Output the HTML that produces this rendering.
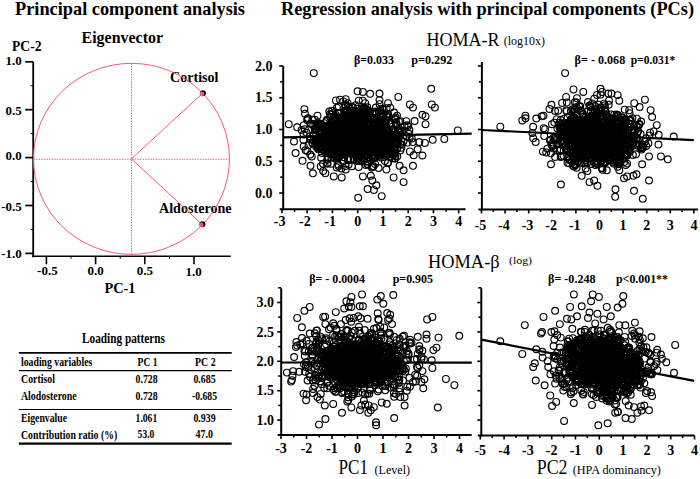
<!DOCTYPE html>
<html><head><meta charset="utf-8"><style>
html,body{margin:0;padding:0;background:#fff;width:700px;height:479px;overflow:hidden}
svg{display:block}
text{font-family:"Liberation Serif",serif;fill:#000}
</style></head><body>
<svg width="700" height="479" viewBox="0 0 700 479">
<text x="15" y="15" font-size="19" font-weight="bold" textLength="230" lengthAdjust="spacingAndGlyphs">Principal component analysis</text>
<text x="281" y="14.5" font-size="19" font-weight="bold" textLength="413" lengthAdjust="spacingAndGlyphs">Regression analysis with principal components (PCs)</text>
<text x="81.5" y="43.2" font-size="16" font-weight="bold" textLength="81.5" lengthAdjust="spacingAndGlyphs">Eigenvector</text>
<text x="12" y="50.8" font-size="15" font-weight="bold" textLength="29.5" lengthAdjust="spacingAndGlyphs">PC-2</text>
<text x="21.8" y="65" font-size="13" font-weight="bold" text-anchor="end">1.0</text>
<text x="21.8" y="115" font-size="13" font-weight="bold" text-anchor="end">0.5</text>
<text x="21.8" y="160.3" font-size="13" font-weight="bold" text-anchor="end">0.0</text>
<text x="21.8" y="210.9" font-size="13" font-weight="bold" text-anchor="end">-0.5</text>
<text x="21.8" y="258" font-size="13" font-weight="bold" text-anchor="end">-1.0</text>
<text x="47.4" y="275" font-size="13" font-weight="bold" text-anchor="middle">-0.5</text>
<text x="95.5" y="275" font-size="13" font-weight="bold" text-anchor="middle">0.0</text>
<text x="144.8" y="275" font-size="13" font-weight="bold" text-anchor="middle">0.5</text>
<text x="193.6" y="276" font-size="13" font-weight="bold" text-anchor="middle">1.0</text>
<text x="104.5" y="293" font-size="14" font-weight="bold" textLength="31" lengthAdjust="spacingAndGlyphs">PC-1</text>
<text x="170" y="81.5" font-size="14" font-weight="bold" textLength="48.5" lengthAdjust="spacingAndGlyphs">Cortisol</text>
<text x="159" y="213" font-size="14" font-weight="bold" textLength="72.6" lengthAdjust="spacingAndGlyphs">Aldosterone</text>
<text x="82" y="342.9" font-size="15.5" font-weight="bold" textLength="83" lengthAdjust="spacingAndGlyphs">Loading patterns</text>
<text x="21" y="365.5" font-size="13.5" font-weight="bold" textLength="71.3" lengthAdjust="spacingAndGlyphs">loading variables</text>
<text x="137.6" y="365.7" font-size="13.5" font-weight="bold" textLength="20" lengthAdjust="spacingAndGlyphs">PC 1</text>
<text x="195.1" y="365.7" font-size="13.5" font-weight="bold" textLength="20.5" lengthAdjust="spacingAndGlyphs">PC 2</text>
<text x="21" y="382.6" font-size="13.5" font-weight="bold" textLength="34" lengthAdjust="spacingAndGlyphs">Cortisol</text>
<text x="135.6" y="383" font-size="13.5" font-weight="bold" textLength="22" lengthAdjust="spacingAndGlyphs">0.728</text>
<text x="193.4" y="383" font-size="13.5" font-weight="bold" textLength="22.2" lengthAdjust="spacingAndGlyphs">0.685</text>
<text x="21" y="399.7" font-size="13.5" font-weight="bold" textLength="55.6" lengthAdjust="spacingAndGlyphs">Alodosterone</text>
<text x="135.6" y="399.5" font-size="13.5" font-weight="bold" textLength="22" lengthAdjust="spacingAndGlyphs">0.728</text>
<text x="192" y="399.5" font-size="13.5" font-weight="bold" textLength="25" lengthAdjust="spacingAndGlyphs">-0.685</text>
<text x="21" y="422" font-size="13.5" font-weight="bold" textLength="46" lengthAdjust="spacingAndGlyphs">Eigenvalue</text>
<text x="135.6" y="421.6" font-size="13.5" font-weight="bold" textLength="21.6" lengthAdjust="spacingAndGlyphs">1.061</text>
<text x="193.4" y="421.6" font-size="13.5" font-weight="bold" textLength="22.2" lengthAdjust="spacingAndGlyphs">0.939</text>
<text x="21" y="438.5" font-size="13.5" font-weight="bold" textLength="96.2" lengthAdjust="spacingAndGlyphs">Contribution ratio (%)</text>
<text x="137.6" y="437.8" font-size="13.5" font-weight="bold" textLength="16.8" lengthAdjust="spacingAndGlyphs">53.0</text>
<text x="195.5" y="437.8" font-size="13.5" font-weight="bold" textLength="17.4" lengthAdjust="spacingAndGlyphs">47.0</text>
<text x="426.5" y="45.8" font-size="18" textLength="73" lengthAdjust="spacingAndGlyphs">HOMA-R</text>
<text x="503.8" y="44.5" font-size="12" textLength="41.2" lengthAdjust="spacingAndGlyphs">(log10x)</text>
<text x="353.9" y="63.9" font-size="11.5" font-weight="bold" textLength="40" lengthAdjust="spacingAndGlyphs">β=0.033</text>
<text x="411.3" y="63.9" font-size="11.5" font-weight="bold" textLength="41" lengthAdjust="spacingAndGlyphs">p=0.292</text>
<text x="574.6" y="63.9" font-size="11.5" font-weight="bold" textLength="50.6" lengthAdjust="spacingAndGlyphs">β= - 0.068</text>
<text x="630.7" y="63.9" font-size="11.5" font-weight="bold" textLength="44.6" lengthAdjust="spacingAndGlyphs">p=0.031*</text>
<text x="428" y="267.5" font-size="18" textLength="71.6" lengthAdjust="spacingAndGlyphs">HOMA-β</text>
<text x="509" y="264" font-size="11" textLength="23" lengthAdjust="spacingAndGlyphs">(log)</text>
<text x="309.2" y="282.9" font-size="11.5" font-weight="bold" textLength="55.8" lengthAdjust="spacingAndGlyphs">β= - 0.0004</text>
<text x="392.7" y="282.9" font-size="11.5" font-weight="bold" textLength="40.3" lengthAdjust="spacingAndGlyphs">p=0.905</text>
<text x="548" y="282.6" font-size="11.5" font-weight="bold" textLength="47.6" lengthAdjust="spacingAndGlyphs">β= -0.248</text>
<text x="616" y="282.6" font-size="11.5" font-weight="bold" textLength="52" lengthAdjust="spacingAndGlyphs">p&lt;0.001**</text>
<text x="338.6" y="474" font-size="20" textLength="29.4" lengthAdjust="spacingAndGlyphs">PC1</text>
<text x="374.5" y="474" font-size="12" textLength="35.5" lengthAdjust="spacingAndGlyphs">(Level)</text>
<text x="536.7" y="474" font-size="20" textLength="30.9" lengthAdjust="spacingAndGlyphs">PC2</text>
<text x="572.7" y="474" font-size="12" textLength="88.2" lengthAdjust="spacingAndGlyphs">(HPA dominancy)</text>
<line x1="33.2" y1="61.9" x2="33.2" y2="257.3" stroke="#000" stroke-width="1.8"/>
<line x1="32.2" y1="256.3" x2="230.8" y2="256.3" stroke="#000" stroke-width="1.6"/>
<line x1="25.200000000000003" y1="61.8" x2="33.2" y2="61.8" stroke="#000" stroke-width="1.7"/>
<line x1="30.700000000000003" y1="85.75" x2="33.2" y2="85.75" stroke="#000" stroke-width="1"/>
<line x1="25.200000000000003" y1="109.69999999999999" x2="33.2" y2="109.69999999999999" stroke="#000" stroke-width="1.7"/>
<line x1="30.700000000000003" y1="133.65" x2="33.2" y2="133.65" stroke="#000" stroke-width="1"/>
<line x1="25.200000000000003" y1="157.6" x2="33.2" y2="157.6" stroke="#000" stroke-width="1.7"/>
<line x1="30.700000000000003" y1="181.54999999999998" x2="33.2" y2="181.54999999999998" stroke="#000" stroke-width="1"/>
<line x1="25.200000000000003" y1="205.5" x2="33.2" y2="205.5" stroke="#000" stroke-width="1.7"/>
<line x1="30.700000000000003" y1="229.45" x2="33.2" y2="229.45" stroke="#000" stroke-width="1"/>
<line x1="25.200000000000003" y1="253.39999999999998" x2="33.2" y2="253.39999999999998" stroke="#000" stroke-width="1.7"/>
<line x1="46.39999999999999" y1="256.3" x2="46.39999999999999" y2="264.3" stroke="#000" stroke-width="1.6"/>
<line x1="71.0" y1="256.3" x2="71.0" y2="258.8" stroke="#000" stroke-width="1"/>
<line x1="95.6" y1="256.3" x2="95.6" y2="264.3" stroke="#000" stroke-width="1.6"/>
<line x1="120.19999999999999" y1="256.3" x2="120.19999999999999" y2="258.8" stroke="#000" stroke-width="1"/>
<line x1="144.8" y1="256.3" x2="144.8" y2="264.3" stroke="#000" stroke-width="1.6"/>
<line x1="169.4" y1="256.3" x2="169.4" y2="258.8" stroke="#000" stroke-width="1"/>
<line x1="194.0" y1="256.3" x2="194.0" y2="264.3" stroke="#000" stroke-width="1.6"/>
<line x1="131.45" y1="63.349999999999994" x2="131.45" y2="254.35" stroke="#f25a74" stroke-width="1" stroke-dasharray="1.4 1.2"/>
<line x1="33.44999999999999" y1="159.25" x2="229.45" y2="159.25" stroke="#f25a74" stroke-width="1" stroke-dasharray="1.4 1.2"/>
<line x1="131.45" y1="158.85" x2="202.5" y2="93.3" stroke="#f25a74" stroke-width="1"/>
<line x1="131.45" y1="158.85" x2="202" y2="224.3" stroke="#f25a74" stroke-width="1"/>
<ellipse cx="131.45" cy="158.85" rx="98" ry="95.5" fill="none" stroke="#f25a74" stroke-width="1"/>
<circle cx="202.9" cy="93.2" r="3.0" fill="#000"/>
<circle cx="201.9" cy="93.89999999999999" r="2.3" fill="#f25a74"/>
<circle cx="202.4" cy="224.20000000000002" r="3.0" fill="#000"/>
<circle cx="201.4" cy="224.9" r="2.3" fill="#f25a74"/>
<line x1="18.9" y1="352.9" x2="231.7" y2="352.9" stroke="#000" stroke-width="1.8"/>
<line x1="18.9" y1="370.6" x2="231.7" y2="370.6" stroke="#000" stroke-width="1.1"/>
<line x1="18.9" y1="409.5" x2="231.7" y2="409.5" stroke="#000" stroke-width="1.1"/>
<line x1="18.9" y1="443.6" x2="231.7" y2="443.6" stroke="#000" stroke-width="2.2"/>
<line x1="283.2" y1="66" x2="283.2" y2="210.3" stroke="#000" stroke-width="2"/>
<line x1="279.7" y1="209.3" x2="465.6" y2="209.3" stroke="#000" stroke-width="2"/>
<line x1="279.2" y1="66.0" x2="283.2" y2="66.0" stroke="#000" stroke-width="1.6"/>
<text x="272.5" y="70.7" font-size="14" font-weight="bold" text-anchor="end">2.0</text>
<line x1="280.2" y1="81.875" x2="283.2" y2="81.875" stroke="#000" stroke-width="1.6"/>
<line x1="279.2" y1="97.75" x2="283.2" y2="97.75" stroke="#000" stroke-width="1.6"/>
<text x="272.5" y="102.45" font-size="14" font-weight="bold" text-anchor="end">1.5</text>
<line x1="280.2" y1="113.625" x2="283.2" y2="113.625" stroke="#000" stroke-width="1.6"/>
<line x1="279.2" y1="129.5" x2="283.2" y2="129.5" stroke="#000" stroke-width="1.6"/>
<text x="272.5" y="134.2" font-size="14" font-weight="bold" text-anchor="end">1.0</text>
<line x1="280.2" y1="145.375" x2="283.2" y2="145.375" stroke="#000" stroke-width="1.6"/>
<line x1="279.2" y1="161.25" x2="283.2" y2="161.25" stroke="#000" stroke-width="1.6"/>
<text x="272.5" y="165.95" font-size="14" font-weight="bold" text-anchor="end">0.5</text>
<line x1="280.2" y1="177.125" x2="283.2" y2="177.125" stroke="#000" stroke-width="1.6"/>
<line x1="279.2" y1="193.0" x2="283.2" y2="193.0" stroke="#000" stroke-width="1.6"/>
<text x="272.5" y="197.7" font-size="14" font-weight="bold" text-anchor="end">0.0</text>
<line x1="281.95" y1="209.3" x2="281.95" y2="213.3" stroke="#000" stroke-width="1.6"/>
<text x="279.61899999999997" y="226.4" font-size="14" font-weight="bold" text-anchor="middle">-3</text>
<line x1="294.575" y1="209.3" x2="294.575" y2="211.8" stroke="#000" stroke-width="1.6"/>
<line x1="307.2" y1="209.3" x2="307.2" y2="213.3" stroke="#000" stroke-width="1.6"/>
<text x="304.86899999999997" y="226.4" font-size="14" font-weight="bold" text-anchor="middle">-2</text>
<line x1="319.825" y1="209.3" x2="319.825" y2="211.8" stroke="#000" stroke-width="1.6"/>
<line x1="332.45" y1="209.3" x2="332.45" y2="213.3" stroke="#000" stroke-width="1.6"/>
<text x="330.11899999999997" y="226.4" font-size="14" font-weight="bold" text-anchor="middle">-1</text>
<line x1="345.075" y1="209.3" x2="345.075" y2="211.8" stroke="#000" stroke-width="1.6"/>
<line x1="357.7" y1="209.3" x2="357.7" y2="213.3" stroke="#000" stroke-width="1.6"/>
<text x="357.7" y="226.4" font-size="14" font-weight="bold" text-anchor="middle">0</text>
<line x1="370.325" y1="209.3" x2="370.325" y2="211.8" stroke="#000" stroke-width="1.6"/>
<line x1="382.95" y1="209.3" x2="382.95" y2="213.3" stroke="#000" stroke-width="1.6"/>
<text x="382.95" y="226.4" font-size="14" font-weight="bold" text-anchor="middle">1</text>
<line x1="395.575" y1="209.3" x2="395.575" y2="211.8" stroke="#000" stroke-width="1.6"/>
<line x1="408.2" y1="209.3" x2="408.2" y2="213.3" stroke="#000" stroke-width="1.6"/>
<text x="408.2" y="226.4" font-size="14" font-weight="bold" text-anchor="middle">2</text>
<line x1="420.825" y1="209.3" x2="420.825" y2="211.8" stroke="#000" stroke-width="1.6"/>
<line x1="433.45" y1="209.3" x2="433.45" y2="213.3" stroke="#000" stroke-width="1.6"/>
<text x="433.45" y="226.4" font-size="14" font-weight="bold" text-anchor="middle">3</text>
<line x1="446.075" y1="209.3" x2="446.075" y2="211.8" stroke="#000" stroke-width="1.6"/>
<line x1="458.7" y1="209.3" x2="458.7" y2="213.3" stroke="#000" stroke-width="1.6"/>
<text x="458.7" y="226.4" font-size="14" font-weight="bold" text-anchor="middle">4</text>
<g fill="none" stroke="#000" stroke-width="1.15"><circle cx="368.7" cy="152.6" r="3.4"/><circle cx="387.6" cy="144.8" r="3.4"/><circle cx="338.8" cy="147.6" r="3.4"/><circle cx="369.3" cy="141.6" r="3.4"/><circle cx="358.0" cy="146.9" r="3.4"/><circle cx="332.1" cy="132.1" r="3.4"/><circle cx="340.7" cy="147.9" r="3.4"/><circle cx="358.3" cy="129.4" r="3.4"/><circle cx="330.5" cy="130.2" r="3.4"/><circle cx="357.3" cy="129.8" r="3.4"/><circle cx="351.1" cy="126.7" r="3.4"/><circle cx="364.2" cy="140.0" r="3.4"/><circle cx="378.9" cy="149.3" r="3.4"/><circle cx="362.7" cy="137.8" r="3.4"/><circle cx="354.6" cy="115.9" r="3.4"/><circle cx="353.7" cy="137.5" r="3.4"/><circle cx="358.2" cy="125.0" r="3.4"/><circle cx="377.1" cy="154.0" r="3.4"/><circle cx="367.9" cy="118.5" r="3.4"/><circle cx="381.8" cy="125.1" r="3.4"/><circle cx="388.0" cy="135.1" r="3.4"/><circle cx="314.7" cy="129.0" r="3.4"/><circle cx="358.8" cy="141.2" r="3.4"/><circle cx="363.8" cy="125.8" r="3.4"/><circle cx="365.0" cy="151.3" r="3.4"/><circle cx="398.4" cy="129.3" r="3.4"/><circle cx="329.6" cy="151.1" r="3.4"/><circle cx="365.6" cy="154.1" r="3.4"/><circle cx="353.3" cy="126.2" r="3.4"/><circle cx="383.2" cy="139.5" r="3.4"/><circle cx="386.9" cy="149.6" r="3.4"/><circle cx="335.3" cy="135.5" r="3.4"/><circle cx="372.1" cy="145.2" r="3.4"/><circle cx="386.7" cy="140.8" r="3.4"/><circle cx="353.8" cy="130.1" r="3.4"/><circle cx="352.3" cy="136.2" r="3.4"/><circle cx="335.0" cy="153.4" r="3.4"/><circle cx="352.7" cy="149.4" r="3.4"/><circle cx="398.3" cy="143.5" r="3.4"/><circle cx="333.7" cy="138.5" r="3.4"/><circle cx="350.5" cy="153.2" r="3.4"/><circle cx="358.1" cy="135.8" r="3.4"/><circle cx="332.8" cy="145.3" r="3.4"/><circle cx="322.0" cy="149.3" r="3.4"/><circle cx="328.5" cy="125.0" r="3.4"/><circle cx="345.2" cy="146.5" r="3.4"/><circle cx="343.3" cy="141.3" r="3.4"/><circle cx="351.0" cy="118.0" r="3.4"/><circle cx="346.2" cy="115.8" r="3.4"/><circle cx="357.2" cy="112.2" r="3.4"/><circle cx="355.2" cy="134.4" r="3.4"/><circle cx="374.3" cy="126.8" r="3.4"/><circle cx="349.3" cy="144.3" r="3.4"/><circle cx="366.6" cy="111.4" r="3.4"/><circle cx="385.2" cy="123.2" r="3.4"/><circle cx="317.2" cy="138.8" r="3.4"/><circle cx="387.4" cy="130.6" r="3.4"/><circle cx="335.7" cy="140.3" r="3.4"/><circle cx="380.7" cy="149.3" r="3.4"/><circle cx="336.9" cy="132.9" r="3.4"/><circle cx="354.5" cy="137.8" r="3.4"/><circle cx="356.0" cy="139.1" r="3.4"/><circle cx="373.7" cy="138.8" r="3.4"/><circle cx="330.6" cy="137.3" r="3.4"/><circle cx="394.6" cy="139.0" r="3.4"/><circle cx="375.6" cy="113.4" r="3.4"/><circle cx="321.0" cy="143.2" r="3.4"/><circle cx="334.2" cy="135.0" r="3.4"/><circle cx="324.2" cy="129.4" r="3.4"/><circle cx="374.0" cy="122.1" r="3.4"/><circle cx="348.9" cy="123.8" r="3.4"/><circle cx="352.5" cy="111.2" r="3.4"/><circle cx="342.2" cy="131.2" r="3.4"/><circle cx="345.7" cy="136.7" r="3.4"/><circle cx="347.1" cy="151.1" r="3.4"/><circle cx="346.1" cy="132.7" r="3.4"/><circle cx="334.5" cy="124.6" r="3.4"/><circle cx="369.2" cy="143.9" r="3.4"/><circle cx="371.2" cy="140.9" r="3.4"/><circle cx="360.2" cy="131.8" r="3.4"/><circle cx="345.0" cy="142.2" r="3.4"/><circle cx="345.5" cy="134.3" r="3.4"/><circle cx="365.3" cy="120.0" r="3.4"/><circle cx="380.0" cy="125.7" r="3.4"/><circle cx="327.6" cy="137.1" r="3.4"/><circle cx="372.1" cy="130.7" r="3.4"/><circle cx="327.8" cy="148.4" r="3.4"/><circle cx="357.9" cy="134.4" r="3.4"/><circle cx="387.4" cy="116.5" r="3.4"/><circle cx="335.8" cy="142.4" r="3.4"/><circle cx="333.4" cy="120.3" r="3.4"/><circle cx="386.1" cy="134.7" r="3.4"/><circle cx="386.0" cy="126.2" r="3.4"/><circle cx="347.5" cy="145.6" r="3.4"/><circle cx="326.2" cy="144.6" r="3.4"/><circle cx="363.7" cy="121.5" r="3.4"/><circle cx="361.9" cy="151.7" r="3.4"/><circle cx="361.6" cy="141.0" r="3.4"/><circle cx="330.5" cy="149.4" r="3.4"/><circle cx="336.9" cy="132.2" r="3.4"/><circle cx="340.7" cy="120.9" r="3.4"/><circle cx="361.7" cy="129.5" r="3.4"/><circle cx="368.0" cy="155.3" r="3.4"/><circle cx="335.6" cy="118.7" r="3.4"/><circle cx="344.6" cy="133.1" r="3.4"/><circle cx="354.3" cy="122.2" r="3.4"/><circle cx="326.3" cy="127.5" r="3.4"/><circle cx="349.4" cy="113.8" r="3.4"/><circle cx="325.9" cy="131.6" r="3.4"/><circle cx="339.4" cy="155.0" r="3.4"/><circle cx="395.5" cy="135.8" r="3.4"/><circle cx="378.6" cy="134.9" r="3.4"/><circle cx="319.8" cy="147.8" r="3.4"/><circle cx="363.9" cy="148.2" r="3.4"/><circle cx="359.5" cy="119.0" r="3.4"/><circle cx="338.3" cy="153.9" r="3.4"/><circle cx="385.6" cy="144.1" r="3.4"/><circle cx="386.6" cy="128.5" r="3.4"/><circle cx="376.3" cy="125.3" r="3.4"/><circle cx="379.8" cy="156.4" r="3.4"/><circle cx="332.1" cy="134.4" r="3.4"/><circle cx="358.3" cy="160.2" r="3.4"/><circle cx="372.5" cy="151.0" r="3.4"/><circle cx="374.5" cy="156.7" r="3.4"/><circle cx="334.4" cy="146.7" r="3.4"/><circle cx="356.9" cy="156.1" r="3.4"/><circle cx="326.4" cy="131.7" r="3.4"/><circle cx="353.7" cy="159.2" r="3.4"/><circle cx="376.6" cy="119.9" r="3.4"/><circle cx="380.1" cy="151.5" r="3.4"/><circle cx="353.2" cy="130.1" r="3.4"/><circle cx="363.4" cy="140.4" r="3.4"/><circle cx="327.7" cy="150.9" r="3.4"/><circle cx="388.9" cy="143.3" r="3.4"/><circle cx="316.5" cy="128.7" r="3.4"/><circle cx="386.3" cy="120.5" r="3.4"/><circle cx="387.6" cy="138.0" r="3.4"/><circle cx="352.3" cy="136.7" r="3.4"/><circle cx="350.1" cy="148.3" r="3.4"/><circle cx="367.5" cy="128.2" r="3.4"/><circle cx="391.1" cy="122.8" r="3.4"/><circle cx="366.7" cy="144.3" r="3.4"/><circle cx="350.4" cy="121.5" r="3.4"/><circle cx="376.8" cy="136.5" r="3.4"/><circle cx="338.2" cy="121.5" r="3.4"/><circle cx="386.4" cy="142.9" r="3.4"/><circle cx="342.5" cy="136.6" r="3.4"/><circle cx="387.9" cy="129.7" r="3.4"/><circle cx="358.3" cy="125.5" r="3.4"/><circle cx="330.5" cy="131.7" r="3.4"/><circle cx="342.9" cy="141.0" r="3.4"/><circle cx="357.8" cy="130.7" r="3.4"/><circle cx="350.3" cy="138.5" r="3.4"/><circle cx="371.7" cy="117.1" r="3.4"/><circle cx="365.8" cy="148.5" r="3.4"/><circle cx="362.5" cy="141.4" r="3.4"/><circle cx="377.0" cy="121.7" r="3.4"/><circle cx="348.9" cy="146.1" r="3.4"/><circle cx="390.9" cy="143.7" r="3.4"/><circle cx="352.5" cy="118.5" r="3.4"/><circle cx="317.0" cy="138.9" r="3.4"/><circle cx="394.6" cy="141.1" r="3.4"/><circle cx="362.9" cy="127.6" r="3.4"/><circle cx="364.9" cy="136.1" r="3.4"/><circle cx="326.9" cy="149.4" r="3.4"/><circle cx="376.9" cy="140.9" r="3.4"/><circle cx="328.9" cy="132.1" r="3.4"/><circle cx="384.4" cy="140.7" r="3.4"/><circle cx="382.1" cy="113.3" r="3.4"/><circle cx="389.0" cy="147.3" r="3.4"/><circle cx="337.4" cy="148.1" r="3.4"/><circle cx="366.1" cy="109.6" r="3.4"/><circle cx="357.7" cy="155.9" r="3.4"/><circle cx="324.3" cy="151.1" r="3.4"/><circle cx="354.0" cy="159.0" r="3.4"/><circle cx="372.8" cy="112.9" r="3.4"/><circle cx="361.3" cy="160.8" r="3.4"/><circle cx="318.8" cy="123.9" r="3.4"/><circle cx="384.1" cy="140.5" r="3.4"/><circle cx="355.2" cy="140.5" r="3.4"/><circle cx="332.2" cy="154.1" r="3.4"/><circle cx="339.0" cy="137.1" r="3.4"/><circle cx="380.2" cy="153.8" r="3.4"/><circle cx="352.7" cy="141.9" r="3.4"/><circle cx="380.3" cy="128.4" r="3.4"/><circle cx="389.4" cy="129.7" r="3.4"/><circle cx="333.2" cy="153.2" r="3.4"/><circle cx="321.1" cy="137.5" r="3.4"/><circle cx="328.1" cy="150.1" r="3.4"/><circle cx="356.2" cy="129.1" r="3.4"/><circle cx="361.3" cy="153.9" r="3.4"/><circle cx="348.8" cy="150.7" r="3.4"/><circle cx="381.4" cy="144.8" r="3.4"/><circle cx="346.7" cy="121.4" r="3.4"/><circle cx="328.4" cy="145.4" r="3.4"/><circle cx="340.9" cy="128.2" r="3.4"/><circle cx="379.4" cy="138.4" r="3.4"/><circle cx="370.6" cy="147.9" r="3.4"/><circle cx="358.0" cy="158.6" r="3.4"/><circle cx="338.4" cy="156.9" r="3.4"/><circle cx="362.9" cy="123.1" r="3.4"/><circle cx="320.8" cy="124.5" r="3.4"/><circle cx="343.3" cy="123.8" r="3.4"/><circle cx="363.2" cy="120.0" r="3.4"/><circle cx="396.3" cy="134.0" r="3.4"/><circle cx="383.6" cy="141.5" r="3.4"/><circle cx="339.2" cy="153.5" r="3.4"/><circle cx="327.5" cy="148.9" r="3.4"/><circle cx="325.2" cy="146.6" r="3.4"/><circle cx="329.2" cy="125.6" r="3.4"/><circle cx="372.7" cy="155.8" r="3.4"/><circle cx="346.5" cy="147.2" r="3.4"/><circle cx="338.4" cy="122.4" r="3.4"/><circle cx="339.0" cy="141.5" r="3.4"/><circle cx="337.4" cy="117.3" r="3.4"/><circle cx="337.6" cy="138.2" r="3.4"/><circle cx="318.0" cy="140.9" r="3.4"/><circle cx="357.1" cy="146.5" r="3.4"/><circle cx="343.9" cy="157.2" r="3.4"/><circle cx="330.2" cy="116.9" r="3.4"/><circle cx="336.1" cy="115.1" r="3.4"/><circle cx="400.1" cy="135.0" r="3.4"/><circle cx="366.3" cy="123.5" r="3.4"/><circle cx="318.0" cy="144.8" r="3.4"/><circle cx="366.1" cy="112.5" r="3.4"/><circle cx="350.9" cy="122.4" r="3.4"/><circle cx="339.1" cy="113.0" r="3.4"/><circle cx="389.2" cy="147.3" r="3.4"/><circle cx="397.1" cy="138.2" r="3.4"/><circle cx="316.7" cy="144.8" r="3.4"/><circle cx="397.6" cy="142.1" r="3.4"/><circle cx="336.3" cy="127.5" r="3.4"/><circle cx="361.6" cy="139.3" r="3.4"/><circle cx="338.0" cy="126.5" r="3.4"/><circle cx="362.2" cy="118.1" r="3.4"/><circle cx="328.6" cy="151.3" r="3.4"/><circle cx="346.8" cy="150.8" r="3.4"/><circle cx="334.1" cy="116.2" r="3.4"/><circle cx="315.7" cy="130.0" r="3.4"/><circle cx="400.6" cy="132.7" r="3.4"/><circle cx="333.4" cy="133.4" r="3.4"/><circle cx="386.9" cy="142.6" r="3.4"/><circle cx="360.3" cy="113.6" r="3.4"/><circle cx="313.8" cy="134.7" r="3.4"/><circle cx="340.5" cy="141.9" r="3.4"/><circle cx="355.7" cy="131.3" r="3.4"/><circle cx="325.3" cy="134.1" r="3.4"/><circle cx="334.4" cy="131.3" r="3.4"/><circle cx="353.0" cy="148.0" r="3.4"/><circle cx="335.5" cy="127.7" r="3.4"/><circle cx="391.5" cy="129.8" r="3.4"/><circle cx="346.3" cy="152.3" r="3.4"/><circle cx="364.4" cy="136.3" r="3.4"/><circle cx="365.0" cy="115.7" r="3.4"/><circle cx="347.7" cy="137.2" r="3.4"/><circle cx="353.2" cy="151.1" r="3.4"/><circle cx="340.6" cy="149.6" r="3.4"/><circle cx="343.1" cy="141.4" r="3.4"/><circle cx="359.2" cy="161.1" r="3.4"/><circle cx="343.5" cy="147.3" r="3.4"/><circle cx="381.6" cy="146.2" r="3.4"/><circle cx="364.7" cy="136.2" r="3.4"/><circle cx="365.4" cy="118.2" r="3.4"/><circle cx="364.8" cy="132.4" r="3.4"/><circle cx="368.7" cy="123.2" r="3.4"/><circle cx="345.1" cy="125.0" r="3.4"/><circle cx="381.5" cy="113.2" r="3.4"/><circle cx="318.3" cy="148.0" r="3.4"/><circle cx="327.3" cy="152.6" r="3.4"/><circle cx="354.5" cy="154.2" r="3.4"/><circle cx="346.0" cy="110.6" r="3.4"/><circle cx="352.3" cy="151.6" r="3.4"/><circle cx="361.7" cy="126.3" r="3.4"/><circle cx="362.9" cy="120.6" r="3.4"/><circle cx="348.0" cy="136.7" r="3.4"/><circle cx="342.4" cy="118.0" r="3.4"/><circle cx="360.0" cy="143.2" r="3.4"/><circle cx="383.5" cy="134.7" r="3.4"/><circle cx="383.8" cy="145.9" r="3.4"/><circle cx="380.8" cy="154.7" r="3.4"/><circle cx="386.6" cy="134.3" r="3.4"/><circle cx="368.3" cy="125.3" r="3.4"/><circle cx="379.5" cy="151.6" r="3.4"/><circle cx="340.3" cy="118.9" r="3.4"/><circle cx="376.3" cy="122.3" r="3.4"/><circle cx="357.5" cy="117.6" r="3.4"/><circle cx="348.4" cy="127.4" r="3.4"/><circle cx="386.5" cy="155.3" r="3.4"/><circle cx="379.0" cy="142.2" r="3.4"/><circle cx="331.2" cy="114.5" r="3.4"/><circle cx="386.8" cy="141.1" r="3.4"/><circle cx="348.8" cy="118.1" r="3.4"/><circle cx="389.2" cy="147.5" r="3.4"/><circle cx="345.0" cy="131.1" r="3.4"/><circle cx="344.8" cy="128.5" r="3.4"/><circle cx="343.6" cy="141.2" r="3.4"/><circle cx="363.6" cy="152.9" r="3.4"/><circle cx="356.1" cy="151.8" r="3.4"/><circle cx="347.1" cy="149.9" r="3.4"/><circle cx="326.6" cy="150.2" r="3.4"/><circle cx="355.9" cy="128.6" r="3.4"/><circle cx="367.6" cy="113.7" r="3.4"/><circle cx="355.0" cy="144.7" r="3.4"/><circle cx="348.3" cy="122.1" r="3.4"/><circle cx="359.4" cy="154.3" r="3.4"/><circle cx="379.1" cy="154.8" r="3.4"/><circle cx="337.4" cy="119.1" r="3.4"/><circle cx="372.8" cy="150.6" r="3.4"/><circle cx="340.3" cy="126.3" r="3.4"/><circle cx="366.7" cy="146.4" r="3.4"/><circle cx="389.0" cy="117.3" r="3.4"/><circle cx="328.0" cy="138.9" r="3.4"/><circle cx="338.4" cy="154.1" r="3.4"/><circle cx="363.6" cy="145.9" r="3.4"/><circle cx="374.3" cy="153.8" r="3.4"/><circle cx="336.5" cy="125.5" r="3.4"/><circle cx="396.6" cy="135.5" r="3.4"/><circle cx="362.1" cy="148.9" r="3.4"/><circle cx="330.1" cy="125.0" r="3.4"/><circle cx="347.2" cy="111.9" r="3.4"/><circle cx="336.0" cy="130.3" r="3.4"/><circle cx="344.9" cy="153.0" r="3.4"/><circle cx="348.9" cy="118.3" r="3.4"/><circle cx="352.5" cy="144.8" r="3.4"/><circle cx="353.3" cy="127.1" r="3.4"/><circle cx="381.9" cy="123.7" r="3.4"/><circle cx="344.7" cy="136.3" r="3.4"/><circle cx="381.7" cy="130.9" r="3.4"/><circle cx="351.5" cy="143.1" r="3.4"/><circle cx="349.8" cy="119.1" r="3.4"/><circle cx="372.2" cy="137.5" r="3.4"/><circle cx="389.3" cy="124.1" r="3.4"/><circle cx="369.9" cy="148.7" r="3.4"/><circle cx="366.4" cy="134.9" r="3.4"/><circle cx="333.4" cy="154.3" r="3.4"/><circle cx="361.6" cy="145.8" r="3.4"/><circle cx="345.1" cy="135.8" r="3.4"/><circle cx="321.9" cy="137.3" r="3.4"/><circle cx="382.9" cy="137.4" r="3.4"/><circle cx="386.1" cy="142.0" r="3.4"/><circle cx="351.4" cy="115.3" r="3.4"/><circle cx="379.0" cy="141.0" r="3.4"/><circle cx="372.1" cy="128.6" r="3.4"/><circle cx="363.7" cy="140.8" r="3.4"/><circle cx="356.6" cy="143.1" r="3.4"/><circle cx="376.5" cy="117.9" r="3.4"/><circle cx="326.5" cy="151.8" r="3.4"/><circle cx="387.1" cy="129.5" r="3.4"/><circle cx="328.4" cy="134.8" r="3.4"/><circle cx="348.2" cy="160.0" r="3.4"/><circle cx="357.5" cy="112.5" r="3.4"/><circle cx="332.1" cy="125.1" r="3.4"/><circle cx="337.5" cy="139.4" r="3.4"/><circle cx="351.6" cy="149.1" r="3.4"/><circle cx="331.4" cy="157.4" r="3.4"/><circle cx="345.7" cy="121.6" r="3.4"/><circle cx="318.4" cy="146.1" r="3.4"/><circle cx="346.7" cy="126.1" r="3.4"/><circle cx="367.8" cy="123.4" r="3.4"/><circle cx="333.8" cy="126.0" r="3.4"/><circle cx="377.4" cy="136.7" r="3.4"/><circle cx="316.6" cy="129.2" r="3.4"/><circle cx="318.3" cy="142.5" r="3.4"/><circle cx="348.2" cy="152.6" r="3.4"/><circle cx="374.6" cy="124.2" r="3.4"/><circle cx="338.8" cy="143.9" r="3.4"/><circle cx="375.7" cy="113.9" r="3.4"/><circle cx="364.5" cy="132.2" r="3.4"/><circle cx="354.7" cy="140.1" r="3.4"/><circle cx="352.3" cy="131.9" r="3.4"/><circle cx="377.7" cy="120.9" r="3.4"/><circle cx="345.0" cy="141.4" r="3.4"/><circle cx="382.5" cy="133.2" r="3.4"/><circle cx="373.5" cy="145.2" r="3.4"/><circle cx="351.1" cy="153.1" r="3.4"/><circle cx="336.5" cy="158.6" r="3.4"/><circle cx="358.4" cy="134.7" r="3.4"/><circle cx="357.0" cy="133.5" r="3.4"/><circle cx="363.0" cy="161.3" r="3.4"/><circle cx="381.3" cy="129.2" r="3.4"/><circle cx="386.9" cy="151.3" r="3.4"/><circle cx="381.8" cy="125.4" r="3.4"/><circle cx="363.2" cy="115.5" r="3.4"/><circle cx="357.0" cy="128.4" r="3.4"/><circle cx="377.4" cy="143.4" r="3.4"/><circle cx="365.0" cy="129.1" r="3.4"/><circle cx="356.2" cy="123.5" r="3.4"/><circle cx="374.5" cy="133.2" r="3.4"/><circle cx="357.7" cy="128.4" r="3.4"/><circle cx="371.3" cy="141.9" r="3.4"/><circle cx="355.8" cy="145.4" r="3.4"/><circle cx="374.8" cy="132.3" r="3.4"/><circle cx="372.3" cy="156.9" r="3.4"/><circle cx="399.0" cy="137.5" r="3.4"/><circle cx="340.2" cy="140.5" r="3.4"/><circle cx="352.4" cy="150.8" r="3.4"/><circle cx="341.4" cy="153.3" r="3.4"/><circle cx="359.6" cy="154.2" r="3.4"/><circle cx="373.3" cy="124.6" r="3.4"/><circle cx="398.2" cy="137.6" r="3.4"/><circle cx="383.0" cy="124.6" r="3.4"/><circle cx="342.6" cy="147.6" r="3.4"/><circle cx="366.7" cy="118.2" r="3.4"/><circle cx="334.4" cy="149.3" r="3.4"/><circle cx="381.5" cy="131.1" r="3.4"/><circle cx="383.4" cy="153.5" r="3.4"/><circle cx="358.8" cy="114.4" r="3.4"/><circle cx="398.4" cy="131.1" r="3.4"/><circle cx="338.7" cy="129.7" r="3.4"/><circle cx="356.8" cy="114.1" r="3.4"/><circle cx="372.7" cy="137.2" r="3.4"/><circle cx="336.9" cy="133.5" r="3.4"/><circle cx="328.6" cy="130.5" r="3.4"/><circle cx="356.2" cy="137.5" r="3.4"/><circle cx="351.2" cy="141.1" r="3.4"/><circle cx="370.1" cy="153.2" r="3.4"/><circle cx="342.5" cy="119.9" r="3.4"/><circle cx="321.0" cy="147.8" r="3.4"/><circle cx="355.4" cy="147.0" r="3.4"/><circle cx="364.0" cy="151.1" r="3.4"/><circle cx="346.4" cy="110.2" r="3.4"/><circle cx="319.6" cy="128.5" r="3.4"/><circle cx="360.7" cy="155.7" r="3.4"/><circle cx="378.9" cy="121.8" r="3.4"/><circle cx="363.8" cy="150.2" r="3.4"/><circle cx="375.6" cy="143.9" r="3.4"/><circle cx="328.4" cy="144.0" r="3.4"/><circle cx="333.8" cy="140.9" r="3.4"/><circle cx="385.7" cy="136.4" r="3.4"/><circle cx="320.0" cy="126.7" r="3.4"/><circle cx="322.8" cy="136.3" r="3.4"/><circle cx="354.7" cy="130.8" r="3.4"/><circle cx="357.9" cy="133.8" r="3.4"/><circle cx="382.6" cy="147.2" r="3.4"/><circle cx="337.0" cy="118.4" r="3.4"/><circle cx="330.3" cy="142.4" r="3.4"/><circle cx="327.0" cy="146.6" r="3.4"/><circle cx="343.3" cy="140.6" r="3.4"/><circle cx="397.7" cy="131.9" r="3.4"/><circle cx="377.0" cy="150.4" r="3.4"/><circle cx="341.6" cy="151.6" r="3.4"/><circle cx="393.2" cy="132.2" r="3.4"/><circle cx="359.2" cy="135.5" r="3.4"/><circle cx="346.5" cy="122.6" r="3.4"/><circle cx="362.3" cy="126.9" r="3.4"/><circle cx="346.4" cy="119.4" r="3.4"/><circle cx="368.1" cy="110.9" r="3.4"/><circle cx="377.4" cy="122.0" r="3.4"/><circle cx="329.3" cy="140.4" r="3.4"/><circle cx="347.0" cy="133.7" r="3.4"/><circle cx="362.4" cy="134.0" r="3.4"/><circle cx="339.0" cy="157.0" r="3.4"/><circle cx="315.9" cy="130.2" r="3.4"/><circle cx="323.4" cy="127.2" r="3.4"/><circle cx="350.3" cy="127.6" r="3.4"/><circle cx="351.7" cy="143.7" r="3.4"/><circle cx="353.9" cy="146.9" r="3.4"/><circle cx="385.1" cy="145.8" r="3.4"/><circle cx="329.6" cy="129.9" r="3.4"/><circle cx="348.4" cy="126.8" r="3.4"/><circle cx="350.9" cy="113.2" r="3.4"/><circle cx="389.0" cy="120.7" r="3.4"/><circle cx="355.0" cy="149.6" r="3.4"/><circle cx="345.4" cy="148.3" r="3.4"/><circle cx="336.2" cy="128.1" r="3.4"/><circle cx="354.1" cy="126.0" r="3.4"/><circle cx="365.9" cy="145.4" r="3.4"/><circle cx="323.4" cy="142.6" r="3.4"/><circle cx="333.7" cy="135.3" r="3.4"/><circle cx="379.4" cy="124.3" r="3.4"/><circle cx="388.0" cy="153.3" r="3.4"/><circle cx="346.8" cy="143.2" r="3.4"/><circle cx="339.3" cy="143.5" r="3.4"/><circle cx="352.7" cy="134.2" r="3.4"/><circle cx="368.9" cy="125.0" r="3.4"/><circle cx="324.7" cy="130.5" r="3.4"/><circle cx="372.7" cy="126.7" r="3.4"/><circle cx="332.6" cy="136.2" r="3.4"/><circle cx="361.7" cy="140.8" r="3.4"/><circle cx="369.6" cy="133.1" r="3.4"/><circle cx="342.5" cy="149.5" r="3.4"/><circle cx="343.7" cy="129.4" r="3.4"/><circle cx="322.4" cy="141.9" r="3.4"/><circle cx="395.2" cy="147.3" r="3.4"/><circle cx="383.1" cy="150.4" r="3.4"/><circle cx="362.3" cy="150.2" r="3.4"/><circle cx="339.3" cy="131.2" r="3.4"/><circle cx="364.4" cy="127.3" r="3.4"/><circle cx="323.7" cy="144.9" r="3.4"/><circle cx="340.7" cy="155.1" r="3.4"/><circle cx="365.1" cy="151.6" r="3.4"/><circle cx="366.9" cy="161.4" r="3.4"/><circle cx="333.8" cy="127.8" r="3.4"/><circle cx="347.0" cy="148.8" r="3.4"/><circle cx="350.6" cy="159.6" r="3.4"/><circle cx="340.0" cy="133.3" r="3.4"/><circle cx="316.3" cy="143.3" r="3.4"/><circle cx="350.9" cy="151.8" r="3.4"/><circle cx="336.7" cy="117.2" r="3.4"/><circle cx="337.2" cy="120.3" r="3.4"/><circle cx="346.7" cy="116.5" r="3.4"/><circle cx="355.5" cy="120.9" r="3.4"/><circle cx="342.9" cy="143.0" r="3.4"/><circle cx="380.7" cy="145.2" r="3.4"/><circle cx="332.1" cy="143.7" r="3.4"/><circle cx="352.9" cy="133.3" r="3.4"/><circle cx="378.7" cy="112.3" r="3.4"/><circle cx="327.4" cy="149.7" r="3.4"/><circle cx="357.2" cy="117.6" r="3.4"/><circle cx="376.6" cy="132.4" r="3.4"/><circle cx="366.3" cy="125.1" r="3.4"/><circle cx="356.7" cy="114.6" r="3.4"/><circle cx="373.7" cy="147.7" r="3.4"/><circle cx="374.9" cy="126.4" r="3.4"/><circle cx="361.0" cy="136.3" r="3.4"/><circle cx="346.2" cy="132.0" r="3.4"/><circle cx="354.4" cy="121.3" r="3.4"/><circle cx="338.0" cy="158.0" r="3.4"/><circle cx="337.7" cy="156.0" r="3.4"/><circle cx="375.6" cy="148.3" r="3.4"/><circle cx="347.2" cy="127.5" r="3.4"/><circle cx="355.4" cy="140.8" r="3.4"/><circle cx="335.5" cy="132.7" r="3.4"/><circle cx="379.0" cy="135.2" r="3.4"/><circle cx="349.9" cy="130.4" r="3.4"/><circle cx="364.5" cy="115.4" r="3.4"/><circle cx="390.3" cy="141.7" r="3.4"/><circle cx="375.7" cy="120.2" r="3.4"/><circle cx="366.7" cy="136.1" r="3.4"/><circle cx="376.5" cy="113.6" r="3.4"/><circle cx="380.8" cy="136.1" r="3.4"/><circle cx="364.8" cy="117.1" r="3.4"/><circle cx="365.6" cy="114.1" r="3.4"/><circle cx="360.8" cy="128.8" r="3.4"/><circle cx="331.2" cy="149.0" r="3.4"/><circle cx="377.7" cy="128.1" r="3.4"/><circle cx="329.0" cy="139.6" r="3.4"/><circle cx="341.2" cy="127.8" r="3.4"/><circle cx="384.0" cy="134.3" r="3.4"/><circle cx="333.4" cy="130.7" r="3.4"/><circle cx="381.1" cy="149.3" r="3.4"/><circle cx="322.8" cy="138.9" r="3.4"/><circle cx="333.8" cy="142.8" r="3.4"/><circle cx="371.0" cy="137.2" r="3.4"/><circle cx="345.9" cy="128.2" r="3.4"/><circle cx="338.3" cy="146.0" r="3.4"/><circle cx="371.7" cy="128.2" r="3.4"/><circle cx="378.6" cy="152.9" r="3.4"/><circle cx="348.6" cy="136.1" r="3.4"/><circle cx="354.3" cy="125.9" r="3.4"/><circle cx="357.9" cy="134.1" r="3.4"/><circle cx="376.0" cy="124.5" r="3.4"/><circle cx="353.6" cy="151.4" r="3.4"/><circle cx="367.7" cy="140.6" r="3.4"/><circle cx="327.1" cy="147.0" r="3.4"/><circle cx="356.2" cy="153.0" r="3.4"/><circle cx="383.6" cy="114.8" r="3.4"/><circle cx="355.8" cy="122.8" r="3.4"/><circle cx="364.8" cy="132.1" r="3.4"/><circle cx="349.6" cy="128.2" r="3.4"/><circle cx="343.8" cy="124.1" r="3.4"/><circle cx="399.7" cy="130.2" r="3.4"/><circle cx="371.4" cy="133.5" r="3.4"/><circle cx="389.7" cy="141.5" r="3.4"/><circle cx="345.6" cy="122.8" r="3.4"/><circle cx="361.6" cy="134.1" r="3.4"/><circle cx="337.5" cy="113.0" r="3.4"/><circle cx="349.7" cy="117.0" r="3.4"/><circle cx="360.3" cy="144.3" r="3.4"/><circle cx="379.3" cy="144.6" r="3.4"/><circle cx="351.4" cy="148.5" r="3.4"/><circle cx="327.7" cy="134.4" r="3.4"/><circle cx="385.4" cy="142.0" r="3.4"/><circle cx="356.9" cy="144.8" r="3.4"/><circle cx="347.5" cy="135.9" r="3.4"/><circle cx="359.1" cy="140.5" r="3.4"/><circle cx="337.1" cy="148.0" r="3.4"/><circle cx="396.0" cy="142.2" r="3.4"/><circle cx="346.7" cy="150.3" r="3.4"/><circle cx="346.8" cy="129.6" r="3.4"/><circle cx="346.8" cy="130.3" r="3.4"/><circle cx="359.0" cy="136.9" r="3.4"/><circle cx="365.1" cy="136.3" r="3.4"/><circle cx="360.3" cy="123.6" r="3.4"/><circle cx="327.9" cy="152.6" r="3.4"/><circle cx="376.2" cy="132.6" r="3.4"/><circle cx="344.8" cy="150.3" r="3.4"/><circle cx="356.2" cy="124.6" r="3.4"/><circle cx="337.8" cy="126.9" r="3.4"/><circle cx="366.8" cy="123.4" r="3.4"/><circle cx="351.9" cy="149.8" r="3.4"/><circle cx="369.0" cy="157.3" r="3.4"/><circle cx="356.4" cy="119.7" r="3.4"/><circle cx="331.4" cy="129.0" r="3.4"/><circle cx="337.9" cy="143.5" r="3.4"/><circle cx="363.4" cy="148.8" r="3.4"/><circle cx="361.0" cy="139.7" r="3.4"/><circle cx="362.2" cy="140.8" r="3.4"/><circle cx="349.0" cy="113.2" r="3.4"/><circle cx="396.7" cy="124.1" r="3.4"/><circle cx="324.6" cy="138.3" r="3.4"/><circle cx="371.2" cy="132.5" r="3.4"/><circle cx="327.6" cy="127.6" r="3.4"/><circle cx="321.6" cy="142.5" r="3.4"/><circle cx="343.1" cy="119.9" r="3.4"/><circle cx="332.4" cy="122.8" r="3.4"/><circle cx="335.5" cy="139.4" r="3.4"/><circle cx="351.6" cy="143.8" r="3.4"/><circle cx="364.1" cy="111.8" r="3.4"/><circle cx="330.9" cy="154.5" r="3.4"/><circle cx="333.2" cy="156.8" r="3.4"/><circle cx="371.9" cy="133.2" r="3.4"/><circle cx="339.7" cy="144.0" r="3.4"/><circle cx="325.9" cy="132.4" r="3.4"/><circle cx="363.9" cy="138.6" r="3.4"/><circle cx="367.4" cy="116.7" r="3.4"/><circle cx="326.8" cy="121.0" r="3.4"/><circle cx="393.2" cy="129.5" r="3.4"/><circle cx="361.6" cy="140.8" r="3.4"/><circle cx="362.3" cy="143.9" r="3.4"/><circle cx="389.2" cy="143.7" r="3.4"/><circle cx="319.7" cy="123.4" r="3.4"/><circle cx="363.5" cy="146.1" r="3.4"/><circle cx="352.2" cy="141.3" r="3.4"/><circle cx="336.4" cy="156.3" r="3.4"/><circle cx="376.6" cy="140.9" r="3.4"/><circle cx="369.0" cy="120.4" r="3.4"/><circle cx="368.2" cy="136.9" r="3.4"/><circle cx="344.7" cy="134.4" r="3.4"/><circle cx="352.7" cy="154.5" r="3.4"/><circle cx="334.4" cy="134.2" r="3.4"/><circle cx="342.4" cy="128.1" r="3.4"/><circle cx="385.7" cy="155.2" r="3.4"/><circle cx="354.1" cy="144.9" r="3.4"/><circle cx="338.5" cy="147.6" r="3.4"/><circle cx="351.8" cy="111.7" r="3.4"/><circle cx="360.0" cy="144.2" r="3.4"/><circle cx="362.4" cy="121.6" r="3.4"/><circle cx="359.1" cy="126.7" r="3.4"/><circle cx="345.9" cy="133.6" r="3.4"/><circle cx="343.4" cy="129.1" r="3.4"/><circle cx="348.0" cy="159.4" r="3.4"/><circle cx="378.7" cy="141.3" r="3.4"/><circle cx="382.2" cy="138.8" r="3.4"/><circle cx="382.2" cy="125.0" r="3.4"/><circle cx="354.2" cy="137.3" r="3.4"/><circle cx="377.0" cy="142.8" r="3.4"/><circle cx="327.0" cy="137.0" r="3.4"/><circle cx="354.7" cy="124.7" r="3.4"/><circle cx="352.8" cy="127.9" r="3.4"/><circle cx="341.4" cy="144.4" r="3.4"/><circle cx="349.0" cy="146.7" r="3.4"/><circle cx="362.6" cy="107.9" r="3.4"/><circle cx="406.5" cy="136.4" r="3.4"/><circle cx="337.4" cy="144.1" r="3.4"/><circle cx="369.5" cy="149.2" r="3.4"/><circle cx="321.9" cy="133.0" r="3.4"/><circle cx="395.2" cy="152.4" r="3.4"/><circle cx="349.0" cy="128.2" r="3.4"/><circle cx="360.3" cy="135.1" r="3.4"/><circle cx="387.7" cy="163.0" r="3.4"/><circle cx="380.7" cy="117.5" r="3.4"/><circle cx="321.2" cy="136.5" r="3.4"/><circle cx="370.3" cy="135.5" r="3.4"/><circle cx="351.5" cy="136.3" r="3.4"/><circle cx="371.9" cy="129.6" r="3.4"/><circle cx="360.7" cy="147.3" r="3.4"/><circle cx="374.7" cy="121.5" r="3.4"/><circle cx="364.0" cy="117.7" r="3.4"/><circle cx="353.6" cy="144.7" r="3.4"/><circle cx="385.2" cy="119.6" r="3.4"/><circle cx="319.9" cy="143.0" r="3.4"/><circle cx="346.6" cy="137.7" r="3.4"/><circle cx="334.1" cy="127.1" r="3.4"/><circle cx="353.5" cy="132.2" r="3.4"/><circle cx="346.7" cy="135.8" r="3.4"/><circle cx="353.4" cy="144.0" r="3.4"/><circle cx="345.2" cy="127.8" r="3.4"/><circle cx="345.7" cy="134.1" r="3.4"/><circle cx="317.5" cy="115.7" r="3.4"/><circle cx="356.1" cy="133.0" r="3.4"/><circle cx="364.4" cy="108.4" r="3.4"/><circle cx="342.7" cy="136.4" r="3.4"/><circle cx="341.2" cy="130.2" r="3.4"/><circle cx="341.5" cy="168.4" r="3.4"/><circle cx="397.3" cy="156.2" r="3.4"/><circle cx="361.5" cy="134.7" r="3.4"/><circle cx="366.3" cy="151.1" r="3.4"/><circle cx="349.8" cy="141.1" r="3.4"/><circle cx="345.0" cy="119.6" r="3.4"/><circle cx="335.9" cy="100.4" r="3.4"/><circle cx="394.0" cy="153.4" r="3.4"/><circle cx="316.2" cy="142.6" r="3.4"/><circle cx="364.2" cy="107.4" r="3.4"/><circle cx="356.4" cy="146.2" r="3.4"/><circle cx="350.9" cy="150.3" r="3.4"/><circle cx="319.4" cy="126.4" r="3.4"/><circle cx="327.4" cy="148.4" r="3.4"/><circle cx="380.6" cy="110.8" r="3.4"/><circle cx="340.4" cy="133.3" r="3.4"/><circle cx="378.1" cy="137.1" r="3.4"/><circle cx="373.1" cy="148.2" r="3.4"/><circle cx="370.9" cy="142.5" r="3.4"/><circle cx="375.3" cy="139.8" r="3.4"/><circle cx="328.0" cy="144.8" r="3.4"/><circle cx="345.6" cy="126.7" r="3.4"/><circle cx="373.3" cy="158.6" r="3.4"/><circle cx="326.7" cy="131.4" r="3.4"/><circle cx="397.0" cy="148.4" r="3.4"/><circle cx="343.6" cy="136.4" r="3.4"/><circle cx="355.5" cy="132.7" r="3.4"/><circle cx="332.4" cy="145.2" r="3.4"/><circle cx="365.8" cy="143.1" r="3.4"/><circle cx="339.4" cy="156.6" r="3.4"/><circle cx="351.2" cy="152.5" r="3.4"/><circle cx="329.7" cy="127.9" r="3.4"/><circle cx="385.6" cy="143.9" r="3.4"/><circle cx="317.8" cy="137.9" r="3.4"/><circle cx="367.8" cy="124.5" r="3.4"/><circle cx="362.7" cy="119.9" r="3.4"/><circle cx="367.5" cy="140.2" r="3.4"/><circle cx="332.5" cy="128.4" r="3.4"/><circle cx="381.8" cy="115.6" r="3.4"/><circle cx="380.1" cy="135.0" r="3.4"/><circle cx="360.8" cy="139.7" r="3.4"/><circle cx="364.5" cy="137.9" r="3.4"/><circle cx="353.2" cy="118.3" r="3.4"/><circle cx="372.4" cy="127.7" r="3.4"/><circle cx="337.3" cy="156.9" r="3.4"/><circle cx="370.3" cy="124.8" r="3.4"/><circle cx="366.8" cy="131.4" r="3.4"/><circle cx="323.2" cy="170.9" r="3.4"/><circle cx="294.0" cy="141.5" r="3.4"/><circle cx="354.2" cy="128.8" r="3.4"/><circle cx="353.1" cy="107.1" r="3.4"/><circle cx="386.2" cy="140.9" r="3.4"/><circle cx="358.4" cy="115.4" r="3.4"/><circle cx="345.1" cy="135.9" r="3.4"/><circle cx="324.4" cy="123.2" r="3.4"/><circle cx="354.9" cy="111.1" r="3.4"/><circle cx="343.0" cy="161.0" r="3.4"/><circle cx="330.5" cy="134.6" r="3.4"/><circle cx="354.1" cy="150.0" r="3.4"/><circle cx="382.4" cy="147.2" r="3.4"/><circle cx="359.2" cy="125.2" r="3.4"/><circle cx="331.8" cy="137.5" r="3.4"/><circle cx="364.9" cy="130.8" r="3.4"/><circle cx="330.6" cy="150.6" r="3.4"/><circle cx="319.1" cy="142.6" r="3.4"/><circle cx="368.9" cy="130.8" r="3.4"/><circle cx="343.8" cy="161.0" r="3.4"/><circle cx="383.7" cy="143.9" r="3.4"/><circle cx="364.5" cy="143.0" r="3.4"/><circle cx="337.6" cy="124.3" r="3.4"/><circle cx="362.3" cy="142.2" r="3.4"/><circle cx="388.1" cy="114.1" r="3.4"/><circle cx="352.5" cy="143.0" r="3.4"/><circle cx="331.5" cy="122.0" r="3.4"/><circle cx="341.1" cy="138.8" r="3.4"/><circle cx="337.5" cy="131.9" r="3.4"/><circle cx="328.7" cy="139.5" r="3.4"/><circle cx="326.0" cy="141.4" r="3.4"/><circle cx="367.1" cy="135.2" r="3.4"/><circle cx="383.6" cy="135.2" r="3.4"/><circle cx="348.3" cy="113.7" r="3.4"/><circle cx="375.9" cy="107.5" r="3.4"/><circle cx="378.8" cy="154.9" r="3.4"/><circle cx="397.4" cy="144.6" r="3.4"/><circle cx="352.5" cy="113.8" r="3.4"/><circle cx="348.6" cy="164.6" r="3.4"/><circle cx="367.1" cy="125.3" r="3.4"/><circle cx="359.3" cy="143.7" r="3.4"/><circle cx="364.2" cy="142.4" r="3.4"/><circle cx="388.1" cy="137.6" r="3.4"/><circle cx="346.7" cy="145.1" r="3.4"/><circle cx="362.2" cy="115.4" r="3.4"/><circle cx="333.5" cy="135.5" r="3.4"/><circle cx="353.2" cy="132.2" r="3.4"/><circle cx="340.8" cy="137.3" r="3.4"/><circle cx="338.8" cy="131.9" r="3.4"/><circle cx="351.7" cy="126.4" r="3.4"/><circle cx="346.3" cy="125.0" r="3.4"/><circle cx="365.9" cy="149.3" r="3.4"/><circle cx="376.3" cy="123.3" r="3.4"/><circle cx="321.2" cy="141.4" r="3.4"/><circle cx="381.1" cy="141.2" r="3.4"/><circle cx="303.6" cy="134.5" r="3.4"/><circle cx="362.9" cy="142.4" r="3.4"/><circle cx="374.0" cy="144.1" r="3.4"/><circle cx="341.4" cy="128.0" r="3.4"/><circle cx="351.5" cy="141.0" r="3.4"/><circle cx="338.2" cy="164.6" r="3.4"/><circle cx="378.5" cy="119.9" r="3.4"/><circle cx="333.7" cy="124.5" r="3.4"/><circle cx="310.5" cy="165.8" r="3.4"/><circle cx="361.5" cy="115.0" r="3.4"/><circle cx="388.2" cy="136.1" r="3.4"/><circle cx="385.6" cy="149.9" r="3.4"/><circle cx="373.0" cy="123.0" r="3.4"/><circle cx="363.0" cy="134.0" r="3.4"/><circle cx="338.6" cy="125.3" r="3.4"/><circle cx="386.2" cy="115.9" r="3.4"/><circle cx="372.0" cy="134.9" r="3.4"/><circle cx="336.7" cy="143.4" r="3.4"/><circle cx="326.3" cy="130.0" r="3.4"/><circle cx="341.9" cy="138.4" r="3.4"/><circle cx="383.0" cy="146.2" r="3.4"/><circle cx="387.0" cy="153.9" r="3.4"/><circle cx="395.8" cy="117.5" r="3.4"/><circle cx="338.4" cy="145.2" r="3.4"/><circle cx="348.4" cy="126.7" r="3.4"/><circle cx="390.2" cy="107.7" r="3.4"/><circle cx="362.3" cy="124.3" r="3.4"/><circle cx="375.3" cy="145.6" r="3.4"/><circle cx="325.3" cy="140.6" r="3.4"/><circle cx="348.1" cy="119.6" r="3.4"/><circle cx="356.6" cy="160.1" r="3.4"/><circle cx="348.5" cy="142.0" r="3.4"/><circle cx="347.1" cy="135.0" r="3.4"/><circle cx="317.8" cy="127.9" r="3.4"/><circle cx="396.1" cy="142.2" r="3.4"/><circle cx="360.6" cy="130.2" r="3.4"/><circle cx="322.1" cy="153.0" r="3.4"/><circle cx="382.9" cy="140.7" r="3.4"/><circle cx="358.7" cy="145.2" r="3.4"/><circle cx="374.4" cy="131.4" r="3.4"/><circle cx="352.6" cy="113.9" r="3.4"/><circle cx="338.4" cy="143.9" r="3.4"/><circle cx="339.1" cy="120.9" r="3.4"/><circle cx="365.5" cy="134.4" r="3.4"/><circle cx="375.9" cy="135.8" r="3.4"/><circle cx="369.1" cy="124.3" r="3.4"/><circle cx="372.9" cy="149.3" r="3.4"/><circle cx="386.3" cy="114.6" r="3.4"/><circle cx="364.3" cy="158.3" r="3.4"/><circle cx="381.6" cy="127.2" r="3.4"/><circle cx="384.1" cy="150.4" r="3.4"/><circle cx="364.6" cy="155.3" r="3.4"/><circle cx="355.8" cy="123.1" r="3.4"/><circle cx="347.2" cy="125.0" r="3.4"/><circle cx="328.8" cy="150.0" r="3.4"/><circle cx="320.4" cy="138.8" r="3.4"/><circle cx="389.3" cy="137.2" r="3.4"/><circle cx="357.5" cy="108.7" r="3.4"/><circle cx="344.7" cy="111.5" r="3.4"/><circle cx="395.7" cy="144.0" r="3.4"/><circle cx="381.2" cy="157.4" r="3.4"/><circle cx="359.4" cy="125.4" r="3.4"/><circle cx="382.1" cy="123.1" r="3.4"/><circle cx="353.5" cy="139.1" r="3.4"/><circle cx="366.7" cy="142.9" r="3.4"/><circle cx="401.8" cy="144.4" r="3.4"/><circle cx="383.6" cy="129.4" r="3.4"/><circle cx="351.6" cy="107.0" r="3.4"/><circle cx="374.9" cy="157.8" r="3.4"/><circle cx="386.6" cy="128.6" r="3.4"/><circle cx="355.5" cy="154.7" r="3.4"/><circle cx="348.3" cy="106.3" r="3.4"/><circle cx="403.4" cy="141.5" r="3.4"/><circle cx="351.4" cy="128.5" r="3.4"/><circle cx="326.9" cy="119.8" r="3.4"/><circle cx="362.1" cy="150.5" r="3.4"/><circle cx="413.7" cy="155.2" r="3.4"/><circle cx="374.0" cy="127.3" r="3.4"/><circle cx="382.1" cy="145.6" r="3.4"/><circle cx="307.2" cy="120.0" r="3.4"/><circle cx="346.1" cy="126.8" r="3.4"/><circle cx="388.5" cy="132.3" r="3.4"/><circle cx="350.0" cy="130.8" r="3.4"/><circle cx="391.4" cy="145.5" r="3.4"/><circle cx="371.3" cy="118.0" r="3.4"/><circle cx="369.5" cy="150.4" r="3.4"/><circle cx="400.3" cy="150.4" r="3.4"/><circle cx="348.0" cy="132.8" r="3.4"/><circle cx="348.9" cy="118.4" r="3.4"/><circle cx="362.7" cy="100.6" r="3.4"/><circle cx="365.4" cy="135.1" r="3.4"/><circle cx="319.5" cy="125.3" r="3.4"/><circle cx="389.7" cy="137.5" r="3.4"/><circle cx="365.7" cy="120.3" r="3.4"/><circle cx="356.2" cy="136.0" r="3.4"/><circle cx="375.2" cy="135.1" r="3.4"/><circle cx="350.7" cy="136.2" r="3.4"/><circle cx="389.2" cy="140.2" r="3.4"/><circle cx="361.8" cy="140.3" r="3.4"/><circle cx="377.6" cy="150.4" r="3.4"/><circle cx="339.0" cy="124.4" r="3.4"/><circle cx="353.6" cy="146.7" r="3.4"/><circle cx="369.2" cy="138.4" r="3.4"/><circle cx="337.5" cy="129.8" r="3.4"/><circle cx="344.4" cy="121.2" r="3.4"/><circle cx="358.9" cy="157.7" r="3.4"/><circle cx="386.9" cy="139.6" r="3.4"/><circle cx="378.4" cy="128.4" r="3.4"/><circle cx="381.8" cy="137.1" r="3.4"/><circle cx="367.4" cy="136.1" r="3.4"/><circle cx="381.7" cy="128.3" r="3.4"/><circle cx="397.0" cy="115.6" r="3.4"/><circle cx="364.1" cy="138.3" r="3.4"/><circle cx="331.1" cy="163.8" r="3.4"/><circle cx="395.4" cy="156.0" r="3.4"/><circle cx="310.9" cy="139.3" r="3.4"/><circle cx="392.3" cy="158.4" r="3.4"/><circle cx="310.7" cy="138.7" r="3.4"/><circle cx="368.2" cy="110.3" r="3.4"/><circle cx="401.4" cy="147.8" r="3.4"/><circle cx="367.3" cy="107.2" r="3.4"/><circle cx="312.3" cy="142.5" r="3.4"/><circle cx="391.9" cy="150.8" r="3.4"/><circle cx="303.4" cy="139.7" r="3.4"/><circle cx="347.3" cy="109.7" r="3.4"/><circle cx="365.4" cy="108.5" r="3.4"/><circle cx="305.6" cy="150.3" r="3.4"/><circle cx="401.8" cy="131.3" r="3.4"/><circle cx="394.2" cy="118.7" r="3.4"/><circle cx="310.7" cy="123.5" r="3.4"/><circle cx="388.0" cy="162.4" r="3.4"/><circle cx="315.4" cy="124.5" r="3.4"/><circle cx="301.6" cy="129.9" r="3.4"/><circle cx="313.5" cy="140.3" r="3.4"/><circle cx="311.7" cy="156.5" r="3.4"/><circle cx="395.7" cy="119.4" r="3.4"/><circle cx="329.3" cy="111.5" r="3.4"/><circle cx="321.1" cy="157.7" r="3.4"/><circle cx="393.6" cy="149.0" r="3.4"/><circle cx="365.2" cy="103.2" r="3.4"/><circle cx="411.8" cy="138.5" r="3.4"/><circle cx="407.0" cy="125.3" r="3.4"/><circle cx="409.4" cy="130.0" r="3.4"/><circle cx="393.5" cy="154.8" r="3.4"/><circle cx="393.5" cy="152.6" r="3.4"/><circle cx="328.6" cy="158.0" r="3.4"/><circle cx="345.5" cy="166.1" r="3.4"/><circle cx="317.3" cy="123.0" r="3.4"/><circle cx="332.2" cy="110.8" r="3.4"/><circle cx="404.6" cy="126.3" r="3.4"/><circle cx="358.7" cy="167.1" r="3.4"/><circle cx="316.2" cy="146.7" r="3.4"/><circle cx="327.3" cy="159.6" r="3.4"/><circle cx="390.3" cy="156.9" r="3.4"/><circle cx="327.6" cy="163.5" r="3.4"/><circle cx="313.2" cy="125.3" r="3.4"/><circle cx="303.7" cy="146.4" r="3.4"/><circle cx="409.6" cy="138.0" r="3.4"/><circle cx="303.8" cy="125.2" r="3.4"/><circle cx="375.5" cy="111.7" r="3.4"/><circle cx="333.0" cy="113.1" r="3.4"/><circle cx="336.9" cy="107.6" r="3.4"/><circle cx="412.8" cy="142.1" r="3.4"/><circle cx="398.9" cy="121.6" r="3.4"/><circle cx="406.3" cy="121.1" r="3.4"/><circle cx="372.6" cy="166.6" r="3.4"/><circle cx="379.6" cy="104.2" r="3.4"/><circle cx="370.9" cy="160.5" r="3.4"/><circle cx="312.6" cy="143.8" r="3.4"/><circle cx="311.1" cy="123.8" r="3.4"/><circle cx="347.6" cy="103.2" r="3.4"/><circle cx="349.3" cy="107.6" r="3.4"/><circle cx="358.7" cy="100.6" r="3.4"/><circle cx="345.2" cy="104.6" r="3.4"/><circle cx="317.4" cy="125.9" r="3.4"/><circle cx="382.6" cy="109.4" r="3.4"/><circle cx="407.5" cy="142.6" r="3.4"/><circle cx="304.9" cy="129.1" r="3.4"/><circle cx="378.7" cy="111.3" r="3.4"/><circle cx="365.9" cy="165.1" r="3.4"/><circle cx="367.7" cy="161.4" r="3.4"/><circle cx="310.0" cy="136.2" r="3.4"/><circle cx="374.7" cy="111.8" r="3.4"/><circle cx="310.2" cy="154.5" r="3.4"/><circle cx="384.9" cy="160.9" r="3.4"/><circle cx="391.4" cy="154.0" r="3.4"/><circle cx="318.0" cy="148.9" r="3.4"/><circle cx="386.6" cy="108.2" r="3.4"/><circle cx="338.7" cy="106.5" r="3.4"/><circle cx="382.1" cy="108.5" r="3.4"/><circle cx="395.2" cy="158.4" r="3.4"/><circle cx="314.7" cy="119.7" r="3.4"/><circle cx="351.9" cy="166.2" r="3.4"/><circle cx="307.3" cy="151.1" r="3.4"/><circle cx="323.0" cy="163.7" r="3.4"/><circle cx="400.2" cy="144.3" r="3.4"/><circle cx="307.5" cy="118.7" r="3.4"/><circle cx="397.4" cy="148.2" r="3.4"/><circle cx="330.0" cy="113.9" r="3.4"/><circle cx="312.4" cy="119.7" r="3.4"/><circle cx="367.5" cy="164.3" r="3.4"/><circle cx="408.4" cy="126.1" r="3.4"/><circle cx="308.5" cy="145.2" r="3.4"/><circle cx="367.8" cy="164.0" r="3.4"/><circle cx="375.1" cy="164.1" r="3.4"/><circle cx="306.7" cy="132.8" r="3.4"/><circle cx="400.6" cy="130.2" r="3.4"/><circle cx="371.8" cy="167.5" r="3.4"/><circle cx="378.6" cy="168.0" r="3.4"/><circle cx="338.5" cy="166.1" r="3.4"/><circle cx="343.3" cy="101.4" r="3.4"/><circle cx="373.5" cy="166.3" r="3.4"/><circle cx="327.1" cy="163.5" r="3.4"/><circle cx="396.0" cy="122.8" r="3.4"/><circle cx="345.7" cy="106.0" r="3.4"/><circle cx="400.4" cy="121.2" r="3.4"/><circle cx="336.7" cy="167.4" r="3.4"/><circle cx="396.1" cy="124.7" r="3.4"/><circle cx="408.8" cy="133.8" r="3.4"/><circle cx="355.6" cy="105.1" r="3.4"/><circle cx="308.1" cy="118.1" r="3.4"/><circle cx="394.7" cy="158.2" r="3.4"/><circle cx="394.1" cy="112.5" r="3.4"/><circle cx="313.8" cy="73.1" r="3.4"/><circle cx="431.2" cy="88.8" r="3.4"/><circle cx="431.8" cy="104.4" r="3.4"/><circle cx="434.9" cy="107.6" r="3.4"/><circle cx="457.8" cy="130.4" r="3.4"/><circle cx="444.3" cy="138.9" r="3.4"/><circle cx="358.2" cy="197.7" r="3.4"/><circle cx="381.7" cy="196.1" r="3.4"/><circle cx="367.6" cy="189.0" r="3.4"/><circle cx="373.9" cy="189.9" r="3.4"/><circle cx="376.4" cy="185.2" r="3.4"/><circle cx="403.6" cy="182.1" r="3.4"/><circle cx="393.6" cy="177.4" r="3.4"/><circle cx="312.9" cy="173.3" r="3.4"/><circle cx="325.4" cy="173.3" r="3.4"/><circle cx="333.8" cy="176.4" r="3.4"/><circle cx="341.7" cy="177.4" r="3.4"/><circle cx="362.9" cy="176.4" r="3.4"/><circle cx="370.8" cy="175.8" r="3.4"/><circle cx="372.3" cy="180.5" r="3.4"/><circle cx="295.6" cy="153.0" r="3.4"/><circle cx="302.5" cy="160.8" r="3.4"/><circle cx="288.8" cy="124.2" r="3.4"/><circle cx="304.4" cy="109.1" r="3.4"/><circle cx="305.0" cy="113.8" r="3.4"/><circle cx="357.6" cy="91.3" r="3.4"/><circle cx="362.9" cy="91.9" r="3.4"/><circle cx="370.1" cy="93.8" r="3.4"/><circle cx="379.5" cy="93.5" r="3.4"/><circle cx="398.3" cy="96.9" r="3.4"/><circle cx="379.5" cy="100.1" r="3.4"/><circle cx="388.0" cy="103.2" r="3.4"/><circle cx="340.1" cy="99.7" r="3.4"/><circle cx="345.7" cy="99.1" r="3.4"/><circle cx="409.9" cy="104.4" r="3.4"/><circle cx="413.0" cy="107.6" r="3.4"/><circle cx="422.4" cy="114.8" r="3.4"/><circle cx="425.5" cy="116.3" r="3.4"/><circle cx="425.5" cy="124.2" r="3.4"/><circle cx="414.6" cy="121.0" r="3.4"/><circle cx="419.3" cy="142.0" r="3.4"/><circle cx="424.9" cy="142.9" r="3.4"/><circle cx="417.7" cy="149.2" r="3.4"/><circle cx="422.4" cy="155.5" r="3.4"/><circle cx="413.0" cy="165.8" r="3.4"/><circle cx="403.6" cy="170.2" r="3.4"/><circle cx="399.6" cy="165.8" r="3.4"/><circle cx="386.4" cy="169.5" r="3.4"/><circle cx="345.7" cy="169.5" r="3.4"/><circle cx="320.7" cy="166.4" r="3.4"/><circle cx="432.7" cy="139.8" r="3.4"/><circle cx="409.9" cy="151.4" r="3.4"/><circle cx="297.2" cy="127.3" r="3.4"/></g>
<line x1="283" y1="137.3" x2="471.7" y2="133.6" stroke="#000" stroke-width="2.2"/>
<line x1="481.9" y1="62" x2="481.9" y2="210.4" stroke="#000" stroke-width="2"/>
<line x1="478.4" y1="209.4" x2="697.9" y2="209.4" stroke="#000" stroke-width="2"/>
<line x1="477.9" y1="66.0" x2="481.9" y2="66.0" stroke="#000" stroke-width="1.6"/>
<line x1="478.9" y1="81.875" x2="481.9" y2="81.875" stroke="#000" stroke-width="1.6"/>
<line x1="477.9" y1="97.75" x2="481.9" y2="97.75" stroke="#000" stroke-width="1.6"/>
<line x1="478.9" y1="113.625" x2="481.9" y2="113.625" stroke="#000" stroke-width="1.6"/>
<line x1="477.9" y1="129.5" x2="481.9" y2="129.5" stroke="#000" stroke-width="1.6"/>
<line x1="478.9" y1="145.375" x2="481.9" y2="145.375" stroke="#000" stroke-width="1.6"/>
<line x1="477.9" y1="161.25" x2="481.9" y2="161.25" stroke="#000" stroke-width="1.6"/>
<line x1="478.9" y1="177.125" x2="481.9" y2="177.125" stroke="#000" stroke-width="1.6"/>
<line x1="477.9" y1="193.0" x2="481.9" y2="193.0" stroke="#000" stroke-width="1.6"/>
<line x1="481.5" y1="209.4" x2="481.5" y2="213.4" stroke="#000" stroke-width="1.6"/>
<text x="480.3345" y="229.5" font-size="14" font-weight="bold" text-anchor="middle">-5</text>
<line x1="493.3" y1="209.4" x2="493.3" y2="211.9" stroke="#000" stroke-width="1.6"/>
<line x1="505.1" y1="209.4" x2="505.1" y2="213.4" stroke="#000" stroke-width="1.6"/>
<text x="503.9345" y="229.5" font-size="14" font-weight="bold" text-anchor="middle">-4</text>
<line x1="516.9" y1="209.4" x2="516.9" y2="211.9" stroke="#000" stroke-width="1.6"/>
<line x1="528.7" y1="209.4" x2="528.7" y2="213.4" stroke="#000" stroke-width="1.6"/>
<text x="527.5345000000001" y="229.5" font-size="14" font-weight="bold" text-anchor="middle">-3</text>
<line x1="540.5" y1="209.4" x2="540.5" y2="211.9" stroke="#000" stroke-width="1.6"/>
<line x1="552.3" y1="209.4" x2="552.3" y2="213.4" stroke="#000" stroke-width="1.6"/>
<text x="551.1345" y="229.5" font-size="14" font-weight="bold" text-anchor="middle">-2</text>
<line x1="564.1" y1="209.4" x2="564.1" y2="211.9" stroke="#000" stroke-width="1.6"/>
<line x1="575.9" y1="209.4" x2="575.9" y2="213.4" stroke="#000" stroke-width="1.6"/>
<text x="574.7345" y="229.5" font-size="14" font-weight="bold" text-anchor="middle">-1</text>
<line x1="587.7" y1="209.4" x2="587.7" y2="211.9" stroke="#000" stroke-width="1.6"/>
<line x1="599.5" y1="209.4" x2="599.5" y2="213.4" stroke="#000" stroke-width="1.6"/>
<text x="599.5" y="229.5" font-size="14" font-weight="bold" text-anchor="middle">0</text>
<line x1="611.3" y1="209.4" x2="611.3" y2="211.9" stroke="#000" stroke-width="1.6"/>
<line x1="623.1" y1="209.4" x2="623.1" y2="213.4" stroke="#000" stroke-width="1.6"/>
<text x="623.1" y="229.5" font-size="14" font-weight="bold" text-anchor="middle">1</text>
<line x1="634.9" y1="209.4" x2="634.9" y2="211.9" stroke="#000" stroke-width="1.6"/>
<line x1="646.7" y1="209.4" x2="646.7" y2="213.4" stroke="#000" stroke-width="1.6"/>
<text x="646.7" y="229.5" font-size="14" font-weight="bold" text-anchor="middle">2</text>
<line x1="658.5" y1="209.4" x2="658.5" y2="211.9" stroke="#000" stroke-width="1.6"/>
<line x1="670.3" y1="209.4" x2="670.3" y2="213.4" stroke="#000" stroke-width="1.6"/>
<text x="670.3" y="229.5" font-size="14" font-weight="bold" text-anchor="middle">3</text>
<line x1="682.1" y1="209.4" x2="682.1" y2="211.9" stroke="#000" stroke-width="1.6"/>
<line x1="693.9" y1="209.4" x2="693.9" y2="213.4" stroke="#000" stroke-width="1.6"/>
<text x="693.9" y="229.5" font-size="14" font-weight="bold" text-anchor="middle">4</text>
<g fill="none" stroke="#000" stroke-width="1.15"><circle cx="593.1" cy="154.7" r="3.4"/><circle cx="578.2" cy="145.7" r="3.4"/><circle cx="582.0" cy="128.6" r="3.4"/><circle cx="634.2" cy="131.8" r="3.4"/><circle cx="611.2" cy="114.4" r="3.4"/><circle cx="581.0" cy="129.8" r="3.4"/><circle cx="619.8" cy="140.0" r="3.4"/><circle cx="613.4" cy="118.4" r="3.4"/><circle cx="622.6" cy="119.5" r="3.4"/><circle cx="580.8" cy="159.8" r="3.4"/><circle cx="616.0" cy="117.4" r="3.4"/><circle cx="614.6" cy="136.5" r="3.4"/><circle cx="597.5" cy="148.9" r="3.4"/><circle cx="615.1" cy="156.9" r="3.4"/><circle cx="611.2" cy="143.1" r="3.4"/><circle cx="609.9" cy="150.8" r="3.4"/><circle cx="608.3" cy="159.2" r="3.4"/><circle cx="571.2" cy="122.8" r="3.4"/><circle cx="589.0" cy="126.4" r="3.4"/><circle cx="616.9" cy="121.6" r="3.4"/><circle cx="591.7" cy="119.7" r="3.4"/><circle cx="568.5" cy="143.9" r="3.4"/><circle cx="600.5" cy="135.4" r="3.4"/><circle cx="612.1" cy="119.9" r="3.4"/><circle cx="597.5" cy="140.5" r="3.4"/><circle cx="586.6" cy="145.4" r="3.4"/><circle cx="579.9" cy="138.2" r="3.4"/><circle cx="616.9" cy="146.0" r="3.4"/><circle cx="598.3" cy="113.5" r="3.4"/><circle cx="596.7" cy="132.2" r="3.4"/><circle cx="619.6" cy="154.6" r="3.4"/><circle cx="584.4" cy="121.7" r="3.4"/><circle cx="595.4" cy="124.8" r="3.4"/><circle cx="624.7" cy="144.0" r="3.4"/><circle cx="571.4" cy="124.3" r="3.4"/><circle cx="610.9" cy="144.5" r="3.4"/><circle cx="597.0" cy="115.5" r="3.4"/><circle cx="593.8" cy="128.6" r="3.4"/><circle cx="609.7" cy="129.5" r="3.4"/><circle cx="568.4" cy="124.2" r="3.4"/><circle cx="611.4" cy="147.0" r="3.4"/><circle cx="592.9" cy="132.9" r="3.4"/><circle cx="603.1" cy="132.1" r="3.4"/><circle cx="592.7" cy="129.9" r="3.4"/><circle cx="618.3" cy="139.6" r="3.4"/><circle cx="587.9" cy="130.3" r="3.4"/><circle cx="609.4" cy="155.2" r="3.4"/><circle cx="573.5" cy="153.1" r="3.4"/><circle cx="598.6" cy="139.4" r="3.4"/><circle cx="579.2" cy="125.7" r="3.4"/><circle cx="605.2" cy="154.7" r="3.4"/><circle cx="611.3" cy="136.3" r="3.4"/><circle cx="579.2" cy="139.1" r="3.4"/><circle cx="623.1" cy="139.1" r="3.4"/><circle cx="577.9" cy="145.5" r="3.4"/><circle cx="612.7" cy="119.0" r="3.4"/><circle cx="588.6" cy="120.8" r="3.4"/><circle cx="611.7" cy="136.8" r="3.4"/><circle cx="579.6" cy="130.8" r="3.4"/><circle cx="602.8" cy="117.8" r="3.4"/><circle cx="573.6" cy="135.3" r="3.4"/><circle cx="570.5" cy="138.1" r="3.4"/><circle cx="608.2" cy="149.6" r="3.4"/><circle cx="622.3" cy="150.4" r="3.4"/><circle cx="613.0" cy="156.4" r="3.4"/><circle cx="612.2" cy="151.0" r="3.4"/><circle cx="569.2" cy="132.5" r="3.4"/><circle cx="584.3" cy="133.8" r="3.4"/><circle cx="584.4" cy="128.8" r="3.4"/><circle cx="577.2" cy="152.0" r="3.4"/><circle cx="587.8" cy="129.4" r="3.4"/><circle cx="595.8" cy="148.2" r="3.4"/><circle cx="597.3" cy="129.2" r="3.4"/><circle cx="580.0" cy="121.6" r="3.4"/><circle cx="601.6" cy="139.5" r="3.4"/><circle cx="608.1" cy="130.9" r="3.4"/><circle cx="572.0" cy="132.1" r="3.4"/><circle cx="577.5" cy="150.0" r="3.4"/><circle cx="587.2" cy="146.6" r="3.4"/><circle cx="607.4" cy="122.2" r="3.4"/><circle cx="620.3" cy="137.2" r="3.4"/><circle cx="598.2" cy="113.4" r="3.4"/><circle cx="568.9" cy="122.5" r="3.4"/><circle cx="599.3" cy="157.8" r="3.4"/><circle cx="590.4" cy="125.2" r="3.4"/><circle cx="591.7" cy="137.6" r="3.4"/><circle cx="586.5" cy="137.8" r="3.4"/><circle cx="585.0" cy="137.4" r="3.4"/><circle cx="604.8" cy="148.3" r="3.4"/><circle cx="592.7" cy="121.6" r="3.4"/><circle cx="573.9" cy="139.8" r="3.4"/><circle cx="608.0" cy="130.2" r="3.4"/><circle cx="621.7" cy="128.2" r="3.4"/><circle cx="610.0" cy="129.5" r="3.4"/><circle cx="575.0" cy="146.9" r="3.4"/><circle cx="610.9" cy="125.7" r="3.4"/><circle cx="624.3" cy="137.6" r="3.4"/><circle cx="600.6" cy="155.9" r="3.4"/><circle cx="584.4" cy="143.0" r="3.4"/><circle cx="574.5" cy="117.8" r="3.4"/><circle cx="603.8" cy="124.9" r="3.4"/><circle cx="599.1" cy="126.5" r="3.4"/><circle cx="616.6" cy="114.5" r="3.4"/><circle cx="625.6" cy="148.6" r="3.4"/><circle cx="595.9" cy="137.2" r="3.4"/><circle cx="597.8" cy="129.1" r="3.4"/><circle cx="601.6" cy="143.8" r="3.4"/><circle cx="595.0" cy="124.6" r="3.4"/><circle cx="585.1" cy="127.3" r="3.4"/><circle cx="610.3" cy="139.6" r="3.4"/><circle cx="599.2" cy="123.9" r="3.4"/><circle cx="600.0" cy="127.6" r="3.4"/><circle cx="571.9" cy="139.7" r="3.4"/><circle cx="578.0" cy="135.7" r="3.4"/><circle cx="578.0" cy="133.7" r="3.4"/><circle cx="573.7" cy="118.9" r="3.4"/><circle cx="583.0" cy="114.0" r="3.4"/><circle cx="609.8" cy="157.3" r="3.4"/><circle cx="581.5" cy="122.1" r="3.4"/><circle cx="591.5" cy="115.7" r="3.4"/><circle cx="580.7" cy="152.1" r="3.4"/><circle cx="627.9" cy="132.5" r="3.4"/><circle cx="604.2" cy="132.9" r="3.4"/><circle cx="576.6" cy="144.6" r="3.4"/><circle cx="573.9" cy="139.5" r="3.4"/><circle cx="614.2" cy="135.9" r="3.4"/><circle cx="582.3" cy="148.1" r="3.4"/><circle cx="602.5" cy="127.6" r="3.4"/><circle cx="597.6" cy="134.4" r="3.4"/><circle cx="586.4" cy="154.1" r="3.4"/><circle cx="593.0" cy="117.4" r="3.4"/><circle cx="576.9" cy="143.0" r="3.4"/><circle cx="610.4" cy="145.7" r="3.4"/><circle cx="603.4" cy="144.3" r="3.4"/><circle cx="602.9" cy="156.2" r="3.4"/><circle cx="593.3" cy="115.6" r="3.4"/><circle cx="582.3" cy="129.7" r="3.4"/><circle cx="621.8" cy="122.2" r="3.4"/><circle cx="563.0" cy="129.1" r="3.4"/><circle cx="594.8" cy="141.2" r="3.4"/><circle cx="592.4" cy="130.3" r="3.4"/><circle cx="582.2" cy="156.1" r="3.4"/><circle cx="583.9" cy="149.3" r="3.4"/><circle cx="592.7" cy="142.7" r="3.4"/><circle cx="592.5" cy="137.6" r="3.4"/><circle cx="615.3" cy="151.1" r="3.4"/><circle cx="580.4" cy="124.2" r="3.4"/><circle cx="629.6" cy="148.8" r="3.4"/><circle cx="589.4" cy="134.5" r="3.4"/><circle cx="623.9" cy="126.5" r="3.4"/><circle cx="619.7" cy="121.6" r="3.4"/><circle cx="599.2" cy="158.2" r="3.4"/><circle cx="587.1" cy="138.9" r="3.4"/><circle cx="597.2" cy="139.6" r="3.4"/><circle cx="571.8" cy="120.4" r="3.4"/><circle cx="615.5" cy="123.9" r="3.4"/><circle cx="597.3" cy="113.8" r="3.4"/><circle cx="600.5" cy="144.7" r="3.4"/><circle cx="585.7" cy="157.9" r="3.4"/><circle cx="578.7" cy="155.2" r="3.4"/><circle cx="592.7" cy="152.9" r="3.4"/><circle cx="573.7" cy="128.8" r="3.4"/><circle cx="582.4" cy="139.7" r="3.4"/><circle cx="622.7" cy="131.4" r="3.4"/><circle cx="588.5" cy="158.7" r="3.4"/><circle cx="586.1" cy="148.2" r="3.4"/><circle cx="592.3" cy="129.5" r="3.4"/><circle cx="592.5" cy="150.1" r="3.4"/><circle cx="625.6" cy="121.7" r="3.4"/><circle cx="590.5" cy="158.3" r="3.4"/><circle cx="599.2" cy="140.5" r="3.4"/><circle cx="585.2" cy="138.2" r="3.4"/><circle cx="622.0" cy="117.1" r="3.4"/><circle cx="590.9" cy="119.1" r="3.4"/><circle cx="587.0" cy="125.7" r="3.4"/><circle cx="577.7" cy="126.4" r="3.4"/><circle cx="579.1" cy="132.6" r="3.4"/><circle cx="583.6" cy="158.3" r="3.4"/><circle cx="623.0" cy="120.8" r="3.4"/><circle cx="596.5" cy="119.2" r="3.4"/><circle cx="609.2" cy="134.6" r="3.4"/><circle cx="606.4" cy="115.0" r="3.4"/><circle cx="612.2" cy="124.4" r="3.4"/><circle cx="582.7" cy="133.2" r="3.4"/><circle cx="628.6" cy="146.5" r="3.4"/><circle cx="606.4" cy="149.8" r="3.4"/><circle cx="610.8" cy="124.1" r="3.4"/><circle cx="586.7" cy="139.7" r="3.4"/><circle cx="570.5" cy="152.9" r="3.4"/><circle cx="634.4" cy="139.2" r="3.4"/><circle cx="589.2" cy="140.7" r="3.4"/><circle cx="608.8" cy="152.8" r="3.4"/><circle cx="598.6" cy="133.4" r="3.4"/><circle cx="617.7" cy="122.8" r="3.4"/><circle cx="610.2" cy="140.9" r="3.4"/><circle cx="625.8" cy="123.3" r="3.4"/><circle cx="562.7" cy="135.1" r="3.4"/><circle cx="569.2" cy="133.6" r="3.4"/><circle cx="614.2" cy="114.6" r="3.4"/><circle cx="591.0" cy="115.9" r="3.4"/><circle cx="569.5" cy="139.1" r="3.4"/><circle cx="609.0" cy="125.4" r="3.4"/><circle cx="585.3" cy="149.1" r="3.4"/><circle cx="588.8" cy="130.3" r="3.4"/><circle cx="595.8" cy="161.0" r="3.4"/><circle cx="589.1" cy="144.0" r="3.4"/><circle cx="603.7" cy="150.6" r="3.4"/><circle cx="591.0" cy="126.4" r="3.4"/><circle cx="576.6" cy="141.1" r="3.4"/><circle cx="600.8" cy="131.2" r="3.4"/><circle cx="594.4" cy="156.7" r="3.4"/><circle cx="578.8" cy="157.5" r="3.4"/><circle cx="588.5" cy="155.5" r="3.4"/><circle cx="607.5" cy="145.7" r="3.4"/><circle cx="605.0" cy="129.9" r="3.4"/><circle cx="625.5" cy="139.1" r="3.4"/><circle cx="624.7" cy="125.6" r="3.4"/><circle cx="614.4" cy="157.3" r="3.4"/><circle cx="614.0" cy="119.4" r="3.4"/><circle cx="593.1" cy="137.1" r="3.4"/><circle cx="597.7" cy="130.6" r="3.4"/><circle cx="595.9" cy="131.8" r="3.4"/><circle cx="609.5" cy="129.8" r="3.4"/><circle cx="581.8" cy="130.5" r="3.4"/><circle cx="579.1" cy="134.9" r="3.4"/><circle cx="595.0" cy="137.1" r="3.4"/><circle cx="576.5" cy="121.7" r="3.4"/><circle cx="603.2" cy="153.3" r="3.4"/><circle cx="589.6" cy="151.9" r="3.4"/><circle cx="576.7" cy="144.8" r="3.4"/><circle cx="588.7" cy="130.5" r="3.4"/><circle cx="608.8" cy="125.9" r="3.4"/><circle cx="591.3" cy="143.3" r="3.4"/><circle cx="622.6" cy="124.6" r="3.4"/><circle cx="598.8" cy="133.1" r="3.4"/><circle cx="617.4" cy="152.9" r="3.4"/><circle cx="608.8" cy="141.8" r="3.4"/><circle cx="575.9" cy="137.6" r="3.4"/><circle cx="598.3" cy="146.7" r="3.4"/><circle cx="620.0" cy="130.1" r="3.4"/><circle cx="588.9" cy="130.5" r="3.4"/><circle cx="572.4" cy="150.2" r="3.4"/><circle cx="595.8" cy="147.4" r="3.4"/><circle cx="590.3" cy="144.4" r="3.4"/><circle cx="624.9" cy="120.2" r="3.4"/><circle cx="593.7" cy="129.7" r="3.4"/><circle cx="612.8" cy="143.3" r="3.4"/><circle cx="578.7" cy="144.5" r="3.4"/><circle cx="597.9" cy="161.5" r="3.4"/><circle cx="619.6" cy="141.5" r="3.4"/><circle cx="612.4" cy="122.1" r="3.4"/><circle cx="566.8" cy="149.1" r="3.4"/><circle cx="609.6" cy="156.6" r="3.4"/><circle cx="628.2" cy="130.6" r="3.4"/><circle cx="600.7" cy="148.1" r="3.4"/><circle cx="630.4" cy="143.1" r="3.4"/><circle cx="623.0" cy="142.0" r="3.4"/><circle cx="592.4" cy="119.9" r="3.4"/><circle cx="579.2" cy="139.6" r="3.4"/><circle cx="587.8" cy="150.0" r="3.4"/><circle cx="595.0" cy="116.2" r="3.4"/><circle cx="562.4" cy="136.5" r="3.4"/><circle cx="609.7" cy="126.4" r="3.4"/><circle cx="614.9" cy="123.6" r="3.4"/><circle cx="582.4" cy="121.5" r="3.4"/><circle cx="597.4" cy="147.3" r="3.4"/><circle cx="627.3" cy="135.6" r="3.4"/><circle cx="567.5" cy="128.1" r="3.4"/><circle cx="583.7" cy="129.9" r="3.4"/><circle cx="615.8" cy="134.9" r="3.4"/><circle cx="601.4" cy="138.7" r="3.4"/><circle cx="596.0" cy="128.1" r="3.4"/><circle cx="619.9" cy="135.7" r="3.4"/><circle cx="595.2" cy="115.0" r="3.4"/><circle cx="577.8" cy="125.4" r="3.4"/><circle cx="619.4" cy="139.7" r="3.4"/><circle cx="577.2" cy="120.1" r="3.4"/><circle cx="612.7" cy="141.4" r="3.4"/><circle cx="571.0" cy="135.6" r="3.4"/><circle cx="579.2" cy="146.2" r="3.4"/><circle cx="582.5" cy="131.5" r="3.4"/><circle cx="634.0" cy="132.2" r="3.4"/><circle cx="583.2" cy="137.7" r="3.4"/><circle cx="596.7" cy="125.1" r="3.4"/><circle cx="617.4" cy="141.2" r="3.4"/><circle cx="581.7" cy="132.7" r="3.4"/><circle cx="580.4" cy="153.8" r="3.4"/><circle cx="597.6" cy="113.9" r="3.4"/><circle cx="615.1" cy="129.7" r="3.4"/><circle cx="595.4" cy="129.0" r="3.4"/><circle cx="577.1" cy="122.1" r="3.4"/><circle cx="625.4" cy="150.5" r="3.4"/><circle cx="593.1" cy="151.5" r="3.4"/><circle cx="579.3" cy="156.5" r="3.4"/><circle cx="597.0" cy="126.9" r="3.4"/><circle cx="599.5" cy="138.7" r="3.4"/><circle cx="602.9" cy="132.1" r="3.4"/><circle cx="569.4" cy="140.5" r="3.4"/><circle cx="613.5" cy="118.7" r="3.4"/><circle cx="575.1" cy="139.7" r="3.4"/><circle cx="594.5" cy="142.3" r="3.4"/><circle cx="575.6" cy="147.7" r="3.4"/><circle cx="580.8" cy="132.4" r="3.4"/><circle cx="562.2" cy="131.4" r="3.4"/><circle cx="578.2" cy="150.7" r="3.4"/><circle cx="594.4" cy="128.7" r="3.4"/><circle cx="617.0" cy="141.4" r="3.4"/><circle cx="596.9" cy="149.5" r="3.4"/><circle cx="610.5" cy="122.5" r="3.4"/><circle cx="570.4" cy="151.3" r="3.4"/><circle cx="583.5" cy="142.4" r="3.4"/><circle cx="595.2" cy="121.0" r="3.4"/><circle cx="604.7" cy="127.1" r="3.4"/><circle cx="587.0" cy="155.6" r="3.4"/><circle cx="590.1" cy="142.9" r="3.4"/><circle cx="591.4" cy="142.8" r="3.4"/><circle cx="579.0" cy="138.2" r="3.4"/><circle cx="587.1" cy="139.0" r="3.4"/><circle cx="574.1" cy="135.8" r="3.4"/><circle cx="595.6" cy="156.6" r="3.4"/><circle cx="618.1" cy="144.0" r="3.4"/><circle cx="611.1" cy="120.4" r="3.4"/><circle cx="612.4" cy="139.9" r="3.4"/><circle cx="605.4" cy="149.2" r="3.4"/><circle cx="563.7" cy="129.7" r="3.4"/><circle cx="612.6" cy="132.0" r="3.4"/><circle cx="609.0" cy="149.2" r="3.4"/><circle cx="605.9" cy="156.7" r="3.4"/><circle cx="579.0" cy="140.1" r="3.4"/><circle cx="584.0" cy="146.3" r="3.4"/><circle cx="620.6" cy="125.7" r="3.4"/><circle cx="605.1" cy="139.5" r="3.4"/><circle cx="590.4" cy="154.7" r="3.4"/><circle cx="617.3" cy="148.5" r="3.4"/><circle cx="587.0" cy="118.7" r="3.4"/><circle cx="594.5" cy="140.6" r="3.4"/><circle cx="611.0" cy="140.5" r="3.4"/><circle cx="588.8" cy="137.5" r="3.4"/><circle cx="583.5" cy="116.7" r="3.4"/><circle cx="571.6" cy="146.4" r="3.4"/><circle cx="618.2" cy="132.2" r="3.4"/><circle cx="593.0" cy="147.4" r="3.4"/><circle cx="600.8" cy="126.1" r="3.4"/><circle cx="627.0" cy="135.4" r="3.4"/><circle cx="594.0" cy="132.8" r="3.4"/><circle cx="619.2" cy="133.1" r="3.4"/><circle cx="594.0" cy="125.0" r="3.4"/><circle cx="624.8" cy="119.6" r="3.4"/><circle cx="576.6" cy="132.5" r="3.4"/><circle cx="573.8" cy="126.5" r="3.4"/><circle cx="610.0" cy="127.4" r="3.4"/><circle cx="596.5" cy="111.5" r="3.4"/><circle cx="581.0" cy="119.9" r="3.4"/><circle cx="600.8" cy="111.3" r="3.4"/><circle cx="609.1" cy="128.4" r="3.4"/><circle cx="606.6" cy="150.7" r="3.4"/><circle cx="577.8" cy="132.4" r="3.4"/><circle cx="633.2" cy="137.5" r="3.4"/><circle cx="618.9" cy="145.1" r="3.4"/><circle cx="625.2" cy="119.8" r="3.4"/><circle cx="612.6" cy="150.1" r="3.4"/><circle cx="618.1" cy="121.2" r="3.4"/><circle cx="624.4" cy="154.1" r="3.4"/><circle cx="586.6" cy="131.1" r="3.4"/><circle cx="595.3" cy="124.6" r="3.4"/><circle cx="573.5" cy="139.6" r="3.4"/><circle cx="585.8" cy="123.2" r="3.4"/><circle cx="609.9" cy="128.0" r="3.4"/><circle cx="612.2" cy="141.2" r="3.4"/><circle cx="620.8" cy="125.5" r="3.4"/><circle cx="597.6" cy="156.0" r="3.4"/><circle cx="596.7" cy="137.9" r="3.4"/><circle cx="574.8" cy="132.9" r="3.4"/><circle cx="570.7" cy="134.4" r="3.4"/><circle cx="594.2" cy="135.8" r="3.4"/><circle cx="574.6" cy="154.6" r="3.4"/><circle cx="625.4" cy="134.8" r="3.4"/><circle cx="597.3" cy="147.7" r="3.4"/><circle cx="626.3" cy="139.6" r="3.4"/><circle cx="597.5" cy="113.3" r="3.4"/><circle cx="567.0" cy="149.2" r="3.4"/><circle cx="604.1" cy="118.3" r="3.4"/><circle cx="613.4" cy="139.2" r="3.4"/><circle cx="605.8" cy="111.9" r="3.4"/><circle cx="567.4" cy="131.0" r="3.4"/><circle cx="589.6" cy="133.2" r="3.4"/><circle cx="608.1" cy="127.8" r="3.4"/><circle cx="574.2" cy="127.2" r="3.4"/><circle cx="595.4" cy="161.1" r="3.4"/><circle cx="617.8" cy="115.0" r="3.4"/><circle cx="594.0" cy="130.5" r="3.4"/><circle cx="587.7" cy="128.1" r="3.4"/><circle cx="625.2" cy="128.1" r="3.4"/><circle cx="568.0" cy="136.4" r="3.4"/><circle cx="570.9" cy="137.3" r="3.4"/><circle cx="595.6" cy="140.3" r="3.4"/><circle cx="587.4" cy="149.3" r="3.4"/><circle cx="590.1" cy="138.4" r="3.4"/><circle cx="564.5" cy="146.6" r="3.4"/><circle cx="618.2" cy="153.7" r="3.4"/><circle cx="599.1" cy="131.6" r="3.4"/><circle cx="583.3" cy="145.9" r="3.4"/><circle cx="595.1" cy="135.6" r="3.4"/><circle cx="578.5" cy="154.6" r="3.4"/><circle cx="574.9" cy="122.7" r="3.4"/><circle cx="612.3" cy="131.1" r="3.4"/><circle cx="574.5" cy="141.8" r="3.4"/><circle cx="595.4" cy="123.6" r="3.4"/><circle cx="600.2" cy="141.6" r="3.4"/><circle cx="601.1" cy="162.1" r="3.4"/><circle cx="562.5" cy="144.4" r="3.4"/><circle cx="602.3" cy="149.4" r="3.4"/><circle cx="601.8" cy="140.7" r="3.4"/><circle cx="591.4" cy="130.7" r="3.4"/><circle cx="572.0" cy="133.8" r="3.4"/><circle cx="601.2" cy="134.2" r="3.4"/><circle cx="588.3" cy="120.8" r="3.4"/><circle cx="628.9" cy="135.4" r="3.4"/><circle cx="580.5" cy="154.2" r="3.4"/><circle cx="615.7" cy="156.8" r="3.4"/><circle cx="580.3" cy="142.5" r="3.4"/><circle cx="605.7" cy="143.7" r="3.4"/><circle cx="606.9" cy="138.4" r="3.4"/><circle cx="584.8" cy="135.1" r="3.4"/><circle cx="618.2" cy="130.1" r="3.4"/><circle cx="599.7" cy="125.7" r="3.4"/><circle cx="577.1" cy="150.4" r="3.4"/><circle cx="582.8" cy="124.2" r="3.4"/><circle cx="609.1" cy="139.2" r="3.4"/><circle cx="598.1" cy="150.3" r="3.4"/><circle cx="583.5" cy="136.9" r="3.4"/><circle cx="571.6" cy="119.2" r="3.4"/><circle cx="575.1" cy="155.8" r="3.4"/><circle cx="617.6" cy="116.3" r="3.4"/><circle cx="587.6" cy="138.9" r="3.4"/><circle cx="573.4" cy="150.0" r="3.4"/><circle cx="574.0" cy="129.7" r="3.4"/><circle cx="610.1" cy="123.9" r="3.4"/><circle cx="583.2" cy="137.3" r="3.4"/><circle cx="576.1" cy="121.0" r="3.4"/><circle cx="572.9" cy="152.7" r="3.4"/><circle cx="583.9" cy="155.0" r="3.4"/><circle cx="594.4" cy="139.1" r="3.4"/><circle cx="589.8" cy="135.4" r="3.4"/><circle cx="597.3" cy="129.7" r="3.4"/><circle cx="561.3" cy="128.8" r="3.4"/><circle cx="612.9" cy="136.3" r="3.4"/><circle cx="593.9" cy="119.3" r="3.4"/><circle cx="600.6" cy="138.8" r="3.4"/><circle cx="603.3" cy="128.2" r="3.4"/><circle cx="624.8" cy="120.7" r="3.4"/><circle cx="633.6" cy="142.2" r="3.4"/><circle cx="610.5" cy="137.0" r="3.4"/><circle cx="563.7" cy="140.2" r="3.4"/><circle cx="567.6" cy="148.4" r="3.4"/><circle cx="591.3" cy="137.2" r="3.4"/><circle cx="619.4" cy="131.1" r="3.4"/><circle cx="568.6" cy="137.4" r="3.4"/><circle cx="592.8" cy="152.0" r="3.4"/><circle cx="612.9" cy="124.2" r="3.4"/><circle cx="570.1" cy="134.4" r="3.4"/><circle cx="588.1" cy="138.8" r="3.4"/><circle cx="562.5" cy="136.0" r="3.4"/><circle cx="568.6" cy="144.8" r="3.4"/><circle cx="600.4" cy="128.5" r="3.4"/><circle cx="567.7" cy="123.9" r="3.4"/><circle cx="590.1" cy="141.7" r="3.4"/><circle cx="576.7" cy="123.1" r="3.4"/><circle cx="578.3" cy="124.2" r="3.4"/><circle cx="618.6" cy="154.8" r="3.4"/><circle cx="562.5" cy="134.9" r="3.4"/><circle cx="581.9" cy="148.0" r="3.4"/><circle cx="581.3" cy="141.0" r="3.4"/><circle cx="565.5" cy="122.9" r="3.4"/><circle cx="565.0" cy="132.2" r="3.4"/><circle cx="570.9" cy="139.5" r="3.4"/><circle cx="615.2" cy="148.5" r="3.4"/><circle cx="616.5" cy="129.6" r="3.4"/><circle cx="611.7" cy="127.2" r="3.4"/><circle cx="589.9" cy="138.0" r="3.4"/><circle cx="582.4" cy="115.2" r="3.4"/><circle cx="577.7" cy="139.5" r="3.4"/><circle cx="614.8" cy="128.2" r="3.4"/><circle cx="588.8" cy="122.9" r="3.4"/><circle cx="597.7" cy="135.3" r="3.4"/><circle cx="578.8" cy="133.8" r="3.4"/><circle cx="602.6" cy="134.9" r="3.4"/><circle cx="571.0" cy="142.6" r="3.4"/><circle cx="585.9" cy="137.8" r="3.4"/><circle cx="593.3" cy="112.4" r="3.4"/><circle cx="610.5" cy="131.7" r="3.4"/><circle cx="570.1" cy="125.1" r="3.4"/><circle cx="606.0" cy="137.2" r="3.4"/><circle cx="598.5" cy="147.8" r="3.4"/><circle cx="625.2" cy="142.1" r="3.4"/><circle cx="588.6" cy="133.9" r="3.4"/><circle cx="614.9" cy="141.9" r="3.4"/><circle cx="578.2" cy="157.7" r="3.4"/><circle cx="621.1" cy="151.9" r="3.4"/><circle cx="600.0" cy="141.0" r="3.4"/><circle cx="614.6" cy="128.2" r="3.4"/><circle cx="585.5" cy="160.2" r="3.4"/><circle cx="610.6" cy="160.4" r="3.4"/><circle cx="608.3" cy="143.9" r="3.4"/><circle cx="620.8" cy="150.5" r="3.4"/><circle cx="582.8" cy="128.4" r="3.4"/><circle cx="568.9" cy="140.8" r="3.4"/><circle cx="602.8" cy="115.7" r="3.4"/><circle cx="576.4" cy="132.4" r="3.4"/><circle cx="576.9" cy="124.7" r="3.4"/><circle cx="596.7" cy="144.8" r="3.4"/><circle cx="616.8" cy="144.2" r="3.4"/><circle cx="591.2" cy="125.5" r="3.4"/><circle cx="571.8" cy="124.1" r="3.4"/><circle cx="584.2" cy="125.9" r="3.4"/><circle cx="601.8" cy="122.7" r="3.4"/><circle cx="569.6" cy="129.3" r="3.4"/><circle cx="590.0" cy="140.3" r="3.4"/><circle cx="588.0" cy="149.2" r="3.4"/><circle cx="582.1" cy="152.1" r="3.4"/><circle cx="560.5" cy="131.5" r="3.4"/><circle cx="628.3" cy="130.2" r="3.4"/><circle cx="568.6" cy="125.0" r="3.4"/><circle cx="563.0" cy="126.6" r="3.4"/><circle cx="597.0" cy="133.1" r="3.4"/><circle cx="582.1" cy="158.5" r="3.4"/><circle cx="606.3" cy="139.9" r="3.4"/><circle cx="567.7" cy="140.2" r="3.4"/><circle cx="587.5" cy="146.0" r="3.4"/><circle cx="584.7" cy="128.3" r="3.4"/><circle cx="627.7" cy="136.0" r="3.4"/><circle cx="624.1" cy="123.4" r="3.4"/><circle cx="628.5" cy="127.1" r="3.4"/><circle cx="585.5" cy="119.9" r="3.4"/><circle cx="581.0" cy="142.7" r="3.4"/><circle cx="623.2" cy="130.8" r="3.4"/><circle cx="605.8" cy="124.2" r="3.4"/><circle cx="632.3" cy="131.5" r="3.4"/><circle cx="622.7" cy="117.9" r="3.4"/><circle cx="560.0" cy="132.4" r="3.4"/><circle cx="566.9" cy="140.0" r="3.4"/><circle cx="566.3" cy="125.3" r="3.4"/><circle cx="584.8" cy="149.6" r="3.4"/><circle cx="572.5" cy="155.7" r="3.4"/><circle cx="598.4" cy="155.5" r="3.4"/><circle cx="580.4" cy="133.8" r="3.4"/><circle cx="582.7" cy="143.8" r="3.4"/><circle cx="615.6" cy="150.0" r="3.4"/><circle cx="562.5" cy="132.2" r="3.4"/><circle cx="592.0" cy="139.1" r="3.4"/><circle cx="624.9" cy="150.3" r="3.4"/><circle cx="636.9" cy="138.0" r="3.4"/><circle cx="566.8" cy="102.4" r="3.4"/><circle cx="585.3" cy="163.0" r="3.4"/><circle cx="598.2" cy="128.1" r="3.4"/><circle cx="620.0" cy="150.1" r="3.4"/><circle cx="568.3" cy="128.1" r="3.4"/><circle cx="621.0" cy="153.4" r="3.4"/><circle cx="581.7" cy="130.8" r="3.4"/><circle cx="616.5" cy="159.9" r="3.4"/><circle cx="604.5" cy="157.0" r="3.4"/><circle cx="634.2" cy="125.7" r="3.4"/><circle cx="573.5" cy="89.4" r="3.4"/><circle cx="612.2" cy="141.6" r="3.4"/><circle cx="591.4" cy="120.3" r="3.4"/><circle cx="581.4" cy="151.8" r="3.4"/><circle cx="621.2" cy="142.1" r="3.4"/><circle cx="574.9" cy="130.1" r="3.4"/><circle cx="616.1" cy="120.9" r="3.4"/><circle cx="573.2" cy="122.5" r="3.4"/><circle cx="569.6" cy="159.6" r="3.4"/><circle cx="614.8" cy="151.5" r="3.4"/><circle cx="650.1" cy="132.6" r="3.4"/><circle cx="609.3" cy="141.3" r="3.4"/><circle cx="575.1" cy="150.8" r="3.4"/><circle cx="606.0" cy="133.1" r="3.4"/><circle cx="590.5" cy="107.2" r="3.4"/><circle cx="581.6" cy="162.7" r="3.4"/><circle cx="602.8" cy="130.9" r="3.4"/><circle cx="610.6" cy="126.3" r="3.4"/><circle cx="617.2" cy="136.5" r="3.4"/><circle cx="572.8" cy="120.8" r="3.4"/><circle cx="636.9" cy="118.7" r="3.4"/><circle cx="590.3" cy="139.7" r="3.4"/><circle cx="558.7" cy="124.8" r="3.4"/><circle cx="576.9" cy="143.0" r="3.4"/><circle cx="600.2" cy="142.6" r="3.4"/><circle cx="576.6" cy="167.8" r="3.4"/><circle cx="602.0" cy="131.9" r="3.4"/><circle cx="575.3" cy="137.6" r="3.4"/><circle cx="621.8" cy="127.5" r="3.4"/><circle cx="601.2" cy="155.3" r="3.4"/><circle cx="590.6" cy="144.0" r="3.4"/><circle cx="620.5" cy="142.4" r="3.4"/><circle cx="574.1" cy="166.5" r="3.4"/><circle cx="592.9" cy="140.9" r="3.4"/><circle cx="610.8" cy="140.6" r="3.4"/><circle cx="605.7" cy="115.3" r="3.4"/><circle cx="598.0" cy="108.3" r="3.4"/><circle cx="617.7" cy="128.1" r="3.4"/><circle cx="584.0" cy="137.9" r="3.4"/><circle cx="596.1" cy="118.8" r="3.4"/><circle cx="575.4" cy="121.0" r="3.4"/><circle cx="594.9" cy="148.4" r="3.4"/><circle cx="568.4" cy="127.2" r="3.4"/><circle cx="568.2" cy="127.0" r="3.4"/><circle cx="596.0" cy="130.9" r="3.4"/><circle cx="571.7" cy="118.8" r="3.4"/><circle cx="614.7" cy="150.1" r="3.4"/><circle cx="619.7" cy="159.2" r="3.4"/><circle cx="610.3" cy="153.0" r="3.4"/><circle cx="614.5" cy="161.0" r="3.4"/><circle cx="608.7" cy="104.8" r="3.4"/><circle cx="559.9" cy="150.9" r="3.4"/><circle cx="569.7" cy="134.3" r="3.4"/><circle cx="604.2" cy="158.5" r="3.4"/><circle cx="570.2" cy="126.1" r="3.4"/><circle cx="579.9" cy="149.5" r="3.4"/><circle cx="595.4" cy="165.0" r="3.4"/><circle cx="603.8" cy="146.4" r="3.4"/><circle cx="558.3" cy="138.8" r="3.4"/><circle cx="596.9" cy="134.1" r="3.4"/><circle cx="616.9" cy="145.2" r="3.4"/><circle cx="605.4" cy="133.8" r="3.4"/><circle cx="632.4" cy="118.2" r="3.4"/><circle cx="585.1" cy="146.9" r="3.4"/><circle cx="627.1" cy="163.6" r="3.4"/><circle cx="648.4" cy="143.3" r="3.4"/><circle cx="613.6" cy="154.3" r="3.4"/><circle cx="620.4" cy="156.6" r="3.4"/><circle cx="620.8" cy="137.8" r="3.4"/><circle cx="544.2" cy="136.1" r="3.4"/><circle cx="579.6" cy="124.2" r="3.4"/><circle cx="622.6" cy="140.9" r="3.4"/><circle cx="565.8" cy="145.2" r="3.4"/><circle cx="603.6" cy="122.2" r="3.4"/><circle cx="609.6" cy="132.5" r="3.4"/><circle cx="626.9" cy="154.1" r="3.4"/><circle cx="593.3" cy="126.6" r="3.4"/><circle cx="617.4" cy="149.1" r="3.4"/><circle cx="596.0" cy="143.1" r="3.4"/><circle cx="634.5" cy="132.3" r="3.4"/><circle cx="581.1" cy="151.5" r="3.4"/><circle cx="583.6" cy="147.1" r="3.4"/><circle cx="606.0" cy="136.3" r="3.4"/><circle cx="636.6" cy="138.8" r="3.4"/><circle cx="602.5" cy="143.5" r="3.4"/><circle cx="595.6" cy="145.2" r="3.4"/><circle cx="581.4" cy="144.2" r="3.4"/><circle cx="621.5" cy="148.6" r="3.4"/><circle cx="579.7" cy="129.3" r="3.4"/><circle cx="590.4" cy="160.8" r="3.4"/><circle cx="589.5" cy="135.6" r="3.4"/><circle cx="623.1" cy="134.4" r="3.4"/><circle cx="575.8" cy="158.2" r="3.4"/><circle cx="576.1" cy="153.3" r="3.4"/><circle cx="601.1" cy="107.5" r="3.4"/><circle cx="597.2" cy="137.2" r="3.4"/><circle cx="560.7" cy="149.5" r="3.4"/><circle cx="575.0" cy="146.0" r="3.4"/><circle cx="580.8" cy="110.5" r="3.4"/><circle cx="597.2" cy="126.0" r="3.4"/><circle cx="576.0" cy="124.9" r="3.4"/><circle cx="643.6" cy="147.3" r="3.4"/><circle cx="602.7" cy="151.2" r="3.4"/><circle cx="625.3" cy="143.1" r="3.4"/><circle cx="604.2" cy="136.7" r="3.4"/><circle cx="602.1" cy="124.3" r="3.4"/><circle cx="613.9" cy="154.4" r="3.4"/><circle cx="588.0" cy="102.0" r="3.4"/><circle cx="552.7" cy="146.0" r="3.4"/><circle cx="606.8" cy="146.9" r="3.4"/><circle cx="578.3" cy="142.2" r="3.4"/><circle cx="627.8" cy="137.2" r="3.4"/><circle cx="574.6" cy="139.5" r="3.4"/><circle cx="600.0" cy="147.9" r="3.4"/><circle cx="597.0" cy="126.6" r="3.4"/><circle cx="582.7" cy="148.9" r="3.4"/><circle cx="587.1" cy="137.3" r="3.4"/><circle cx="592.1" cy="138.7" r="3.4"/><circle cx="600.6" cy="94.6" r="3.4"/><circle cx="602.5" cy="115.8" r="3.4"/><circle cx="597.5" cy="133.5" r="3.4"/><circle cx="596.1" cy="126.5" r="3.4"/><circle cx="542.9" cy="151.6" r="3.4"/><circle cx="629.6" cy="113.2" r="3.4"/><circle cx="612.8" cy="156.3" r="3.4"/><circle cx="566.1" cy="149.9" r="3.4"/><circle cx="576.3" cy="140.5" r="3.4"/><circle cx="545.1" cy="129.2" r="3.4"/><circle cx="525.5" cy="118.3" r="3.4"/><circle cx="585.2" cy="117.6" r="3.4"/><circle cx="636.5" cy="125.5" r="3.4"/><circle cx="600.1" cy="136.7" r="3.4"/><circle cx="601.8" cy="147.6" r="3.4"/><circle cx="598.4" cy="148.3" r="3.4"/><circle cx="610.7" cy="154.2" r="3.4"/><circle cx="595.6" cy="153.3" r="3.4"/><circle cx="576.8" cy="125.8" r="3.4"/><circle cx="582.5" cy="128.4" r="3.4"/><circle cx="613.2" cy="154.1" r="3.4"/><circle cx="587.2" cy="124.0" r="3.4"/><circle cx="550.9" cy="153.3" r="3.4"/><circle cx="610.0" cy="137.8" r="3.4"/><circle cx="602.3" cy="114.9" r="3.4"/><circle cx="629.0" cy="144.1" r="3.4"/><circle cx="599.4" cy="140.6" r="3.4"/><circle cx="597.2" cy="124.1" r="3.4"/><circle cx="594.3" cy="98.7" r="3.4"/><circle cx="577.8" cy="141.5" r="3.4"/><circle cx="603.5" cy="144.1" r="3.4"/><circle cx="584.5" cy="150.2" r="3.4"/><circle cx="572.1" cy="143.8" r="3.4"/><circle cx="594.4" cy="125.6" r="3.4"/><circle cx="599.1" cy="110.3" r="3.4"/><circle cx="605.6" cy="134.9" r="3.4"/><circle cx="613.0" cy="152.5" r="3.4"/><circle cx="649.5" cy="135.4" r="3.4"/><circle cx="590.4" cy="117.5" r="3.4"/><circle cx="629.2" cy="110.2" r="3.4"/><circle cx="597.0" cy="94.9" r="3.4"/><circle cx="599.9" cy="140.0" r="3.4"/><circle cx="616.4" cy="144.2" r="3.4"/><circle cx="576.4" cy="102.4" r="3.4"/><circle cx="595.0" cy="127.2" r="3.4"/><circle cx="613.4" cy="159.6" r="3.4"/><circle cx="562.1" cy="102.9" r="3.4"/><circle cx="574.3" cy="160.8" r="3.4"/><circle cx="586.0" cy="155.6" r="3.4"/><circle cx="596.1" cy="150.8" r="3.4"/><circle cx="615.3" cy="145.0" r="3.4"/><circle cx="566.0" cy="145.2" r="3.4"/><circle cx="630.2" cy="147.3" r="3.4"/><circle cx="613.7" cy="163.5" r="3.4"/><circle cx="611.3" cy="119.4" r="3.4"/><circle cx="549.5" cy="108.9" r="3.4"/><circle cx="604.6" cy="105.4" r="3.4"/><circle cx="578.0" cy="140.8" r="3.4"/><circle cx="614.4" cy="153.5" r="3.4"/><circle cx="594.5" cy="125.6" r="3.4"/><circle cx="586.4" cy="143.9" r="3.4"/><circle cx="574.6" cy="140.6" r="3.4"/><circle cx="591.1" cy="155.8" r="3.4"/><circle cx="612.8" cy="148.9" r="3.4"/><circle cx="557.4" cy="143.9" r="3.4"/><circle cx="578.6" cy="126.5" r="3.4"/><circle cx="590.6" cy="131.1" r="3.4"/><circle cx="591.9" cy="151.4" r="3.4"/><circle cx="585.4" cy="139.8" r="3.4"/><circle cx="601.3" cy="158.2" r="3.4"/><circle cx="598.5" cy="127.1" r="3.4"/><circle cx="546.2" cy="152.4" r="3.4"/><circle cx="621.1" cy="134.1" r="3.4"/><circle cx="562.5" cy="143.8" r="3.4"/><circle cx="624.7" cy="109.6" r="3.4"/><circle cx="615.2" cy="148.0" r="3.4"/><circle cx="554.4" cy="122.6" r="3.4"/><circle cx="599.2" cy="156.0" r="3.4"/><circle cx="629.4" cy="150.8" r="3.4"/><circle cx="630.0" cy="127.0" r="3.4"/><circle cx="601.1" cy="160.6" r="3.4"/><circle cx="578.2" cy="161.3" r="3.4"/><circle cx="625.8" cy="165.0" r="3.4"/><circle cx="560.7" cy="156.9" r="3.4"/><circle cx="560.9" cy="131.5" r="3.4"/><circle cx="615.4" cy="160.4" r="3.4"/><circle cx="567.6" cy="117.5" r="3.4"/><circle cx="610.0" cy="132.3" r="3.4"/><circle cx="571.1" cy="142.8" r="3.4"/><circle cx="581.6" cy="111.8" r="3.4"/><circle cx="624.7" cy="156.6" r="3.4"/><circle cx="595.0" cy="147.4" r="3.4"/><circle cx="612.2" cy="135.4" r="3.4"/><circle cx="592.3" cy="103.4" r="3.4"/><circle cx="585.9" cy="126.8" r="3.4"/><circle cx="580.2" cy="150.3" r="3.4"/><circle cx="574.7" cy="147.8" r="3.4"/><circle cx="606.4" cy="123.1" r="3.4"/><circle cx="607.7" cy="116.7" r="3.4"/><circle cx="636.9" cy="137.8" r="3.4"/><circle cx="603.8" cy="118.8" r="3.4"/><circle cx="590.7" cy="111.5" r="3.4"/><circle cx="608.9" cy="160.4" r="3.4"/><circle cx="631.6" cy="137.4" r="3.4"/><circle cx="562.4" cy="143.1" r="3.4"/><circle cx="637.0" cy="133.3" r="3.4"/><circle cx="577.4" cy="152.5" r="3.4"/><circle cx="577.6" cy="152.6" r="3.4"/><circle cx="658.7" cy="134.7" r="3.4"/><circle cx="623.2" cy="130.3" r="3.4"/><circle cx="583.9" cy="130.8" r="3.4"/><circle cx="617.6" cy="151.5" r="3.4"/><circle cx="629.6" cy="139.3" r="3.4"/><circle cx="613.5" cy="118.2" r="3.4"/><circle cx="623.4" cy="158.4" r="3.4"/><circle cx="605.7" cy="137.6" r="3.4"/><circle cx="609.5" cy="145.1" r="3.4"/><circle cx="569.6" cy="159.9" r="3.4"/><circle cx="572.3" cy="145.3" r="3.4"/><circle cx="601.6" cy="150.2" r="3.4"/><circle cx="564.7" cy="135.8" r="3.4"/><circle cx="613.1" cy="146.7" r="3.4"/><circle cx="595.0" cy="151.6" r="3.4"/><circle cx="625.4" cy="143.5" r="3.4"/><circle cx="618.5" cy="135.8" r="3.4"/><circle cx="587.2" cy="134.5" r="3.4"/><circle cx="532.4" cy="132.9" r="3.4"/><circle cx="562.3" cy="141.1" r="3.4"/><circle cx="597.0" cy="129.5" r="3.4"/><circle cx="646.2" cy="146.0" r="3.4"/><circle cx="597.4" cy="129.8" r="3.4"/><circle cx="611.0" cy="152.9" r="3.4"/><circle cx="596.5" cy="139.0" r="3.4"/><circle cx="533.1" cy="126.8" r="3.4"/><circle cx="611.5" cy="143.9" r="3.4"/><circle cx="591.0" cy="119.9" r="3.4"/><circle cx="560.9" cy="184.5" r="3.4"/><circle cx="613.7" cy="126.1" r="3.4"/><circle cx="595.8" cy="134.8" r="3.4"/><circle cx="667.8" cy="159.3" r="3.4"/><circle cx="543.7" cy="128.2" r="3.4"/><circle cx="577.7" cy="122.5" r="3.4"/><circle cx="598.2" cy="121.5" r="3.4"/><circle cx="587.8" cy="154.8" r="3.4"/><circle cx="612.6" cy="119.1" r="3.4"/><circle cx="618.4" cy="163.6" r="3.4"/><circle cx="608.5" cy="146.7" r="3.4"/><circle cx="598.6" cy="135.0" r="3.4"/><circle cx="580.4" cy="154.8" r="3.4"/><circle cx="601.4" cy="136.9" r="3.4"/><circle cx="617.7" cy="164.3" r="3.4"/><circle cx="595.8" cy="163.2" r="3.4"/><circle cx="603.9" cy="103.7" r="3.4"/><circle cx="589.7" cy="106.1" r="3.4"/><circle cx="634.3" cy="132.9" r="3.4"/><circle cx="626.4" cy="155.2" r="3.4"/><circle cx="620.0" cy="161.5" r="3.4"/><circle cx="559.4" cy="122.9" r="3.4"/><circle cx="636.0" cy="154.3" r="3.4"/><circle cx="567.8" cy="157.5" r="3.4"/><circle cx="603.7" cy="161.8" r="3.4"/><circle cx="552.0" cy="124.2" r="3.4"/><circle cx="553.5" cy="137.9" r="3.4"/><circle cx="555.1" cy="138.9" r="3.4"/><circle cx="605.2" cy="162.5" r="3.4"/><circle cx="637.9" cy="145.8" r="3.4"/><circle cx="572.2" cy="109.4" r="3.4"/><circle cx="620.1" cy="163.3" r="3.4"/><circle cx="642.1" cy="144.7" r="3.4"/><circle cx="588.1" cy="110.8" r="3.4"/><circle cx="555.0" cy="137.4" r="3.4"/><circle cx="601.8" cy="167.8" r="3.4"/><circle cx="640.7" cy="147.9" r="3.4"/><circle cx="645.0" cy="141.9" r="3.4"/><circle cx="639.4" cy="144.6" r="3.4"/><circle cx="585.7" cy="168.5" r="3.4"/><circle cx="640.6" cy="133.9" r="3.4"/><circle cx="629.5" cy="151.9" r="3.4"/><circle cx="639.4" cy="124.0" r="3.4"/><circle cx="634.1" cy="129.3" r="3.4"/><circle cx="598.7" cy="104.6" r="3.4"/><circle cx="551.8" cy="145.3" r="3.4"/><circle cx="624.2" cy="162.1" r="3.4"/><circle cx="559.9" cy="135.8" r="3.4"/><circle cx="574.3" cy="164.0" r="3.4"/><circle cx="645.9" cy="138.4" r="3.4"/><circle cx="574.5" cy="111.6" r="3.4"/><circle cx="625.3" cy="154.4" r="3.4"/><circle cx="632.9" cy="154.9" r="3.4"/><circle cx="560.7" cy="119.9" r="3.4"/><circle cx="602.5" cy="169.7" r="3.4"/><circle cx="597.1" cy="164.0" r="3.4"/><circle cx="627.2" cy="155.7" r="3.4"/><circle cx="641.6" cy="149.5" r="3.4"/><circle cx="623.5" cy="119.7" r="3.4"/><circle cx="619.5" cy="162.2" r="3.4"/><circle cx="570.9" cy="111.0" r="3.4"/><circle cx="560.6" cy="126.4" r="3.4"/><circle cx="549.8" cy="140.0" r="3.4"/><circle cx="567.5" cy="162.8" r="3.4"/><circle cx="564.1" cy="118.7" r="3.4"/><circle cx="595.2" cy="162.5" r="3.4"/><circle cx="555.7" cy="139.9" r="3.4"/><circle cx="637.8" cy="140.6" r="3.4"/><circle cx="561.1" cy="127.7" r="3.4"/><circle cx="576.0" cy="107.3" r="3.4"/><circle cx="574.9" cy="109.0" r="3.4"/><circle cx="587.2" cy="163.0" r="3.4"/><circle cx="566.3" cy="110.4" r="3.4"/><circle cx="573.0" cy="165.6" r="3.4"/><circle cx="556.7" cy="119.2" r="3.4"/><circle cx="584.0" cy="163.4" r="3.4"/><circle cx="613.4" cy="162.3" r="3.4"/><circle cx="577.2" cy="108.6" r="3.4"/><circle cx="629.4" cy="120.5" r="3.4"/><circle cx="641.1" cy="121.5" r="3.4"/><circle cx="605.0" cy="107.4" r="3.4"/><circle cx="562.4" cy="123.1" r="3.4"/><circle cx="574.2" cy="109.6" r="3.4"/><circle cx="571.9" cy="160.4" r="3.4"/><circle cx="557.4" cy="128.6" r="3.4"/><circle cx="617.7" cy="166.7" r="3.4"/><circle cx="557.2" cy="150.1" r="3.4"/><circle cx="630.6" cy="120.0" r="3.4"/><circle cx="553.4" cy="148.4" r="3.4"/><circle cx="559.6" cy="127.6" r="3.4"/><circle cx="600.1" cy="107.8" r="3.4"/><circle cx="629.6" cy="123.5" r="3.4"/><circle cx="605.3" cy="111.3" r="3.4"/><circle cx="591.3" cy="164.0" r="3.4"/><circle cx="566.9" cy="111.2" r="3.4"/><circle cx="642.6" cy="145.4" r="3.4"/><circle cx="632.7" cy="145.8" r="3.4"/><circle cx="603.9" cy="163.6" r="3.4"/><circle cx="638.2" cy="131.2" r="3.4"/><circle cx="603.8" cy="163.1" r="3.4"/><circle cx="572.9" cy="116.8" r="3.4"/><circle cx="579.0" cy="106.0" r="3.4"/><circle cx="619.1" cy="156.7" r="3.4"/><circle cx="550.6" cy="140.3" r="3.4"/><circle cx="634.5" cy="130.5" r="3.4"/><circle cx="601.9" cy="168.2" r="3.4"/><circle cx="637.7" cy="126.8" r="3.4"/><circle cx="551.4" cy="144.0" r="3.4"/><circle cx="553.7" cy="144.7" r="3.4"/><circle cx="563.6" cy="155.7" r="3.4"/><circle cx="639.0" cy="124.7" r="3.4"/><circle cx="642.2" cy="147.6" r="3.4"/><circle cx="621.2" cy="155.6" r="3.4"/><circle cx="641.8" cy="147.7" r="3.4"/><circle cx="565.1" cy="73.1" r="3.4"/><circle cx="500.3" cy="126.7" r="3.4"/><circle cx="522.3" cy="120.4" r="3.4"/><circle cx="525.4" cy="115.7" r="3.4"/><circle cx="536.3" cy="118.5" r="3.4"/><circle cx="541.7" cy="116.3" r="3.4"/><circle cx="543.5" cy="115.7" r="3.4"/><circle cx="533.2" cy="138.2" r="3.4"/><circle cx="535.7" cy="142.0" r="3.4"/><circle cx="551.0" cy="164.2" r="3.4"/><circle cx="547.3" cy="148.6" r="3.4"/><circle cx="551.4" cy="104.8" r="3.4"/><circle cx="566.1" cy="96.9" r="3.4"/><circle cx="583.3" cy="91.9" r="3.4"/><circle cx="600.5" cy="88.8" r="3.4"/><circle cx="602.1" cy="91.9" r="3.4"/><circle cx="608.3" cy="93.5" r="3.4"/><circle cx="611.5" cy="93.5" r="3.4"/><circle cx="617.7" cy="95.1" r="3.4"/><circle cx="619.3" cy="100.7" r="3.4"/><circle cx="609.0" cy="100.7" r="3.4"/><circle cx="577.0" cy="98.2" r="3.4"/><circle cx="574.8" cy="102.3" r="3.4"/><circle cx="580.2" cy="106.3" r="3.4"/><circle cx="634.3" cy="103.2" r="3.4"/><circle cx="644.9" cy="99.7" r="3.4"/><circle cx="639.6" cy="107.0" r="3.4"/><circle cx="650.6" cy="110.1" r="3.4"/><circle cx="652.1" cy="117.0" r="3.4"/><circle cx="656.8" cy="125.1" r="3.4"/><circle cx="653.7" cy="131.4" r="3.4"/><circle cx="658.4" cy="144.5" r="3.4"/><circle cx="660.9" cy="156.4" r="3.4"/><circle cx="649.0" cy="156.4" r="3.4"/><circle cx="642.1" cy="164.2" r="3.4"/><circle cx="649.0" cy="180.5" r="3.4"/><circle cx="642.8" cy="198.7" r="3.4"/><circle cx="634.0" cy="190.8" r="3.4"/><circle cx="615.5" cy="189.3" r="3.4"/><circle cx="615.2" cy="196.8" r="3.4"/><circle cx="636.5" cy="174.2" r="3.4"/><circle cx="633.4" cy="175.8" r="3.4"/><circle cx="627.1" cy="176.4" r="3.4"/><circle cx="624.0" cy="178.3" r="3.4"/><circle cx="619.3" cy="170.2" r="3.4"/><circle cx="606.8" cy="170.2" r="3.4"/><circle cx="597.4" cy="185.8" r="3.4"/><circle cx="594.2" cy="180.5" r="3.4"/><circle cx="589.5" cy="182.1" r="3.4"/><circle cx="581.7" cy="175.8" r="3.4"/><circle cx="587.4" cy="171.1" r="3.4"/><circle cx="569.2" cy="163.3" r="3.4"/><circle cx="575.5" cy="164.9" r="3.4"/><circle cx="673.7" cy="136.5" r="3.4"/><circle cx="555.1" cy="157.0" r="3.4"/><circle cx="562.0" cy="156.4" r="3.4"/><circle cx="555.1" cy="111.0" r="3.4"/><circle cx="558.2" cy="110.7" r="3.4"/><circle cx="595.2" cy="106.3" r="3.4"/><circle cx="589.5" cy="105.4" r="3.4"/></g>
<line x1="481.5" y1="130" x2="693.8" y2="140.2" stroke="#000" stroke-width="2.2"/>
<line x1="281.2" y1="288.3" x2="281.2" y2="436" stroke="#000" stroke-width="2"/>
<line x1="277.7" y1="435" x2="471.6" y2="435" stroke="#000" stroke-width="2"/>
<line x1="278.2" y1="287.79999999999995" x2="281.2" y2="287.79999999999995" stroke="#000" stroke-width="1.6"/>
<line x1="277.2" y1="302.5" x2="281.2" y2="302.5" stroke="#000" stroke-width="1.6"/>
<text x="274" y="307.2" font-size="14" font-weight="bold" text-anchor="end">3.0</text>
<line x1="278.2" y1="317.2" x2="281.2" y2="317.2" stroke="#000" stroke-width="1.6"/>
<line x1="277.2" y1="331.9" x2="281.2" y2="331.9" stroke="#000" stroke-width="1.6"/>
<text x="274" y="336.59999999999997" font-size="14" font-weight="bold" text-anchor="end">2.5</text>
<line x1="278.2" y1="346.6" x2="281.2" y2="346.6" stroke="#000" stroke-width="1.6"/>
<line x1="277.2" y1="361.29999999999995" x2="281.2" y2="361.29999999999995" stroke="#000" stroke-width="1.6"/>
<text x="274" y="365.99999999999994" font-size="14" font-weight="bold" text-anchor="end">2.0</text>
<line x1="278.2" y1="376.0" x2="281.2" y2="376.0" stroke="#000" stroke-width="1.6"/>
<line x1="277.2" y1="390.7" x2="281.2" y2="390.7" stroke="#000" stroke-width="1.6"/>
<text x="274" y="395.4" font-size="14" font-weight="bold" text-anchor="end">1.5</text>
<line x1="278.2" y1="405.4" x2="281.2" y2="405.4" stroke="#000" stroke-width="1.6"/>
<line x1="277.2" y1="420.09999999999997" x2="281.2" y2="420.09999999999997" stroke="#000" stroke-width="1.6"/>
<text x="274" y="424.79999999999995" font-size="14" font-weight="bold" text-anchor="end">1.0</text>
<line x1="281.0" y1="435" x2="281.0" y2="439" stroke="#000" stroke-width="1.6"/>
<text x="281.0" y="453.4" font-size="14" font-weight="bold" text-anchor="middle">-3</text>
<line x1="293.75" y1="435" x2="293.75" y2="437.5" stroke="#000" stroke-width="1.6"/>
<line x1="306.5" y1="435" x2="306.5" y2="439" stroke="#000" stroke-width="1.6"/>
<text x="306.5" y="453.4" font-size="14" font-weight="bold" text-anchor="middle">-2</text>
<line x1="319.25" y1="435" x2="319.25" y2="437.5" stroke="#000" stroke-width="1.6"/>
<line x1="332.0" y1="435" x2="332.0" y2="439" stroke="#000" stroke-width="1.6"/>
<text x="332.0" y="453.4" font-size="14" font-weight="bold" text-anchor="middle">-1</text>
<line x1="344.75" y1="435" x2="344.75" y2="437.5" stroke="#000" stroke-width="1.6"/>
<line x1="357.5" y1="435" x2="357.5" y2="439" stroke="#000" stroke-width="1.6"/>
<text x="357.5" y="453.4" font-size="14" font-weight="bold" text-anchor="middle">0</text>
<line x1="370.25" y1="435" x2="370.25" y2="437.5" stroke="#000" stroke-width="1.6"/>
<line x1="383.0" y1="435" x2="383.0" y2="439" stroke="#000" stroke-width="1.6"/>
<text x="383.0" y="453.4" font-size="14" font-weight="bold" text-anchor="middle">1</text>
<line x1="395.75" y1="435" x2="395.75" y2="437.5" stroke="#000" stroke-width="1.6"/>
<line x1="408.5" y1="435" x2="408.5" y2="439" stroke="#000" stroke-width="1.6"/>
<text x="408.5" y="453.4" font-size="14" font-weight="bold" text-anchor="middle">2</text>
<line x1="421.25" y1="435" x2="421.25" y2="437.5" stroke="#000" stroke-width="1.6"/>
<line x1="434.0" y1="435" x2="434.0" y2="439" stroke="#000" stroke-width="1.6"/>
<text x="434.0" y="453.4" font-size="14" font-weight="bold" text-anchor="middle">3</text>
<line x1="446.75" y1="435" x2="446.75" y2="437.5" stroke="#000" stroke-width="1.6"/>
<line x1="459.5" y1="435" x2="459.5" y2="439" stroke="#000" stroke-width="1.6"/>
<text x="459.5" y="453.4" font-size="14" font-weight="bold" text-anchor="middle">4</text>
<g fill="none" stroke="#000" stroke-width="1.15"><circle cx="344.6" cy="366.2" r="3.4"/><circle cx="331.2" cy="358.5" r="3.4"/><circle cx="396.1" cy="360.4" r="3.4"/><circle cx="376.5" cy="365.6" r="3.4"/><circle cx="361.1" cy="359.2" r="3.4"/><circle cx="376.2" cy="382.4" r="3.4"/><circle cx="388.7" cy="368.2" r="3.4"/><circle cx="361.6" cy="366.0" r="3.4"/><circle cx="356.1" cy="344.5" r="3.4"/><circle cx="376.0" cy="373.0" r="3.4"/><circle cx="344.4" cy="363.1" r="3.4"/><circle cx="377.2" cy="365.8" r="3.4"/><circle cx="381.2" cy="364.2" r="3.4"/><circle cx="345.7" cy="341.7" r="3.4"/><circle cx="326.6" cy="351.0" r="3.4"/><circle cx="368.5" cy="353.8" r="3.4"/><circle cx="354.0" cy="352.7" r="3.4"/><circle cx="374.3" cy="369.1" r="3.4"/><circle cx="373.0" cy="344.1" r="3.4"/><circle cx="338.1" cy="365.1" r="3.4"/><circle cx="349.9" cy="355.6" r="3.4"/><circle cx="369.9" cy="372.4" r="3.4"/><circle cx="366.2" cy="343.9" r="3.4"/><circle cx="355.5" cy="366.1" r="3.4"/><circle cx="394.6" cy="367.2" r="3.4"/><circle cx="337.6" cy="356.1" r="3.4"/><circle cx="368.4" cy="358.6" r="3.4"/><circle cx="351.4" cy="358.5" r="3.4"/><circle cx="387.3" cy="374.2" r="3.4"/><circle cx="397.4" cy="370.0" r="3.4"/><circle cx="346.6" cy="372.7" r="3.4"/><circle cx="349.7" cy="366.6" r="3.4"/><circle cx="355.9" cy="378.8" r="3.4"/><circle cx="369.0" cy="374.2" r="3.4"/><circle cx="349.0" cy="343.7" r="3.4"/><circle cx="354.4" cy="367.0" r="3.4"/><circle cx="369.4" cy="375.8" r="3.4"/><circle cx="354.3" cy="376.9" r="3.4"/><circle cx="328.6" cy="370.7" r="3.4"/><circle cx="340.6" cy="351.3" r="3.4"/><circle cx="324.3" cy="361.6" r="3.4"/><circle cx="335.9" cy="372.4" r="3.4"/><circle cx="354.4" cy="361.2" r="3.4"/><circle cx="373.0" cy="358.2" r="3.4"/><circle cx="359.8" cy="371.5" r="3.4"/><circle cx="357.7" cy="357.8" r="3.4"/><circle cx="331.9" cy="369.7" r="3.4"/><circle cx="362.8" cy="359.8" r="3.4"/><circle cx="339.4" cy="353.7" r="3.4"/><circle cx="367.8" cy="359.0" r="3.4"/><circle cx="344.5" cy="351.6" r="3.4"/><circle cx="352.5" cy="379.1" r="3.4"/><circle cx="353.7" cy="368.4" r="3.4"/><circle cx="381.1" cy="376.3" r="3.4"/><circle cx="376.1" cy="382.3" r="3.4"/><circle cx="394.3" cy="365.6" r="3.4"/><circle cx="377.7" cy="354.4" r="3.4"/><circle cx="377.2" cy="353.7" r="3.4"/><circle cx="379.1" cy="345.8" r="3.4"/><circle cx="367.9" cy="363.0" r="3.4"/><circle cx="334.7" cy="359.7" r="3.4"/><circle cx="379.9" cy="367.9" r="3.4"/><circle cx="344.3" cy="379.8" r="3.4"/><circle cx="351.5" cy="383.9" r="3.4"/><circle cx="360.9" cy="355.6" r="3.4"/><circle cx="348.1" cy="361.2" r="3.4"/><circle cx="379.6" cy="380.2" r="3.4"/><circle cx="347.9" cy="367.6" r="3.4"/><circle cx="343.5" cy="351.0" r="3.4"/><circle cx="388.7" cy="351.9" r="3.4"/><circle cx="380.5" cy="378.8" r="3.4"/><circle cx="396.6" cy="363.9" r="3.4"/><circle cx="375.8" cy="349.3" r="3.4"/><circle cx="369.5" cy="383.9" r="3.4"/><circle cx="359.3" cy="377.3" r="3.4"/><circle cx="376.9" cy="348.6" r="3.4"/><circle cx="349.6" cy="360.7" r="3.4"/><circle cx="331.9" cy="352.5" r="3.4"/><circle cx="350.7" cy="379.9" r="3.4"/><circle cx="379.6" cy="369.2" r="3.4"/><circle cx="371.4" cy="370.0" r="3.4"/><circle cx="331.1" cy="357.3" r="3.4"/><circle cx="353.4" cy="376.4" r="3.4"/><circle cx="369.8" cy="372.8" r="3.4"/><circle cx="340.6" cy="345.7" r="3.4"/><circle cx="361.1" cy="367.7" r="3.4"/><circle cx="342.9" cy="354.5" r="3.4"/><circle cx="348.6" cy="355.8" r="3.4"/><circle cx="343.2" cy="369.3" r="3.4"/><circle cx="336.5" cy="366.4" r="3.4"/><circle cx="377.1" cy="365.0" r="3.4"/><circle cx="368.3" cy="375.6" r="3.4"/><circle cx="365.3" cy="364.2" r="3.4"/><circle cx="350.1" cy="383.5" r="3.4"/><circle cx="344.7" cy="370.1" r="3.4"/><circle cx="391.6" cy="349.2" r="3.4"/><circle cx="384.3" cy="365.5" r="3.4"/><circle cx="363.2" cy="370.2" r="3.4"/><circle cx="387.4" cy="369.2" r="3.4"/><circle cx="392.4" cy="370.3" r="3.4"/><circle cx="389.2" cy="374.0" r="3.4"/><circle cx="395.8" cy="360.8" r="3.4"/><circle cx="341.5" cy="376.1" r="3.4"/><circle cx="361.4" cy="341.5" r="3.4"/><circle cx="374.2" cy="356.6" r="3.4"/><circle cx="385.0" cy="373.1" r="3.4"/><circle cx="358.6" cy="372.9" r="3.4"/><circle cx="353.8" cy="356.5" r="3.4"/><circle cx="345.0" cy="360.4" r="3.4"/><circle cx="343.8" cy="365.2" r="3.4"/><circle cx="380.4" cy="350.7" r="3.4"/><circle cx="359.8" cy="373.0" r="3.4"/><circle cx="389.1" cy="352.9" r="3.4"/><circle cx="337.9" cy="365.6" r="3.4"/><circle cx="360.1" cy="377.5" r="3.4"/><circle cx="347.4" cy="352.5" r="3.4"/><circle cx="369.1" cy="351.0" r="3.4"/><circle cx="333.7" cy="369.2" r="3.4"/><circle cx="388.2" cy="359.9" r="3.4"/><circle cx="391.9" cy="363.8" r="3.4"/><circle cx="340.4" cy="367.5" r="3.4"/><circle cx="340.5" cy="357.3" r="3.4"/><circle cx="372.6" cy="346.6" r="3.4"/><circle cx="381.9" cy="360.3" r="3.4"/><circle cx="374.5" cy="368.2" r="3.4"/><circle cx="348.4" cy="346.3" r="3.4"/><circle cx="363.5" cy="362.6" r="3.4"/><circle cx="339.3" cy="355.9" r="3.4"/><circle cx="369.5" cy="369.6" r="3.4"/><circle cx="388.8" cy="352.7" r="3.4"/><circle cx="336.6" cy="359.6" r="3.4"/><circle cx="345.3" cy="354.9" r="3.4"/><circle cx="346.2" cy="376.6" r="3.4"/><circle cx="354.0" cy="360.6" r="3.4"/><circle cx="380.3" cy="359.3" r="3.4"/><circle cx="364.7" cy="365.0" r="3.4"/><circle cx="342.8" cy="354.6" r="3.4"/><circle cx="358.0" cy="352.0" r="3.4"/><circle cx="342.5" cy="347.4" r="3.4"/><circle cx="368.5" cy="366.6" r="3.4"/><circle cx="337.1" cy="351.2" r="3.4"/><circle cx="369.7" cy="343.8" r="3.4"/><circle cx="344.8" cy="368.1" r="3.4"/><circle cx="343.0" cy="380.3" r="3.4"/><circle cx="387.9" cy="350.0" r="3.4"/><circle cx="352.7" cy="382.2" r="3.4"/><circle cx="390.4" cy="352.8" r="3.4"/><circle cx="366.8" cy="353.4" r="3.4"/><circle cx="333.2" cy="351.9" r="3.4"/><circle cx="368.2" cy="349.6" r="3.4"/><circle cx="352.4" cy="384.9" r="3.4"/><circle cx="374.1" cy="357.0" r="3.4"/><circle cx="362.0" cy="379.9" r="3.4"/><circle cx="387.1" cy="373.0" r="3.4"/><circle cx="339.0" cy="359.6" r="3.4"/><circle cx="330.0" cy="376.7" r="3.4"/><circle cx="346.1" cy="342.8" r="3.4"/><circle cx="383.0" cy="371.3" r="3.4"/><circle cx="387.5" cy="370.5" r="3.4"/><circle cx="354.7" cy="380.8" r="3.4"/><circle cx="367.3" cy="353.5" r="3.4"/><circle cx="364.5" cy="351.2" r="3.4"/><circle cx="378.7" cy="349.5" r="3.4"/><circle cx="339.2" cy="367.1" r="3.4"/><circle cx="371.2" cy="370.0" r="3.4"/><circle cx="366.0" cy="350.3" r="3.4"/><circle cx="358.2" cy="359.7" r="3.4"/><circle cx="378.8" cy="354.6" r="3.4"/><circle cx="394.9" cy="364.0" r="3.4"/><circle cx="355.6" cy="363.3" r="3.4"/><circle cx="359.6" cy="373.0" r="3.4"/><circle cx="352.0" cy="368.2" r="3.4"/><circle cx="321.5" cy="357.7" r="3.4"/><circle cx="383.1" cy="354.3" r="3.4"/><circle cx="358.0" cy="366.6" r="3.4"/><circle cx="349.8" cy="365.7" r="3.4"/><circle cx="347.8" cy="355.5" r="3.4"/><circle cx="363.7" cy="371.2" r="3.4"/><circle cx="329.3" cy="359.4" r="3.4"/><circle cx="341.7" cy="369.8" r="3.4"/><circle cx="348.9" cy="383.3" r="3.4"/><circle cx="351.4" cy="372.1" r="3.4"/><circle cx="374.2" cy="354.6" r="3.4"/><circle cx="343.4" cy="356.3" r="3.4"/><circle cx="325.9" cy="363.4" r="3.4"/><circle cx="338.3" cy="362.6" r="3.4"/><circle cx="339.9" cy="356.1" r="3.4"/><circle cx="374.2" cy="368.7" r="3.4"/><circle cx="368.9" cy="376.9" r="3.4"/><circle cx="374.7" cy="382.8" r="3.4"/><circle cx="343.4" cy="380.3" r="3.4"/><circle cx="351.8" cy="354.1" r="3.4"/><circle cx="358.9" cy="361.0" r="3.4"/><circle cx="371.2" cy="344.9" r="3.4"/><circle cx="341.1" cy="369.3" r="3.4"/><circle cx="343.7" cy="355.3" r="3.4"/><circle cx="375.4" cy="366.2" r="3.4"/><circle cx="342.5" cy="349.0" r="3.4"/><circle cx="375.8" cy="376.0" r="3.4"/><circle cx="378.4" cy="371.8" r="3.4"/><circle cx="350.9" cy="348.4" r="3.4"/><circle cx="357.3" cy="359.9" r="3.4"/><circle cx="340.3" cy="366.9" r="3.4"/><circle cx="348.7" cy="375.0" r="3.4"/><circle cx="337.2" cy="355.2" r="3.4"/><circle cx="345.9" cy="361.4" r="3.4"/><circle cx="384.0" cy="371.7" r="3.4"/><circle cx="328.8" cy="368.0" r="3.4"/><circle cx="344.1" cy="381.1" r="3.4"/><circle cx="364.8" cy="375.8" r="3.4"/><circle cx="373.4" cy="367.8" r="3.4"/><circle cx="343.1" cy="351.0" r="3.4"/><circle cx="377.3" cy="360.5" r="3.4"/><circle cx="361.5" cy="367.3" r="3.4"/><circle cx="340.9" cy="372.6" r="3.4"/><circle cx="392.5" cy="350.2" r="3.4"/><circle cx="365.3" cy="374.5" r="3.4"/><circle cx="330.3" cy="363.5" r="3.4"/><circle cx="350.3" cy="362.9" r="3.4"/><circle cx="330.9" cy="363.7" r="3.4"/><circle cx="370.2" cy="357.6" r="3.4"/><circle cx="341.0" cy="359.0" r="3.4"/><circle cx="346.1" cy="348.2" r="3.4"/><circle cx="352.2" cy="360.3" r="3.4"/><circle cx="353.5" cy="363.8" r="3.4"/><circle cx="392.1" cy="373.7" r="3.4"/><circle cx="376.4" cy="345.3" r="3.4"/><circle cx="339.5" cy="370.1" r="3.4"/><circle cx="332.5" cy="359.5" r="3.4"/><circle cx="379.5" cy="349.9" r="3.4"/><circle cx="376.5" cy="369.3" r="3.4"/><circle cx="357.4" cy="376.7" r="3.4"/><circle cx="331.8" cy="364.6" r="3.4"/><circle cx="364.7" cy="378.7" r="3.4"/><circle cx="375.2" cy="355.4" r="3.4"/><circle cx="362.1" cy="377.0" r="3.4"/><circle cx="357.5" cy="353.2" r="3.4"/><circle cx="349.3" cy="380.2" r="3.4"/><circle cx="380.7" cy="346.7" r="3.4"/><circle cx="340.6" cy="355.1" r="3.4"/><circle cx="379.9" cy="358.9" r="3.4"/><circle cx="394.1" cy="368.2" r="3.4"/><circle cx="366.5" cy="345.7" r="3.4"/><circle cx="389.0" cy="361.0" r="3.4"/><circle cx="384.2" cy="375.8" r="3.4"/><circle cx="344.9" cy="351.6" r="3.4"/><circle cx="395.5" cy="371.0" r="3.4"/><circle cx="350.0" cy="342.5" r="3.4"/><circle cx="382.9" cy="368.3" r="3.4"/><circle cx="384.6" cy="371.0" r="3.4"/><circle cx="354.2" cy="351.5" r="3.4"/><circle cx="371.4" cy="372.3" r="3.4"/><circle cx="381.3" cy="379.6" r="3.4"/><circle cx="386.2" cy="367.3" r="3.4"/><circle cx="353.8" cy="370.6" r="3.4"/><circle cx="332.0" cy="365.2" r="3.4"/><circle cx="359.7" cy="348.1" r="3.4"/><circle cx="380.0" cy="368.8" r="3.4"/><circle cx="336.1" cy="344.8" r="3.4"/><circle cx="341.8" cy="367.6" r="3.4"/><circle cx="387.8" cy="358.1" r="3.4"/><circle cx="329.7" cy="358.3" r="3.4"/><circle cx="396.6" cy="370.9" r="3.4"/><circle cx="381.9" cy="375.6" r="3.4"/><circle cx="338.7" cy="366.1" r="3.4"/><circle cx="379.1" cy="364.8" r="3.4"/><circle cx="353.8" cy="347.4" r="3.4"/><circle cx="324.1" cy="370.7" r="3.4"/><circle cx="386.8" cy="362.3" r="3.4"/><circle cx="370.5" cy="364.9" r="3.4"/><circle cx="397.6" cy="360.6" r="3.4"/><circle cx="327.4" cy="371.0" r="3.4"/><circle cx="365.8" cy="354.4" r="3.4"/><circle cx="329.0" cy="364.7" r="3.4"/><circle cx="357.7" cy="372.4" r="3.4"/><circle cx="344.6" cy="383.5" r="3.4"/><circle cx="373.4" cy="357.5" r="3.4"/><circle cx="380.8" cy="357.9" r="3.4"/><circle cx="348.3" cy="358.0" r="3.4"/><circle cx="356.9" cy="361.5" r="3.4"/><circle cx="391.0" cy="353.0" r="3.4"/><circle cx="336.4" cy="361.9" r="3.4"/><circle cx="343.0" cy="352.1" r="3.4"/><circle cx="377.8" cy="372.1" r="3.4"/><circle cx="328.2" cy="356.4" r="3.4"/><circle cx="333.7" cy="350.6" r="3.4"/><circle cx="346.5" cy="346.2" r="3.4"/><circle cx="360.6" cy="378.0" r="3.4"/><circle cx="357.7" cy="351.6" r="3.4"/><circle cx="388.0" cy="358.5" r="3.4"/><circle cx="336.9" cy="364.8" r="3.4"/><circle cx="348.4" cy="362.6" r="3.4"/><circle cx="365.7" cy="350.1" r="3.4"/><circle cx="370.9" cy="378.9" r="3.4"/><circle cx="336.5" cy="378.9" r="3.4"/><circle cx="356.3" cy="383.6" r="3.4"/><circle cx="341.1" cy="371.6" r="3.4"/><circle cx="393.9" cy="364.6" r="3.4"/><circle cx="347.4" cy="350.0" r="3.4"/><circle cx="337.7" cy="377.0" r="3.4"/><circle cx="330.3" cy="375.5" r="3.4"/><circle cx="361.1" cy="358.9" r="3.4"/><circle cx="338.5" cy="354.7" r="3.4"/><circle cx="335.8" cy="348.4" r="3.4"/><circle cx="358.0" cy="355.8" r="3.4"/><circle cx="333.5" cy="351.6" r="3.4"/><circle cx="381.1" cy="375.9" r="3.4"/><circle cx="328.1" cy="376.5" r="3.4"/><circle cx="327.9" cy="350.6" r="3.4"/><circle cx="346.3" cy="347.0" r="3.4"/><circle cx="328.1" cy="369.7" r="3.4"/><circle cx="359.4" cy="371.5" r="3.4"/><circle cx="380.3" cy="372.6" r="3.4"/><circle cx="358.4" cy="375.6" r="3.4"/><circle cx="391.9" cy="364.6" r="3.4"/><circle cx="354.7" cy="358.7" r="3.4"/><circle cx="378.3" cy="372.9" r="3.4"/><circle cx="370.0" cy="370.7" r="3.4"/><circle cx="368.3" cy="367.8" r="3.4"/><circle cx="339.3" cy="348.3" r="3.4"/><circle cx="357.0" cy="346.4" r="3.4"/><circle cx="331.0" cy="367.9" r="3.4"/><circle cx="377.2" cy="343.5" r="3.4"/><circle cx="381.2" cy="357.4" r="3.4"/><circle cx="381.3" cy="374.0" r="3.4"/><circle cx="395.8" cy="356.8" r="3.4"/><circle cx="363.8" cy="378.3" r="3.4"/><circle cx="346.7" cy="345.7" r="3.4"/><circle cx="333.5" cy="372.4" r="3.4"/><circle cx="374.0" cy="367.0" r="3.4"/><circle cx="348.2" cy="348.2" r="3.4"/><circle cx="360.0" cy="373.3" r="3.4"/><circle cx="389.5" cy="368.3" r="3.4"/><circle cx="365.0" cy="346.3" r="3.4"/><circle cx="340.2" cy="371.4" r="3.4"/><circle cx="370.0" cy="383.7" r="3.4"/><circle cx="341.8" cy="371.8" r="3.4"/><circle cx="331.6" cy="359.8" r="3.4"/><circle cx="384.0" cy="346.7" r="3.4"/><circle cx="332.4" cy="365.4" r="3.4"/><circle cx="379.0" cy="354.7" r="3.4"/><circle cx="380.3" cy="357.0" r="3.4"/><circle cx="381.5" cy="375.5" r="3.4"/><circle cx="363.6" cy="382.4" r="3.4"/><circle cx="372.9" cy="341.3" r="3.4"/><circle cx="351.4" cy="364.3" r="3.4"/><circle cx="361.5" cy="371.1" r="3.4"/><circle cx="327.6" cy="371.4" r="3.4"/><circle cx="386.6" cy="365.0" r="3.4"/><circle cx="361.0" cy="346.5" r="3.4"/><circle cx="384.5" cy="357.6" r="3.4"/><circle cx="349.6" cy="381.9" r="3.4"/><circle cx="354.6" cy="379.6" r="3.4"/><circle cx="370.7" cy="366.7" r="3.4"/><circle cx="385.2" cy="363.1" r="3.4"/><circle cx="358.3" cy="369.3" r="3.4"/><circle cx="348.9" cy="342.7" r="3.4"/><circle cx="320.6" cy="360.3" r="3.4"/><circle cx="373.0" cy="355.3" r="3.4"/><circle cx="370.9" cy="349.0" r="3.4"/><circle cx="343.4" cy="365.6" r="3.4"/><circle cx="358.8" cy="370.7" r="3.4"/><circle cx="362.8" cy="379.8" r="3.4"/><circle cx="389.1" cy="369.3" r="3.4"/><circle cx="364.8" cy="350.5" r="3.4"/><circle cx="393.5" cy="372.4" r="3.4"/><circle cx="366.2" cy="377.7" r="3.4"/><circle cx="353.3" cy="382.3" r="3.4"/><circle cx="334.8" cy="369.6" r="3.4"/><circle cx="357.7" cy="345.2" r="3.4"/><circle cx="378.7" cy="366.0" r="3.4"/><circle cx="377.0" cy="350.8" r="3.4"/><circle cx="360.7" cy="383.6" r="3.4"/><circle cx="328.5" cy="366.5" r="3.4"/><circle cx="373.0" cy="368.3" r="3.4"/><circle cx="371.9" cy="348.1" r="3.4"/><circle cx="340.7" cy="360.9" r="3.4"/><circle cx="365.1" cy="360.4" r="3.4"/><circle cx="330.1" cy="356.6" r="3.4"/><circle cx="364.2" cy="342.1" r="3.4"/><circle cx="330.2" cy="371.2" r="3.4"/><circle cx="376.0" cy="344.3" r="3.4"/><circle cx="368.1" cy="369.8" r="3.4"/><circle cx="391.9" cy="355.7" r="3.4"/><circle cx="368.1" cy="340.9" r="3.4"/><circle cx="397.4" cy="366.5" r="3.4"/><circle cx="332.0" cy="370.3" r="3.4"/><circle cx="381.4" cy="379.5" r="3.4"/><circle cx="325.5" cy="361.0" r="3.4"/><circle cx="364.5" cy="340.3" r="3.4"/><circle cx="391.9" cy="370.5" r="3.4"/><circle cx="370.3" cy="359.8" r="3.4"/><circle cx="380.2" cy="369.7" r="3.4"/><circle cx="330.3" cy="352.2" r="3.4"/><circle cx="357.7" cy="380.2" r="3.4"/><circle cx="358.6" cy="378.2" r="3.4"/><circle cx="351.4" cy="377.2" r="3.4"/><circle cx="345.4" cy="362.1" r="3.4"/><circle cx="364.6" cy="369.8" r="3.4"/><circle cx="387.3" cy="356.0" r="3.4"/><circle cx="352.3" cy="351.6" r="3.4"/><circle cx="376.0" cy="373.5" r="3.4"/><circle cx="368.8" cy="369.6" r="3.4"/><circle cx="395.6" cy="365.1" r="3.4"/><circle cx="330.1" cy="365.0" r="3.4"/><circle cx="353.3" cy="379.2" r="3.4"/><circle cx="334.4" cy="371.5" r="3.4"/><circle cx="381.3" cy="381.9" r="3.4"/><circle cx="332.5" cy="374.5" r="3.4"/><circle cx="381.4" cy="381.2" r="3.4"/><circle cx="348.6" cy="380.0" r="3.4"/><circle cx="385.3" cy="352.0" r="3.4"/><circle cx="337.4" cy="357.2" r="3.4"/><circle cx="355.7" cy="376.1" r="3.4"/><circle cx="325.7" cy="369.6" r="3.4"/><circle cx="360.0" cy="380.9" r="3.4"/><circle cx="374.3" cy="357.2" r="3.4"/><circle cx="345.5" cy="373.8" r="3.4"/><circle cx="334.8" cy="356.1" r="3.4"/><circle cx="392.2" cy="353.3" r="3.4"/><circle cx="331.7" cy="361.1" r="3.4"/><circle cx="373.2" cy="358.2" r="3.4"/><circle cx="358.3" cy="345.8" r="3.4"/><circle cx="354.1" cy="374.8" r="3.4"/><circle cx="348.5" cy="353.7" r="3.4"/><circle cx="374.2" cy="375.5" r="3.4"/><circle cx="334.4" cy="372.4" r="3.4"/><circle cx="352.6" cy="367.5" r="3.4"/><circle cx="331.8" cy="360.7" r="3.4"/><circle cx="346.8" cy="345.0" r="3.4"/><circle cx="340.1" cy="371.1" r="3.4"/><circle cx="360.7" cy="360.2" r="3.4"/><circle cx="338.1" cy="361.6" r="3.4"/><circle cx="371.9" cy="350.1" r="3.4"/><circle cx="328.8" cy="369.5" r="3.4"/><circle cx="392.6" cy="350.2" r="3.4"/><circle cx="343.2" cy="355.0" r="3.4"/><circle cx="332.2" cy="370.2" r="3.4"/><circle cx="366.9" cy="381.9" r="3.4"/><circle cx="360.5" cy="375.4" r="3.4"/><circle cx="361.0" cy="384.3" r="3.4"/><circle cx="330.7" cy="356.1" r="3.4"/><circle cx="338.6" cy="361.7" r="3.4"/><circle cx="367.3" cy="371.6" r="3.4"/><circle cx="358.2" cy="344.1" r="3.4"/><circle cx="351.9" cy="357.3" r="3.4"/><circle cx="346.5" cy="373.9" r="3.4"/><circle cx="361.9" cy="351.1" r="3.4"/><circle cx="332.6" cy="369.3" r="3.4"/><circle cx="368.7" cy="352.2" r="3.4"/><circle cx="390.5" cy="356.1" r="3.4"/><circle cx="369.5" cy="373.8" r="3.4"/><circle cx="390.1" cy="357.4" r="3.4"/><circle cx="360.8" cy="364.9" r="3.4"/><circle cx="349.1" cy="360.7" r="3.4"/><circle cx="383.4" cy="357.0" r="3.4"/><circle cx="362.6" cy="376.4" r="3.4"/><circle cx="364.8" cy="348.2" r="3.4"/><circle cx="357.5" cy="353.0" r="3.4"/><circle cx="351.2" cy="353.5" r="3.4"/><circle cx="376.6" cy="380.4" r="3.4"/><circle cx="388.8" cy="347.6" r="3.4"/><circle cx="367.3" cy="377.3" r="3.4"/><circle cx="379.9" cy="370.3" r="3.4"/><circle cx="355.1" cy="345.6" r="3.4"/><circle cx="351.7" cy="360.8" r="3.4"/><circle cx="354.7" cy="373.0" r="3.4"/><circle cx="335.9" cy="362.3" r="3.4"/><circle cx="358.8" cy="340.5" r="3.4"/><circle cx="355.3" cy="367.0" r="3.4"/><circle cx="354.8" cy="368.4" r="3.4"/><circle cx="329.3" cy="373.6" r="3.4"/><circle cx="354.5" cy="358.7" r="3.4"/><circle cx="382.5" cy="368.6" r="3.4"/><circle cx="343.8" cy="364.2" r="3.4"/><circle cx="358.0" cy="375.0" r="3.4"/><circle cx="337.5" cy="380.8" r="3.4"/><circle cx="353.5" cy="370.4" r="3.4"/><circle cx="378.4" cy="371.9" r="3.4"/><circle cx="335.5" cy="352.9" r="3.4"/><circle cx="341.5" cy="367.1" r="3.4"/><circle cx="324.3" cy="370.7" r="3.4"/><circle cx="335.0" cy="369.6" r="3.4"/><circle cx="367.8" cy="344.0" r="3.4"/><circle cx="336.7" cy="371.4" r="3.4"/><circle cx="388.6" cy="348.2" r="3.4"/><circle cx="380.0" cy="348.4" r="3.4"/><circle cx="358.2" cy="376.2" r="3.4"/><circle cx="397.5" cy="355.3" r="3.4"/><circle cx="374.7" cy="356.8" r="3.4"/><circle cx="357.9" cy="378.5" r="3.4"/><circle cx="349.8" cy="370.9" r="3.4"/><circle cx="385.2" cy="368.4" r="3.4"/><circle cx="335.4" cy="375.3" r="3.4"/><circle cx="388.7" cy="355.5" r="3.4"/><circle cx="370.9" cy="364.1" r="3.4"/><circle cx="354.5" cy="346.2" r="3.4"/><circle cx="391.9" cy="360.4" r="3.4"/><circle cx="359.2" cy="351.0" r="3.4"/><circle cx="352.7" cy="362.8" r="3.4"/><circle cx="352.4" cy="370.1" r="3.4"/><circle cx="389.8" cy="355.0" r="3.4"/><circle cx="369.1" cy="353.1" r="3.4"/><circle cx="384.0" cy="358.7" r="3.4"/><circle cx="351.6" cy="368.1" r="3.4"/><circle cx="360.1" cy="352.2" r="3.4"/><circle cx="367.1" cy="375.1" r="3.4"/><circle cx="357.5" cy="352.7" r="3.4"/><circle cx="395.8" cy="364.1" r="3.4"/><circle cx="333.6" cy="346.6" r="3.4"/><circle cx="353.1" cy="382.9" r="3.4"/><circle cx="322.7" cy="356.2" r="3.4"/><circle cx="367.2" cy="377.2" r="3.4"/><circle cx="351.7" cy="369.4" r="3.4"/><circle cx="375.1" cy="349.0" r="3.4"/><circle cx="391.2" cy="356.7" r="3.4"/><circle cx="380.7" cy="346.0" r="3.4"/><circle cx="343.8" cy="375.6" r="3.4"/><circle cx="328.7" cy="369.5" r="3.4"/><circle cx="393.6" cy="368.5" r="3.4"/><circle cx="341.9" cy="380.8" r="3.4"/><circle cx="365.9" cy="362.5" r="3.4"/><circle cx="340.3" cy="375.0" r="3.4"/><circle cx="377.1" cy="370.2" r="3.4"/><circle cx="374.4" cy="337.4" r="3.4"/><circle cx="363.4" cy="339.9" r="3.4"/><circle cx="385.7" cy="381.9" r="3.4"/><circle cx="342.5" cy="370.4" r="3.4"/><circle cx="346.6" cy="377.8" r="3.4"/><circle cx="363.9" cy="400.5" r="3.4"/><circle cx="373.4" cy="375.7" r="3.4"/><circle cx="341.8" cy="392.3" r="3.4"/><circle cx="374.1" cy="360.3" r="3.4"/><circle cx="375.5" cy="351.6" r="3.4"/><circle cx="358.0" cy="366.7" r="3.4"/><circle cx="351.2" cy="365.4" r="3.4"/><circle cx="340.8" cy="368.9" r="3.4"/><circle cx="397.4" cy="377.6" r="3.4"/><circle cx="332.2" cy="378.6" r="3.4"/><circle cx="407.3" cy="386.5" r="3.4"/><circle cx="345.4" cy="356.1" r="3.4"/><circle cx="308.8" cy="351.5" r="3.4"/><circle cx="376.7" cy="371.6" r="3.4"/><circle cx="360.5" cy="378.1" r="3.4"/><circle cx="341.2" cy="369.0" r="3.4"/><circle cx="351.2" cy="368.4" r="3.4"/><circle cx="348.3" cy="397.3" r="3.4"/><circle cx="376.9" cy="372.4" r="3.4"/><circle cx="318.5" cy="344.5" r="3.4"/><circle cx="323.2" cy="354.2" r="3.4"/><circle cx="393.9" cy="393.1" r="3.4"/><circle cx="372.4" cy="378.6" r="3.4"/><circle cx="349.2" cy="337.9" r="3.4"/><circle cx="403.1" cy="347.1" r="3.4"/><circle cx="339.4" cy="369.9" r="3.4"/><circle cx="421.6" cy="356.8" r="3.4"/><circle cx="332.7" cy="371.7" r="3.4"/><circle cx="364.9" cy="343.6" r="3.4"/><circle cx="363.1" cy="362.4" r="3.4"/><circle cx="402.8" cy="368.3" r="3.4"/><circle cx="375.7" cy="374.2" r="3.4"/><circle cx="371.9" cy="364.7" r="3.4"/><circle cx="376.6" cy="362.1" r="3.4"/><circle cx="386.8" cy="361.5" r="3.4"/><circle cx="389.4" cy="372.7" r="3.4"/><circle cx="337.1" cy="375.2" r="3.4"/><circle cx="340.0" cy="350.6" r="3.4"/><circle cx="363.9" cy="349.2" r="3.4"/><circle cx="305.9" cy="364.9" r="3.4"/><circle cx="302.5" cy="343.3" r="3.4"/><circle cx="365.5" cy="358.2" r="3.4"/><circle cx="368.7" cy="405.4" r="3.4"/><circle cx="344.1" cy="371.6" r="3.4"/><circle cx="330.7" cy="354.2" r="3.4"/><circle cx="327.2" cy="353.4" r="3.4"/><circle cx="361.6" cy="350.3" r="3.4"/><circle cx="410.1" cy="343.5" r="3.4"/><circle cx="343.9" cy="357.5" r="3.4"/><circle cx="368.4" cy="375.6" r="3.4"/><circle cx="352.4" cy="379.4" r="3.4"/><circle cx="346.9" cy="376.8" r="3.4"/><circle cx="380.2" cy="326.9" r="3.4"/><circle cx="305.8" cy="366.9" r="3.4"/><circle cx="337.6" cy="348.5" r="3.4"/><circle cx="365.5" cy="364.9" r="3.4"/><circle cx="358.5" cy="360.6" r="3.4"/><circle cx="304.8" cy="355.9" r="3.4"/><circle cx="410.1" cy="339.7" r="3.4"/><circle cx="431.7" cy="360.2" r="3.4"/><circle cx="335.9" cy="361.5" r="3.4"/><circle cx="385.1" cy="370.6" r="3.4"/><circle cx="370.4" cy="362.9" r="3.4"/><circle cx="358.6" cy="345.6" r="3.4"/><circle cx="313.1" cy="388.9" r="3.4"/><circle cx="377.9" cy="391.3" r="3.4"/><circle cx="366.7" cy="356.5" r="3.4"/><circle cx="326.1" cy="338.3" r="3.4"/><circle cx="386.7" cy="403.7" r="3.4"/><circle cx="335.9" cy="391.4" r="3.4"/><circle cx="390.8" cy="375.8" r="3.4"/><circle cx="360.0" cy="333.8" r="3.4"/><circle cx="342.0" cy="393.1" r="3.4"/><circle cx="421.4" cy="382.0" r="3.4"/><circle cx="401.0" cy="350.8" r="3.4"/><circle cx="378.3" cy="319.0" r="3.4"/><circle cx="327.2" cy="388.3" r="3.4"/><circle cx="343.7" cy="351.1" r="3.4"/><circle cx="373.8" cy="364.7" r="3.4"/><circle cx="339.1" cy="374.7" r="3.4"/><circle cx="335.3" cy="382.8" r="3.4"/><circle cx="369.9" cy="358.6" r="3.4"/><circle cx="365.3" cy="374.5" r="3.4"/><circle cx="314.9" cy="368.3" r="3.4"/><circle cx="382.3" cy="359.9" r="3.4"/><circle cx="357.1" cy="372.8" r="3.4"/><circle cx="421.4" cy="358.9" r="3.4"/><circle cx="354.7" cy="358.9" r="3.4"/><circle cx="351.9" cy="359.9" r="3.4"/><circle cx="333.1" cy="334.7" r="3.4"/><circle cx="375.9" cy="350.8" r="3.4"/><circle cx="345.2" cy="342.2" r="3.4"/><circle cx="359.5" cy="374.8" r="3.4"/><circle cx="389.8" cy="334.6" r="3.4"/><circle cx="400.3" cy="396.9" r="3.4"/><circle cx="364.2" cy="365.1" r="3.4"/><circle cx="347.5" cy="361.6" r="3.4"/><circle cx="351.7" cy="339.1" r="3.4"/><circle cx="323.3" cy="353.0" r="3.4"/><circle cx="399.2" cy="391.6" r="3.4"/><circle cx="376.1" cy="363.1" r="3.4"/><circle cx="314.8" cy="333.2" r="3.4"/><circle cx="318.1" cy="377.5" r="3.4"/><circle cx="335.4" cy="391.7" r="3.4"/><circle cx="406.4" cy="353.5" r="3.4"/><circle cx="311.6" cy="361.0" r="3.4"/><circle cx="352.9" cy="389.9" r="3.4"/><circle cx="360.7" cy="318.3" r="3.4"/><circle cx="321.8" cy="384.2" r="3.4"/><circle cx="346.1" cy="350.2" r="3.4"/><circle cx="404.0" cy="369.5" r="3.4"/><circle cx="392.7" cy="384.4" r="3.4"/><circle cx="310.1" cy="376.9" r="3.4"/><circle cx="368.7" cy="371.8" r="3.4"/><circle cx="355.6" cy="385.6" r="3.4"/><circle cx="390.9" cy="350.4" r="3.4"/><circle cx="317.1" cy="365.6" r="3.4"/><circle cx="358.3" cy="348.6" r="3.4"/><circle cx="377.7" cy="368.4" r="3.4"/><circle cx="320.6" cy="353.4" r="3.4"/><circle cx="354.2" cy="345.2" r="3.4"/><circle cx="353.8" cy="345.3" r="3.4"/><circle cx="368.9" cy="379.3" r="3.4"/><circle cx="336.5" cy="330.2" r="3.4"/><circle cx="438.5" cy="337.6" r="3.4"/><circle cx="376.5" cy="328.0" r="3.4"/><circle cx="322.0" cy="339.1" r="3.4"/><circle cx="330.5" cy="327.6" r="3.4"/><circle cx="320.9" cy="337.0" r="3.4"/><circle cx="358.9" cy="339.2" r="3.4"/><circle cx="357.6" cy="388.5" r="3.4"/><circle cx="378.9" cy="361.9" r="3.4"/><circle cx="365.7" cy="345.8" r="3.4"/><circle cx="334.3" cy="325.8" r="3.4"/><circle cx="341.5" cy="346.7" r="3.4"/><circle cx="374.5" cy="385.0" r="3.4"/><circle cx="379.5" cy="352.9" r="3.4"/><circle cx="315.0" cy="375.6" r="3.4"/><circle cx="339.9" cy="366.3" r="3.4"/><circle cx="382.0" cy="361.1" r="3.4"/><circle cx="335.9" cy="355.2" r="3.4"/><circle cx="359.6" cy="357.3" r="3.4"/><circle cx="328.7" cy="353.4" r="3.4"/><circle cx="391.9" cy="347.4" r="3.4"/><circle cx="346.0" cy="360.9" r="3.4"/><circle cx="341.4" cy="378.6" r="3.4"/><circle cx="370.7" cy="370.2" r="3.4"/><circle cx="351.7" cy="332.4" r="3.4"/><circle cx="365.4" cy="370.9" r="3.4"/><circle cx="395.9" cy="367.3" r="3.4"/><circle cx="356.7" cy="350.2" r="3.4"/><circle cx="359.9" cy="375.9" r="3.4"/><circle cx="405.3" cy="371.6" r="3.4"/><circle cx="352.8" cy="394.1" r="3.4"/><circle cx="351.2" cy="321.8" r="3.4"/><circle cx="386.6" cy="373.9" r="3.4"/><circle cx="318.7" cy="340.8" r="3.4"/><circle cx="395.5" cy="362.9" r="3.4"/><circle cx="352.8" cy="369.9" r="3.4"/><circle cx="336.7" cy="387.2" r="3.4"/><circle cx="343.3" cy="364.3" r="3.4"/><circle cx="334.4" cy="346.1" r="3.4"/><circle cx="379.8" cy="375.2" r="3.4"/><circle cx="338.3" cy="369.9" r="3.4"/><circle cx="291.1" cy="381.6" r="3.4"/><circle cx="335.8" cy="312.1" r="3.4"/><circle cx="377.9" cy="361.7" r="3.4"/><circle cx="348.7" cy="306.7" r="3.4"/><circle cx="335.7" cy="365.4" r="3.4"/><circle cx="321.9" cy="360.0" r="3.4"/><circle cx="392.2" cy="345.6" r="3.4"/><circle cx="337.6" cy="368.2" r="3.4"/><circle cx="374.6" cy="364.3" r="3.4"/><circle cx="291.9" cy="380.1" r="3.4"/><circle cx="346.4" cy="386.5" r="3.4"/><circle cx="327.4" cy="362.8" r="3.4"/><circle cx="346.7" cy="357.2" r="3.4"/><circle cx="360.2" cy="347.0" r="3.4"/><circle cx="341.8" cy="383.4" r="3.4"/><circle cx="367.7" cy="359.6" r="3.4"/><circle cx="391.2" cy="357.0" r="3.4"/><circle cx="358.7" cy="372.4" r="3.4"/><circle cx="318.6" cy="350.3" r="3.4"/><circle cx="386.6" cy="356.9" r="3.4"/><circle cx="333.4" cy="361.2" r="3.4"/><circle cx="355.0" cy="378.6" r="3.4"/><circle cx="389.6" cy="342.1" r="3.4"/><circle cx="359.3" cy="339.8" r="3.4"/><circle cx="350.7" cy="349.9" r="3.4"/><circle cx="348.8" cy="348.4" r="3.4"/><circle cx="316.7" cy="346.7" r="3.4"/><circle cx="342.2" cy="374.4" r="3.4"/><circle cx="316.4" cy="351.9" r="3.4"/><circle cx="369.3" cy="393.7" r="3.4"/><circle cx="340.8" cy="378.5" r="3.4"/><circle cx="355.3" cy="361.6" r="3.4"/><circle cx="388.9" cy="358.9" r="3.4"/><circle cx="381.5" cy="373.5" r="3.4"/><circle cx="365.3" cy="404.5" r="3.4"/><circle cx="382.2" cy="369.1" r="3.4"/><circle cx="378.4" cy="344.0" r="3.4"/><circle cx="355.6" cy="362.0" r="3.4"/><circle cx="376.0" cy="422.3" r="3.4"/><circle cx="399.9" cy="344.6" r="3.4"/><circle cx="347.5" cy="356.0" r="3.4"/><circle cx="364.0" cy="362.3" r="3.4"/><circle cx="305.4" cy="351.4" r="3.4"/><circle cx="329.1" cy="385.7" r="3.4"/><circle cx="359.4" cy="349.6" r="3.4"/><circle cx="342.5" cy="359.6" r="3.4"/><circle cx="363.3" cy="370.7" r="3.4"/><circle cx="346.8" cy="371.8" r="3.4"/><circle cx="350.1" cy="357.1" r="3.4"/><circle cx="354.2" cy="364.1" r="3.4"/><circle cx="336.2" cy="360.0" r="3.4"/><circle cx="377.3" cy="299.6" r="3.4"/><circle cx="333.0" cy="374.8" r="3.4"/><circle cx="357.4" cy="365.3" r="3.4"/><circle cx="396.0" cy="358.7" r="3.4"/><circle cx="359.9" cy="377.9" r="3.4"/><circle cx="336.4" cy="329.0" r="3.4"/><circle cx="339.5" cy="384.3" r="3.4"/><circle cx="373.9" cy="350.9" r="3.4"/><circle cx="377.2" cy="344.1" r="3.4"/><circle cx="333.8" cy="342.8" r="3.4"/><circle cx="336.0" cy="368.3" r="3.4"/><circle cx="419.3" cy="349.9" r="3.4"/><circle cx="329.2" cy="374.7" r="3.4"/><circle cx="404.0" cy="335.8" r="3.4"/><circle cx="362.0" cy="383.4" r="3.4"/><circle cx="335.7" cy="357.7" r="3.4"/><circle cx="348.2" cy="394.6" r="3.4"/><circle cx="344.6" cy="369.1" r="3.4"/><circle cx="344.6" cy="353.8" r="3.4"/><circle cx="367.9" cy="356.9" r="3.4"/><circle cx="301.9" cy="327.2" r="3.4"/><circle cx="389.6" cy="357.1" r="3.4"/><circle cx="370.4" cy="338.7" r="3.4"/><circle cx="330.4" cy="349.5" r="3.4"/><circle cx="306.1" cy="400.2" r="3.4"/><circle cx="409.5" cy="342.3" r="3.4"/><circle cx="305.1" cy="371.8" r="3.4"/><circle cx="365.6" cy="371.1" r="3.4"/><circle cx="373.5" cy="356.1" r="3.4"/><circle cx="317.5" cy="359.5" r="3.4"/><circle cx="393.9" cy="349.4" r="3.4"/><circle cx="306.5" cy="394.5" r="3.4"/><circle cx="299.2" cy="371.8" r="3.4"/><circle cx="315.6" cy="380.4" r="3.4"/><circle cx="329.0" cy="329.3" r="3.4"/><circle cx="399.9" cy="358.6" r="3.4"/><circle cx="316.6" cy="341.4" r="3.4"/><circle cx="415.9" cy="381.5" r="3.4"/><circle cx="361.4" cy="356.2" r="3.4"/><circle cx="387.7" cy="347.3" r="3.4"/><circle cx="372.1" cy="363.1" r="3.4"/><circle cx="331.5" cy="364.4" r="3.4"/><circle cx="346.0" cy="359.8" r="3.4"/><circle cx="370.2" cy="390.5" r="3.4"/><circle cx="369.0" cy="379.4" r="3.4"/><circle cx="419.3" cy="365.3" r="3.4"/><circle cx="326.4" cy="372.6" r="3.4"/><circle cx="312.5" cy="355.1" r="3.4"/><circle cx="316.2" cy="335.9" r="3.4"/><circle cx="313.1" cy="361.1" r="3.4"/><circle cx="349.6" cy="318.3" r="3.4"/><circle cx="365.9" cy="378.4" r="3.4"/><circle cx="417.8" cy="353.6" r="3.4"/><circle cx="358.9" cy="326.7" r="3.4"/><circle cx="335.6" cy="363.7" r="3.4"/><circle cx="359.9" cy="410.1" r="3.4"/><circle cx="419.5" cy="349.1" r="3.4"/><circle cx="339.1" cy="359.0" r="3.4"/><circle cx="327.4" cy="370.3" r="3.4"/><circle cx="371.0" cy="339.9" r="3.4"/><circle cx="378.7" cy="389.5" r="3.4"/><circle cx="379.0" cy="354.7" r="3.4"/><circle cx="375.6" cy="367.8" r="3.4"/><circle cx="387.8" cy="377.3" r="3.4"/><circle cx="414.4" cy="359.5" r="3.4"/><circle cx="415.1" cy="374.9" r="3.4"/><circle cx="388.9" cy="333.2" r="3.4"/><circle cx="368.2" cy="336.2" r="3.4"/><circle cx="329.8" cy="365.4" r="3.4"/><circle cx="335.8" cy="349.3" r="3.4"/><circle cx="311.9" cy="350.4" r="3.4"/><circle cx="337.5" cy="361.9" r="3.4"/><circle cx="360.8" cy="373.2" r="3.4"/><circle cx="382.6" cy="385.9" r="3.4"/><circle cx="317.4" cy="397.1" r="3.4"/><circle cx="399.5" cy="388.3" r="3.4"/><circle cx="349.6" cy="379.7" r="3.4"/><circle cx="295.9" cy="347.1" r="3.4"/><circle cx="366.3" cy="346.3" r="3.4"/><circle cx="325.8" cy="340.0" r="3.4"/><circle cx="327.5" cy="355.0" r="3.4"/><circle cx="353.4" cy="367.2" r="3.4"/><circle cx="319.9" cy="399.6" r="3.4"/><circle cx="357.2" cy="349.8" r="3.4"/><circle cx="361.0" cy="374.8" r="3.4"/><circle cx="391.3" cy="353.2" r="3.4"/><circle cx="325.3" cy="362.0" r="3.4"/><circle cx="316.5" cy="330.6" r="3.4"/><circle cx="437.8" cy="407.5" r="3.4"/><circle cx="335.6" cy="367.6" r="3.4"/><circle cx="398.2" cy="362.9" r="3.4"/><circle cx="351.1" cy="364.4" r="3.4"/><circle cx="343.7" cy="337.2" r="3.4"/><circle cx="424.4" cy="379.2" r="3.4"/><circle cx="383.2" cy="370.4" r="3.4"/><circle cx="341.8" cy="380.3" r="3.4"/><circle cx="348.0" cy="393.3" r="3.4"/><circle cx="379.4" cy="378.4" r="3.4"/><circle cx="351.0" cy="355.1" r="3.4"/><circle cx="373.3" cy="358.6" r="3.4"/><circle cx="345.6" cy="337.7" r="3.4"/><circle cx="351.4" cy="407.4" r="3.4"/><circle cx="364.7" cy="338.6" r="3.4"/><circle cx="350.5" cy="386.7" r="3.4"/><circle cx="312.6" cy="347.8" r="3.4"/><circle cx="359.6" cy="369.1" r="3.4"/><circle cx="324.6" cy="364.0" r="3.4"/><circle cx="343.5" cy="346.3" r="3.4"/><circle cx="341.5" cy="381.3" r="3.4"/><circle cx="322.1" cy="378.0" r="3.4"/><circle cx="417.0" cy="366.8" r="3.4"/><circle cx="307.6" cy="380.5" r="3.4"/><circle cx="394.1" cy="396.8" r="3.4"/><circle cx="315.9" cy="343.5" r="3.4"/><circle cx="340.1" cy="355.2" r="3.4"/><circle cx="384.1" cy="339.4" r="3.4"/><circle cx="356.5" cy="350.2" r="3.4"/><circle cx="362.4" cy="358.7" r="3.4"/><circle cx="416.9" cy="359.0" r="3.4"/><circle cx="377.0" cy="365.4" r="3.4"/><circle cx="396.0" cy="394.1" r="3.4"/><circle cx="362.5" cy="380.1" r="3.4"/><circle cx="358.4" cy="356.8" r="3.4"/><circle cx="357.3" cy="374.0" r="3.4"/><circle cx="408.5" cy="353.4" r="3.4"/><circle cx="368.9" cy="355.9" r="3.4"/><circle cx="372.4" cy="361.1" r="3.4"/><circle cx="302.0" cy="338.0" r="3.4"/><circle cx="363.4" cy="354.1" r="3.4"/><circle cx="348.3" cy="400.0" r="3.4"/><circle cx="325.1" cy="316.6" r="3.4"/><circle cx="362.3" cy="361.2" r="3.4"/><circle cx="319.5" cy="351.1" r="3.4"/><circle cx="402.9" cy="352.8" r="3.4"/><circle cx="314.5" cy="385.8" r="3.4"/><circle cx="317.4" cy="348.5" r="3.4"/><circle cx="341.4" cy="334.0" r="3.4"/><circle cx="355.0" cy="358.4" r="3.4"/><circle cx="376.3" cy="359.6" r="3.4"/><circle cx="365.3" cy="373.9" r="3.4"/><circle cx="357.8" cy="387.7" r="3.4"/><circle cx="341.2" cy="377.6" r="3.4"/><circle cx="352.7" cy="349.9" r="3.4"/><circle cx="385.7" cy="346.0" r="3.4"/><circle cx="322.2" cy="367.0" r="3.4"/><circle cx="368.0" cy="371.8" r="3.4"/><circle cx="342.7" cy="377.0" r="3.4"/><circle cx="329.8" cy="371.3" r="3.4"/><circle cx="354.7" cy="351.6" r="3.4"/><circle cx="348.4" cy="348.9" r="3.4"/><circle cx="359.6" cy="383.9" r="3.4"/><circle cx="353.2" cy="378.0" r="3.4"/><circle cx="384.2" cy="327.5" r="3.4"/><circle cx="381.4" cy="371.2" r="3.4"/><circle cx="321.4" cy="369.7" r="3.4"/><circle cx="404.1" cy="346.9" r="3.4"/><circle cx="399.7" cy="338.8" r="3.4"/><circle cx="383.3" cy="377.3" r="3.4"/><circle cx="361.9" cy="369.9" r="3.4"/><circle cx="417.8" cy="336.8" r="3.4"/><circle cx="344.2" cy="360.6" r="3.4"/><circle cx="364.0" cy="383.7" r="3.4"/><circle cx="325.8" cy="353.9" r="3.4"/><circle cx="362.4" cy="392.6" r="3.4"/><circle cx="394.1" cy="336.7" r="3.4"/><circle cx="342.9" cy="385.8" r="3.4"/><circle cx="382.2" cy="357.7" r="3.4"/><circle cx="326.1" cy="344.3" r="3.4"/><circle cx="373.1" cy="356.1" r="3.4"/><circle cx="409.5" cy="377.7" r="3.4"/><circle cx="348.8" cy="338.1" r="3.4"/><circle cx="353.7" cy="382.4" r="3.4"/><circle cx="392.0" cy="374.5" r="3.4"/><circle cx="389.4" cy="318.5" r="3.4"/><circle cx="355.0" cy="367.1" r="3.4"/><circle cx="364.3" cy="384.0" r="3.4"/><circle cx="357.9" cy="348.4" r="3.4"/><circle cx="387.2" cy="313.0" r="3.4"/><circle cx="377.7" cy="376.8" r="3.4"/><circle cx="366.0" cy="381.1" r="3.4"/><circle cx="333.6" cy="390.0" r="3.4"/><circle cx="309.0" cy="343.9" r="3.4"/><circle cx="296.4" cy="342.0" r="3.4"/><circle cx="370.2" cy="351.2" r="3.4"/><circle cx="454.4" cy="385.1" r="3.4"/><circle cx="376.6" cy="343.8" r="3.4"/><circle cx="386.1" cy="362.9" r="3.4"/><circle cx="354.9" cy="330.8" r="3.4"/><circle cx="369.8" cy="389.1" r="3.4"/><circle cx="323.6" cy="361.4" r="3.4"/><circle cx="360.1" cy="363.9" r="3.4"/><circle cx="319.0" cy="424.6" r="3.4"/><circle cx="376.1" cy="381.0" r="3.4"/><circle cx="317.2" cy="372.6" r="3.4"/><circle cx="303.9" cy="364.1" r="3.4"/><circle cx="399.2" cy="376.8" r="3.4"/><circle cx="387.3" cy="381.2" r="3.4"/><circle cx="334.8" cy="388.1" r="3.4"/><circle cx="352.5" cy="393.7" r="3.4"/><circle cx="405.9" cy="368.6" r="3.4"/><circle cx="390.3" cy="387.4" r="3.4"/><circle cx="324.2" cy="388.0" r="3.4"/><circle cx="369.5" cy="334.9" r="3.4"/><circle cx="373.0" cy="340.0" r="3.4"/><circle cx="312.5" cy="351.6" r="3.4"/><circle cx="327.6" cy="382.1" r="3.4"/><circle cx="337.9" cy="388.3" r="3.4"/><circle cx="314.3" cy="363.7" r="3.4"/><circle cx="358.3" cy="392.9" r="3.4"/><circle cx="394.8" cy="385.2" r="3.4"/><circle cx="399.2" cy="380.3" r="3.4"/><circle cx="365.1" cy="394.2" r="3.4"/><circle cx="401.9" cy="366.0" r="3.4"/><circle cx="380.5" cy="332.5" r="3.4"/><circle cx="326.8" cy="382.9" r="3.4"/><circle cx="317.9" cy="339.6" r="3.4"/><circle cx="321.5" cy="376.0" r="3.4"/><circle cx="335.2" cy="336.4" r="3.4"/><circle cx="381.4" cy="338.4" r="3.4"/><circle cx="399.5" cy="347.1" r="3.4"/><circle cx="402.5" cy="371.3" r="3.4"/><circle cx="318.2" cy="375.6" r="3.4"/><circle cx="399.8" cy="370.2" r="3.4"/><circle cx="312.8" cy="380.5" r="3.4"/><circle cx="350.5" cy="335.9" r="3.4"/><circle cx="396.5" cy="340.1" r="3.4"/><circle cx="340.4" cy="337.3" r="3.4"/><circle cx="348.5" cy="387.5" r="3.4"/><circle cx="378.0" cy="340.3" r="3.4"/><circle cx="339.8" cy="388.6" r="3.4"/><circle cx="338.3" cy="336.8" r="3.4"/><circle cx="310.9" cy="369.4" r="3.4"/><circle cx="316.3" cy="377.7" r="3.4"/><circle cx="312.8" cy="355.7" r="3.4"/><circle cx="351.8" cy="396.4" r="3.4"/><circle cx="309.2" cy="373.8" r="3.4"/><circle cx="394.2" cy="385.1" r="3.4"/><circle cx="346.9" cy="330.0" r="3.4"/><circle cx="399.3" cy="379.6" r="3.4"/><circle cx="364.7" cy="330.0" r="3.4"/><circle cx="403.9" cy="361.4" r="3.4"/><circle cx="320.1" cy="381.2" r="3.4"/><circle cx="324.7" cy="346.1" r="3.4"/><circle cx="379.2" cy="340.5" r="3.4"/><circle cx="398.8" cy="355.9" r="3.4"/><circle cx="407.1" cy="360.1" r="3.4"/><circle cx="385.3" cy="385.9" r="3.4"/><circle cx="399.1" cy="349.2" r="3.4"/><circle cx="398.6" cy="382.9" r="3.4"/><circle cx="403.1" cy="380.5" r="3.4"/><circle cx="400.7" cy="364.3" r="3.4"/><circle cx="370.6" cy="332.9" r="3.4"/><circle cx="407.0" cy="350.9" r="3.4"/><circle cx="405.9" cy="359.6" r="3.4"/><circle cx="319.4" cy="377.5" r="3.4"/><circle cx="329.2" cy="341.6" r="3.4"/><circle cx="390.2" cy="344.4" r="3.4"/><circle cx="337.1" cy="335.4" r="3.4"/><circle cx="367.5" cy="393.6" r="3.4"/><circle cx="405.6" cy="345.8" r="3.4"/><circle cx="307.7" cy="366.7" r="3.4"/><circle cx="317.8" cy="349.4" r="3.4"/><circle cx="344.0" cy="391.3" r="3.4"/><circle cx="393.6" cy="387.5" r="3.4"/><circle cx="322.6" cy="375.8" r="3.4"/><circle cx="390.0" cy="378.7" r="3.4"/><circle cx="395.1" cy="377.3" r="3.4"/><circle cx="394.1" cy="375.6" r="3.4"/><circle cx="312.2" cy="347.8" r="3.4"/><circle cx="352.3" cy="388.2" r="3.4"/><circle cx="373.6" cy="339.5" r="3.4"/><circle cx="346.4" cy="330.7" r="3.4"/><circle cx="372.0" cy="334.0" r="3.4"/><circle cx="306.1" cy="362.3" r="3.4"/><circle cx="359.3" cy="330.7" r="3.4"/><circle cx="381.0" cy="335.2" r="3.4"/><circle cx="354.4" cy="392.2" r="3.4"/><circle cx="400.6" cy="370.3" r="3.4"/><circle cx="348.1" cy="330.6" r="3.4"/><circle cx="353.6" cy="394.5" r="3.4"/><circle cx="408.4" cy="354.7" r="3.4"/><circle cx="398.9" cy="344.3" r="3.4"/><circle cx="341.2" cy="336.4" r="3.4"/><circle cx="385.2" cy="390.3" r="3.4"/><circle cx="362.0" cy="294.4" r="3.4"/><circle cx="351.4" cy="296.9" r="3.4"/><circle cx="346.4" cy="301.3" r="3.4"/><circle cx="350.4" cy="302.2" r="3.4"/><circle cx="380.8" cy="296.0" r="3.4"/><circle cx="393.3" cy="295.0" r="3.4"/><circle cx="383.3" cy="303.8" r="3.4"/><circle cx="359.8" cy="306.3" r="3.4"/><circle cx="362.9" cy="306.3" r="3.4"/><circle cx="344.2" cy="308.5" r="3.4"/><circle cx="351.4" cy="306.9" r="3.4"/><circle cx="309.7" cy="306.9" r="3.4"/><circle cx="304.4" cy="310.7" r="3.4"/><circle cx="297.2" cy="317.9" r="3.4"/><circle cx="323.2" cy="316.9" r="3.4"/><circle cx="377.7" cy="313.2" r="3.4"/><circle cx="390.2" cy="314.7" r="3.4"/><circle cx="378.6" cy="320.0" r="3.4"/><circle cx="388.0" cy="320.0" r="3.4"/><circle cx="427.1" cy="319.4" r="3.4"/><circle cx="432.4" cy="316.9" r="3.4"/><circle cx="459.3" cy="335.7" r="3.4"/><circle cx="426.5" cy="334.5" r="3.4"/><circle cx="426.5" cy="338.8" r="3.4"/><circle cx="433.4" cy="350.1" r="3.4"/><circle cx="436.5" cy="347.6" r="3.4"/><circle cx="445.9" cy="378.9" r="3.4"/><circle cx="432.4" cy="367.9" r="3.4"/><circle cx="423.3" cy="388.3" r="3.4"/><circle cx="404.6" cy="405.5" r="3.4"/><circle cx="394.2" cy="418.0" r="3.4"/><circle cx="376.1" cy="425.2" r="3.4"/><circle cx="368.3" cy="412.7" r="3.4"/><circle cx="370.8" cy="410.2" r="3.4"/><circle cx="373.9" cy="407.1" r="3.4"/><circle cx="361.4" cy="405.5" r="3.4"/><circle cx="381.7" cy="402.4" r="3.4"/><circle cx="342.0" cy="412.7" r="3.4"/><circle cx="325.4" cy="419.0" r="3.4"/><circle cx="324.8" cy="405.5" r="3.4"/><circle cx="333.2" cy="403.9" r="3.4"/><circle cx="347.3" cy="401.4" r="3.4"/><circle cx="303.5" cy="393.6" r="3.4"/><circle cx="312.9" cy="393.0" r="3.4"/><circle cx="320.7" cy="393.9" r="3.4"/><circle cx="286.9" cy="372.6" r="3.4"/><circle cx="292.5" cy="375.8" r="3.4"/><circle cx="293.1" cy="371.1" r="3.4"/><circle cx="294.1" cy="357.0" r="3.4"/><circle cx="297.2" cy="345.4" r="3.4"/><circle cx="300.3" cy="344.5" r="3.4"/><circle cx="304.4" cy="350.7" r="3.4"/><circle cx="309.7" cy="333.5" r="3.4"/><circle cx="306.6" cy="340.7" r="3.4"/><circle cx="404.6" cy="397.0" r="3.4"/><circle cx="406.8" cy="390.8" r="3.4"/><circle cx="417.1" cy="375.8" r="3.4"/><circle cx="417.7" cy="367.9" r="3.4"/><circle cx="422.4" cy="371.1" r="3.4"/><circle cx="413.0" cy="382.0" r="3.4"/><circle cx="409.9" cy="386.7" r="3.4"/><circle cx="402.7" cy="336.6" r="3.4"/><circle cx="411.5" cy="342.9" r="3.4"/><circle cx="419.3" cy="346.0" r="3.4"/><circle cx="422.4" cy="350.7" r="3.4"/><circle cx="424.0" cy="359.5" r="3.4"/><circle cx="345.7" cy="320.0" r="3.4"/><circle cx="353.6" cy="317.9" r="3.4"/><circle cx="358.2" cy="316.3" r="3.4"/><circle cx="367.6" cy="318.8" r="3.4"/><circle cx="341.0" cy="324.1" r="3.4"/><circle cx="333.2" cy="323.2" r="3.4"/><circle cx="325.4" cy="324.1" r="3.4"/><circle cx="316.9" cy="330.4" r="3.4"/><circle cx="373.9" cy="328.8" r="3.4"/><circle cx="380.8" cy="332.0" r="3.4"/><circle cx="389.5" cy="332.6" r="3.4"/><circle cx="392.0" cy="324.1" r="3.4"/></g>
<line x1="281" y1="362.5" x2="471.8" y2="362.7" stroke="#000" stroke-width="2.2"/>
<line x1="481.3" y1="288.2" x2="481.3" y2="436.5" stroke="#000" stroke-width="2"/>
<line x1="477.8" y1="435.5" x2="694.5" y2="435.5" stroke="#000" stroke-width="2"/>
<line x1="478.3" y1="287.79999999999995" x2="481.3" y2="287.79999999999995" stroke="#000" stroke-width="1.6"/>
<line x1="477.3" y1="302.5" x2="481.3" y2="302.5" stroke="#000" stroke-width="1.6"/>
<line x1="478.3" y1="317.2" x2="481.3" y2="317.2" stroke="#000" stroke-width="1.6"/>
<line x1="477.3" y1="331.9" x2="481.3" y2="331.9" stroke="#000" stroke-width="1.6"/>
<line x1="478.3" y1="346.6" x2="481.3" y2="346.6" stroke="#000" stroke-width="1.6"/>
<line x1="477.3" y1="361.29999999999995" x2="481.3" y2="361.29999999999995" stroke="#000" stroke-width="1.6"/>
<line x1="478.3" y1="376.0" x2="481.3" y2="376.0" stroke="#000" stroke-width="1.6"/>
<line x1="477.3" y1="390.7" x2="481.3" y2="390.7" stroke="#000" stroke-width="1.6"/>
<line x1="478.3" y1="405.4" x2="481.3" y2="405.4" stroke="#000" stroke-width="1.6"/>
<line x1="477.3" y1="420.09999999999997" x2="481.3" y2="420.09999999999997" stroke="#000" stroke-width="1.6"/>
<line x1="480.29999999999995" y1="435.5" x2="480.29999999999995" y2="439.5" stroke="#000" stroke-width="1.6"/>
<text x="480.29999999999995" y="455" font-size="14" font-weight="bold" text-anchor="middle">-5</text>
<line x1="492.19999999999993" y1="435.5" x2="492.19999999999993" y2="438.0" stroke="#000" stroke-width="1.6"/>
<line x1="504.09999999999997" y1="435.5" x2="504.09999999999997" y2="439.5" stroke="#000" stroke-width="1.6"/>
<text x="504.09999999999997" y="455" font-size="14" font-weight="bold" text-anchor="middle">-4</text>
<line x1="516.0" y1="435.5" x2="516.0" y2="438.0" stroke="#000" stroke-width="1.6"/>
<line x1="527.9" y1="435.5" x2="527.9" y2="439.5" stroke="#000" stroke-width="1.6"/>
<text x="527.9" y="455" font-size="14" font-weight="bold" text-anchor="middle">-3</text>
<line x1="539.8" y1="435.5" x2="539.8" y2="438.0" stroke="#000" stroke-width="1.6"/>
<line x1="551.6999999999999" y1="435.5" x2="551.6999999999999" y2="439.5" stroke="#000" stroke-width="1.6"/>
<text x="551.6999999999999" y="455" font-size="14" font-weight="bold" text-anchor="middle">-2</text>
<line x1="563.5999999999999" y1="435.5" x2="563.5999999999999" y2="438.0" stroke="#000" stroke-width="1.6"/>
<line x1="575.5" y1="435.5" x2="575.5" y2="439.5" stroke="#000" stroke-width="1.6"/>
<text x="575.5" y="455" font-size="14" font-weight="bold" text-anchor="middle">-1</text>
<line x1="587.4" y1="435.5" x2="587.4" y2="438.0" stroke="#000" stroke-width="1.6"/>
<line x1="599.3" y1="435.5" x2="599.3" y2="439.5" stroke="#000" stroke-width="1.6"/>
<text x="599.3" y="455" font-size="14" font-weight="bold" text-anchor="middle">0</text>
<line x1="611.1999999999999" y1="435.5" x2="611.1999999999999" y2="438.0" stroke="#000" stroke-width="1.6"/>
<line x1="623.0999999999999" y1="435.5" x2="623.0999999999999" y2="439.5" stroke="#000" stroke-width="1.6"/>
<text x="623.0999999999999" y="455" font-size="14" font-weight="bold" text-anchor="middle">1</text>
<line x1="635.0" y1="435.5" x2="635.0" y2="438.0" stroke="#000" stroke-width="1.6"/>
<line x1="646.9" y1="435.5" x2="646.9" y2="439.5" stroke="#000" stroke-width="1.6"/>
<text x="646.9" y="455" font-size="14" font-weight="bold" text-anchor="middle">2</text>
<line x1="658.8" y1="435.5" x2="658.8" y2="438.0" stroke="#000" stroke-width="1.6"/>
<line x1="670.6999999999999" y1="435.5" x2="670.6999999999999" y2="439.5" stroke="#000" stroke-width="1.6"/>
<text x="670.6999999999999" y="455" font-size="14" font-weight="bold" text-anchor="middle">3</text>
<line x1="682.5999999999999" y1="435.5" x2="682.5999999999999" y2="438.0" stroke="#000" stroke-width="1.6"/>
<line x1="694.5" y1="435.5" x2="694.5" y2="439.5" stroke="#000" stroke-width="1.6"/>
<text x="694.5" y="455" font-size="14" font-weight="bold" text-anchor="middle">4</text>
<g fill="none" stroke="#000" stroke-width="1.15"><circle cx="592.8" cy="354.4" r="3.4"/><circle cx="631.0" cy="386.6" r="3.4"/><circle cx="612.1" cy="391.9" r="3.4"/><circle cx="594.8" cy="374.1" r="3.4"/><circle cx="611.4" cy="345.3" r="3.4"/><circle cx="594.8" cy="360.7" r="3.4"/><circle cx="599.7" cy="373.7" r="3.4"/><circle cx="609.1" cy="376.8" r="3.4"/><circle cx="605.2" cy="342.5" r="3.4"/><circle cx="624.3" cy="386.0" r="3.4"/><circle cx="573.2" cy="347.7" r="3.4"/><circle cx="635.5" cy="370.9" r="3.4"/><circle cx="616.7" cy="341.6" r="3.4"/><circle cx="603.3" cy="358.8" r="3.4"/><circle cx="621.7" cy="348.3" r="3.4"/><circle cx="616.1" cy="353.7" r="3.4"/><circle cx="599.6" cy="371.4" r="3.4"/><circle cx="580.5" cy="352.9" r="3.4"/><circle cx="599.6" cy="344.1" r="3.4"/><circle cx="610.8" cy="367.7" r="3.4"/><circle cx="601.4" cy="374.0" r="3.4"/><circle cx="627.7" cy="382.4" r="3.4"/><circle cx="590.2" cy="353.3" r="3.4"/><circle cx="631.0" cy="372.9" r="3.4"/><circle cx="609.9" cy="389.2" r="3.4"/><circle cx="591.3" cy="353.5" r="3.4"/><circle cx="566.8" cy="366.0" r="3.4"/><circle cx="572.7" cy="362.2" r="3.4"/><circle cx="570.7" cy="345.6" r="3.4"/><circle cx="614.6" cy="359.6" r="3.4"/><circle cx="605.3" cy="353.9" r="3.4"/><circle cx="622.3" cy="360.6" r="3.4"/><circle cx="616.8" cy="341.9" r="3.4"/><circle cx="624.8" cy="360.2" r="3.4"/><circle cx="585.8" cy="362.7" r="3.4"/><circle cx="598.7" cy="379.2" r="3.4"/><circle cx="609.9" cy="376.6" r="3.4"/><circle cx="636.0" cy="372.5" r="3.4"/><circle cx="593.6" cy="354.7" r="3.4"/><circle cx="581.0" cy="372.4" r="3.4"/><circle cx="567.4" cy="356.7" r="3.4"/><circle cx="629.0" cy="367.0" r="3.4"/><circle cx="591.3" cy="368.0" r="3.4"/><circle cx="612.5" cy="353.1" r="3.4"/><circle cx="600.0" cy="390.8" r="3.4"/><circle cx="615.9" cy="358.8" r="3.4"/><circle cx="582.1" cy="376.2" r="3.4"/><circle cx="602.1" cy="364.8" r="3.4"/><circle cx="629.2" cy="379.4" r="3.4"/><circle cx="621.5" cy="382.2" r="3.4"/><circle cx="570.7" cy="349.4" r="3.4"/><circle cx="601.0" cy="386.0" r="3.4"/><circle cx="596.0" cy="367.5" r="3.4"/><circle cx="623.6" cy="353.0" r="3.4"/><circle cx="581.8" cy="367.8" r="3.4"/><circle cx="611.2" cy="389.7" r="3.4"/><circle cx="582.9" cy="376.9" r="3.4"/><circle cx="635.5" cy="363.8" r="3.4"/><circle cx="583.7" cy="343.7" r="3.4"/><circle cx="579.2" cy="347.9" r="3.4"/><circle cx="604.8" cy="348.1" r="3.4"/><circle cx="614.3" cy="344.0" r="3.4"/><circle cx="636.9" cy="365.3" r="3.4"/><circle cx="600.6" cy="355.1" r="3.4"/><circle cx="621.4" cy="365.9" r="3.4"/><circle cx="619.7" cy="348.0" r="3.4"/><circle cx="628.1" cy="357.6" r="3.4"/><circle cx="635.2" cy="374.5" r="3.4"/><circle cx="629.6" cy="381.8" r="3.4"/><circle cx="582.2" cy="363.9" r="3.4"/><circle cx="615.2" cy="374.8" r="3.4"/><circle cx="629.9" cy="381.1" r="3.4"/><circle cx="636.0" cy="357.2" r="3.4"/><circle cx="590.4" cy="362.7" r="3.4"/><circle cx="577.9" cy="342.8" r="3.4"/><circle cx="569.4" cy="370.5" r="3.4"/><circle cx="612.8" cy="375.7" r="3.4"/><circle cx="570.2" cy="348.4" r="3.4"/><circle cx="609.5" cy="376.0" r="3.4"/><circle cx="590.8" cy="356.1" r="3.4"/><circle cx="616.7" cy="351.1" r="3.4"/><circle cx="569.9" cy="369.6" r="3.4"/><circle cx="611.7" cy="338.7" r="3.4"/><circle cx="620.6" cy="363.2" r="3.4"/><circle cx="604.9" cy="374.0" r="3.4"/><circle cx="586.5" cy="367.8" r="3.4"/><circle cx="578.2" cy="355.5" r="3.4"/><circle cx="602.3" cy="370.0" r="3.4"/><circle cx="620.4" cy="379.6" r="3.4"/><circle cx="609.2" cy="339.4" r="3.4"/><circle cx="639.9" cy="366.8" r="3.4"/><circle cx="594.3" cy="368.3" r="3.4"/><circle cx="631.8" cy="370.9" r="3.4"/><circle cx="625.4" cy="384.4" r="3.4"/><circle cx="582.2" cy="346.0" r="3.4"/><circle cx="597.6" cy="348.1" r="3.4"/><circle cx="615.4" cy="360.2" r="3.4"/><circle cx="587.6" cy="363.2" r="3.4"/><circle cx="597.8" cy="342.9" r="3.4"/><circle cx="587.6" cy="349.3" r="3.4"/><circle cx="575.9" cy="361.0" r="3.4"/><circle cx="625.8" cy="353.6" r="3.4"/><circle cx="572.9" cy="373.0" r="3.4"/><circle cx="617.5" cy="359.9" r="3.4"/><circle cx="586.8" cy="382.6" r="3.4"/><circle cx="580.9" cy="372.2" r="3.4"/><circle cx="586.4" cy="378.2" r="3.4"/><circle cx="579.7" cy="356.0" r="3.4"/><circle cx="597.0" cy="344.5" r="3.4"/><circle cx="609.2" cy="340.8" r="3.4"/><circle cx="600.5" cy="372.0" r="3.4"/><circle cx="628.0" cy="347.7" r="3.4"/><circle cx="590.1" cy="346.4" r="3.4"/><circle cx="617.5" cy="358.6" r="3.4"/><circle cx="600.5" cy="353.6" r="3.4"/><circle cx="578.1" cy="350.3" r="3.4"/><circle cx="591.0" cy="342.8" r="3.4"/><circle cx="620.3" cy="374.8" r="3.4"/><circle cx="604.3" cy="384.8" r="3.4"/><circle cx="636.3" cy="363.5" r="3.4"/><circle cx="635.7" cy="381.0" r="3.4"/><circle cx="597.9" cy="372.0" r="3.4"/><circle cx="610.4" cy="340.3" r="3.4"/><circle cx="624.6" cy="345.3" r="3.4"/><circle cx="605.6" cy="368.1" r="3.4"/><circle cx="585.6" cy="364.3" r="3.4"/><circle cx="574.8" cy="375.9" r="3.4"/><circle cx="623.8" cy="354.4" r="3.4"/><circle cx="614.7" cy="359.8" r="3.4"/><circle cx="619.6" cy="373.3" r="3.4"/><circle cx="570.7" cy="373.6" r="3.4"/><circle cx="612.0" cy="353.3" r="3.4"/><circle cx="591.5" cy="353.8" r="3.4"/><circle cx="596.1" cy="374.7" r="3.4"/><circle cx="607.3" cy="347.1" r="3.4"/><circle cx="618.9" cy="360.9" r="3.4"/><circle cx="633.5" cy="376.7" r="3.4"/><circle cx="584.2" cy="368.3" r="3.4"/><circle cx="582.4" cy="358.3" r="3.4"/><circle cx="599.6" cy="340.1" r="3.4"/><circle cx="579.0" cy="362.0" r="3.4"/><circle cx="590.1" cy="341.7" r="3.4"/><circle cx="614.2" cy="381.3" r="3.4"/><circle cx="573.1" cy="377.7" r="3.4"/><circle cx="603.6" cy="383.5" r="3.4"/><circle cx="565.7" cy="352.7" r="3.4"/><circle cx="613.6" cy="381.3" r="3.4"/><circle cx="581.3" cy="342.7" r="3.4"/><circle cx="627.3" cy="358.5" r="3.4"/><circle cx="589.0" cy="362.9" r="3.4"/><circle cx="603.2" cy="362.0" r="3.4"/><circle cx="594.4" cy="360.5" r="3.4"/><circle cx="576.5" cy="356.6" r="3.4"/><circle cx="599.1" cy="369.5" r="3.4"/><circle cx="583.3" cy="358.6" r="3.4"/><circle cx="621.0" cy="363.3" r="3.4"/><circle cx="615.6" cy="381.5" r="3.4"/><circle cx="613.5" cy="340.0" r="3.4"/><circle cx="593.4" cy="352.2" r="3.4"/><circle cx="628.3" cy="363.2" r="3.4"/><circle cx="618.0" cy="373.4" r="3.4"/><circle cx="613.0" cy="388.5" r="3.4"/><circle cx="588.1" cy="364.2" r="3.4"/><circle cx="614.5" cy="376.4" r="3.4"/><circle cx="575.0" cy="347.7" r="3.4"/><circle cx="566.6" cy="352.1" r="3.4"/><circle cx="582.3" cy="356.3" r="3.4"/><circle cx="601.2" cy="347.3" r="3.4"/><circle cx="580.4" cy="374.4" r="3.4"/><circle cx="598.2" cy="374.4" r="3.4"/><circle cx="597.5" cy="353.2" r="3.4"/><circle cx="623.4" cy="365.7" r="3.4"/><circle cx="595.1" cy="354.2" r="3.4"/><circle cx="609.2" cy="384.0" r="3.4"/><circle cx="598.1" cy="364.6" r="3.4"/><circle cx="581.1" cy="344.7" r="3.4"/><circle cx="614.4" cy="369.6" r="3.4"/><circle cx="589.3" cy="352.9" r="3.4"/><circle cx="606.1" cy="353.1" r="3.4"/><circle cx="627.7" cy="364.3" r="3.4"/><circle cx="623.3" cy="353.6" r="3.4"/><circle cx="621.9" cy="371.8" r="3.4"/><circle cx="633.9" cy="358.4" r="3.4"/><circle cx="574.0" cy="353.4" r="3.4"/><circle cx="634.6" cy="354.7" r="3.4"/><circle cx="598.8" cy="371.9" r="3.4"/><circle cx="596.1" cy="350.0" r="3.4"/><circle cx="585.1" cy="359.2" r="3.4"/><circle cx="584.1" cy="374.4" r="3.4"/><circle cx="594.0" cy="373.6" r="3.4"/><circle cx="609.2" cy="362.9" r="3.4"/><circle cx="583.1" cy="341.7" r="3.4"/><circle cx="598.8" cy="367.6" r="3.4"/><circle cx="625.5" cy="373.4" r="3.4"/><circle cx="600.6" cy="370.0" r="3.4"/><circle cx="587.7" cy="380.6" r="3.4"/><circle cx="590.7" cy="375.6" r="3.4"/><circle cx="594.2" cy="368.9" r="3.4"/><circle cx="600.4" cy="368.1" r="3.4"/><circle cx="586.0" cy="382.7" r="3.4"/><circle cx="573.3" cy="361.3" r="3.4"/><circle cx="571.0" cy="369.4" r="3.4"/><circle cx="589.7" cy="378.4" r="3.4"/><circle cx="603.4" cy="387.5" r="3.4"/><circle cx="583.1" cy="342.7" r="3.4"/><circle cx="622.0" cy="388.7" r="3.4"/><circle cx="624.4" cy="362.7" r="3.4"/><circle cx="618.6" cy="364.8" r="3.4"/><circle cx="603.7" cy="390.2" r="3.4"/><circle cx="594.3" cy="351.8" r="3.4"/><circle cx="573.0" cy="358.2" r="3.4"/><circle cx="589.1" cy="377.4" r="3.4"/><circle cx="567.5" cy="361.7" r="3.4"/><circle cx="612.8" cy="356.4" r="3.4"/><circle cx="564.0" cy="360.6" r="3.4"/><circle cx="627.5" cy="375.3" r="3.4"/><circle cx="600.8" cy="357.0" r="3.4"/><circle cx="595.2" cy="368.8" r="3.4"/><circle cx="619.3" cy="372.5" r="3.4"/><circle cx="590.6" cy="367.3" r="3.4"/><circle cx="578.2" cy="381.6" r="3.4"/><circle cx="579.4" cy="376.1" r="3.4"/><circle cx="583.4" cy="370.6" r="3.4"/><circle cx="604.6" cy="371.7" r="3.4"/><circle cx="636.3" cy="366.5" r="3.4"/><circle cx="581.4" cy="357.8" r="3.4"/><circle cx="606.3" cy="390.4" r="3.4"/><circle cx="569.7" cy="345.0" r="3.4"/><circle cx="586.0" cy="368.6" r="3.4"/><circle cx="578.1" cy="374.4" r="3.4"/><circle cx="616.8" cy="355.8" r="3.4"/><circle cx="603.8" cy="386.8" r="3.4"/><circle cx="635.9" cy="372.4" r="3.4"/><circle cx="623.6" cy="357.9" r="3.4"/><circle cx="578.2" cy="348.9" r="3.4"/><circle cx="591.0" cy="354.8" r="3.4"/><circle cx="594.3" cy="346.5" r="3.4"/><circle cx="621.7" cy="349.0" r="3.4"/><circle cx="628.0" cy="359.9" r="3.4"/><circle cx="602.5" cy="360.6" r="3.4"/><circle cx="578.6" cy="365.9" r="3.4"/><circle cx="617.3" cy="363.9" r="3.4"/><circle cx="627.7" cy="354.6" r="3.4"/><circle cx="607.3" cy="368.6" r="3.4"/><circle cx="613.5" cy="374.1" r="3.4"/><circle cx="565.8" cy="359.5" r="3.4"/><circle cx="585.3" cy="345.4" r="3.4"/><circle cx="638.2" cy="370.7" r="3.4"/><circle cx="617.9" cy="358.6" r="3.4"/><circle cx="567.0" cy="349.8" r="3.4"/><circle cx="617.2" cy="363.1" r="3.4"/><circle cx="611.9" cy="367.4" r="3.4"/><circle cx="603.0" cy="350.4" r="3.4"/><circle cx="592.3" cy="344.4" r="3.4"/><circle cx="618.9" cy="373.5" r="3.4"/><circle cx="602.3" cy="347.5" r="3.4"/><circle cx="620.8" cy="351.8" r="3.4"/><circle cx="590.1" cy="356.4" r="3.4"/><circle cx="606.3" cy="369.0" r="3.4"/><circle cx="592.7" cy="340.8" r="3.4"/><circle cx="603.6" cy="351.6" r="3.4"/><circle cx="595.5" cy="378.4" r="3.4"/><circle cx="572.7" cy="361.6" r="3.4"/><circle cx="591.6" cy="343.5" r="3.4"/><circle cx="615.6" cy="355.4" r="3.4"/><circle cx="587.0" cy="360.2" r="3.4"/><circle cx="621.6" cy="355.5" r="3.4"/><circle cx="571.0" cy="350.0" r="3.4"/><circle cx="622.5" cy="376.5" r="3.4"/><circle cx="580.1" cy="357.1" r="3.4"/><circle cx="593.1" cy="360.9" r="3.4"/><circle cx="612.3" cy="373.5" r="3.4"/><circle cx="585.4" cy="347.2" r="3.4"/><circle cx="597.2" cy="366.5" r="3.4"/><circle cx="588.1" cy="378.4" r="3.4"/><circle cx="588.0" cy="379.5" r="3.4"/><circle cx="595.5" cy="359.2" r="3.4"/><circle cx="602.3" cy="351.6" r="3.4"/><circle cx="599.8" cy="341.7" r="3.4"/><circle cx="604.6" cy="364.0" r="3.4"/><circle cx="587.6" cy="384.3" r="3.4"/><circle cx="638.2" cy="364.0" r="3.4"/><circle cx="637.4" cy="379.1" r="3.4"/><circle cx="623.3" cy="357.8" r="3.4"/><circle cx="618.0" cy="373.3" r="3.4"/><circle cx="593.6" cy="358.0" r="3.4"/><circle cx="582.5" cy="376.6" r="3.4"/><circle cx="616.7" cy="369.6" r="3.4"/><circle cx="631.1" cy="360.6" r="3.4"/><circle cx="604.4" cy="388.9" r="3.4"/><circle cx="593.4" cy="338.4" r="3.4"/><circle cx="577.9" cy="357.4" r="3.4"/><circle cx="597.4" cy="375.1" r="3.4"/><circle cx="601.4" cy="377.7" r="3.4"/><circle cx="618.0" cy="350.1" r="3.4"/><circle cx="630.2" cy="381.0" r="3.4"/><circle cx="630.6" cy="362.2" r="3.4"/><circle cx="587.4" cy="360.3" r="3.4"/><circle cx="632.0" cy="372.2" r="3.4"/><circle cx="580.4" cy="343.8" r="3.4"/><circle cx="615.1" cy="353.8" r="3.4"/><circle cx="623.0" cy="362.6" r="3.4"/><circle cx="617.0" cy="355.3" r="3.4"/><circle cx="605.7" cy="374.5" r="3.4"/><circle cx="617.3" cy="384.1" r="3.4"/><circle cx="596.6" cy="368.1" r="3.4"/><circle cx="577.1" cy="379.4" r="3.4"/><circle cx="616.6" cy="354.4" r="3.4"/><circle cx="613.3" cy="350.1" r="3.4"/><circle cx="611.9" cy="377.9" r="3.4"/><circle cx="600.1" cy="351.3" r="3.4"/><circle cx="569.9" cy="367.5" r="3.4"/><circle cx="636.7" cy="375.0" r="3.4"/><circle cx="619.6" cy="367.0" r="3.4"/><circle cx="588.5" cy="362.0" r="3.4"/><circle cx="609.9" cy="367.2" r="3.4"/><circle cx="610.0" cy="350.7" r="3.4"/><circle cx="585.7" cy="340.5" r="3.4"/><circle cx="618.7" cy="345.6" r="3.4"/><circle cx="601.9" cy="342.1" r="3.4"/><circle cx="606.0" cy="356.6" r="3.4"/><circle cx="601.9" cy="361.8" r="3.4"/><circle cx="599.0" cy="371.4" r="3.4"/><circle cx="606.1" cy="365.8" r="3.4"/><circle cx="589.3" cy="338.2" r="3.4"/><circle cx="579.2" cy="340.4" r="3.4"/><circle cx="590.1" cy="353.7" r="3.4"/><circle cx="610.6" cy="381.2" r="3.4"/><circle cx="586.8" cy="347.4" r="3.4"/><circle cx="600.9" cy="337.0" r="3.4"/><circle cx="576.8" cy="380.8" r="3.4"/><circle cx="617.1" cy="368.6" r="3.4"/><circle cx="578.9" cy="356.3" r="3.4"/><circle cx="630.7" cy="352.0" r="3.4"/><circle cx="593.8" cy="339.6" r="3.4"/><circle cx="629.1" cy="349.3" r="3.4"/><circle cx="603.2" cy="388.9" r="3.4"/><circle cx="587.9" cy="378.4" r="3.4"/><circle cx="571.9" cy="364.3" r="3.4"/><circle cx="626.0" cy="379.8" r="3.4"/><circle cx="578.5" cy="375.0" r="3.4"/><circle cx="572.5" cy="364.1" r="3.4"/><circle cx="596.9" cy="380.0" r="3.4"/><circle cx="634.6" cy="370.4" r="3.4"/><circle cx="580.7" cy="340.2" r="3.4"/><circle cx="590.1" cy="351.5" r="3.4"/><circle cx="594.5" cy="357.2" r="3.4"/><circle cx="584.9" cy="337.6" r="3.4"/><circle cx="599.1" cy="345.9" r="3.4"/><circle cx="593.0" cy="370.0" r="3.4"/><circle cx="610.4" cy="381.8" r="3.4"/><circle cx="602.9" cy="389.4" r="3.4"/><circle cx="568.4" cy="353.4" r="3.4"/><circle cx="608.8" cy="354.2" r="3.4"/><circle cx="618.9" cy="381.8" r="3.4"/><circle cx="593.8" cy="362.4" r="3.4"/><circle cx="641.1" cy="374.9" r="3.4"/><circle cx="607.2" cy="355.9" r="3.4"/><circle cx="591.8" cy="388.5" r="3.4"/><circle cx="597.5" cy="342.9" r="3.4"/><circle cx="594.7" cy="357.0" r="3.4"/><circle cx="602.2" cy="371.0" r="3.4"/><circle cx="594.9" cy="380.4" r="3.4"/><circle cx="573.0" cy="361.3" r="3.4"/><circle cx="626.1" cy="375.7" r="3.4"/><circle cx="604.9" cy="378.3" r="3.4"/><circle cx="604.1" cy="351.2" r="3.4"/><circle cx="637.9" cy="360.4" r="3.4"/><circle cx="616.9" cy="364.2" r="3.4"/><circle cx="601.7" cy="345.8" r="3.4"/><circle cx="593.7" cy="381.9" r="3.4"/><circle cx="638.6" cy="365.4" r="3.4"/><circle cx="630.7" cy="359.3" r="3.4"/><circle cx="590.6" cy="349.3" r="3.4"/><circle cx="631.5" cy="374.5" r="3.4"/><circle cx="603.4" cy="357.4" r="3.4"/><circle cx="623.5" cy="366.4" r="3.4"/><circle cx="602.7" cy="361.2" r="3.4"/><circle cx="601.7" cy="373.8" r="3.4"/><circle cx="620.8" cy="369.3" r="3.4"/><circle cx="596.5" cy="353.7" r="3.4"/><circle cx="577.1" cy="340.3" r="3.4"/><circle cx="620.8" cy="390.7" r="3.4"/><circle cx="604.8" cy="374.0" r="3.4"/><circle cx="576.4" cy="374.6" r="3.4"/><circle cx="621.1" cy="353.1" r="3.4"/><circle cx="588.9" cy="357.1" r="3.4"/><circle cx="631.0" cy="368.9" r="3.4"/><circle cx="605.1" cy="358.7" r="3.4"/><circle cx="605.5" cy="378.4" r="3.4"/><circle cx="626.3" cy="371.1" r="3.4"/><circle cx="636.2" cy="367.7" r="3.4"/><circle cx="593.6" cy="359.7" r="3.4"/><circle cx="587.2" cy="377.2" r="3.4"/><circle cx="611.3" cy="345.3" r="3.4"/><circle cx="632.8" cy="380.1" r="3.4"/><circle cx="633.3" cy="380.9" r="3.4"/><circle cx="582.4" cy="342.4" r="3.4"/><circle cx="639.2" cy="360.7" r="3.4"/><circle cx="594.0" cy="363.4" r="3.4"/><circle cx="627.6" cy="370.8" r="3.4"/><circle cx="582.6" cy="383.3" r="3.4"/><circle cx="608.6" cy="383.0" r="3.4"/><circle cx="595.7" cy="368.4" r="3.4"/><circle cx="588.5" cy="342.2" r="3.4"/><circle cx="614.3" cy="370.2" r="3.4"/><circle cx="568.5" cy="359.2" r="3.4"/><circle cx="592.7" cy="358.8" r="3.4"/><circle cx="587.1" cy="381.6" r="3.4"/><circle cx="574.2" cy="360.3" r="3.4"/><circle cx="592.3" cy="388.7" r="3.4"/><circle cx="615.3" cy="353.9" r="3.4"/><circle cx="599.8" cy="374.6" r="3.4"/><circle cx="594.0" cy="382.2" r="3.4"/><circle cx="617.1" cy="352.4" r="3.4"/><circle cx="614.8" cy="377.0" r="3.4"/><circle cx="603.7" cy="342.3" r="3.4"/><circle cx="585.3" cy="345.6" r="3.4"/><circle cx="575.5" cy="345.1" r="3.4"/><circle cx="574.9" cy="354.2" r="3.4"/><circle cx="593.6" cy="382.6" r="3.4"/><circle cx="569.6" cy="348.9" r="3.4"/><circle cx="622.4" cy="367.3" r="3.4"/><circle cx="617.4" cy="349.0" r="3.4"/><circle cx="595.5" cy="358.9" r="3.4"/><circle cx="628.7" cy="377.9" r="3.4"/><circle cx="585.0" cy="370.4" r="3.4"/><circle cx="617.0" cy="350.3" r="3.4"/><circle cx="588.4" cy="374.5" r="3.4"/><circle cx="594.3" cy="348.4" r="3.4"/><circle cx="641.7" cy="373.1" r="3.4"/><circle cx="583.7" cy="364.9" r="3.4"/><circle cx="605.0" cy="367.5" r="3.4"/><circle cx="593.3" cy="354.4" r="3.4"/><circle cx="586.4" cy="371.4" r="3.4"/><circle cx="589.2" cy="347.6" r="3.4"/><circle cx="587.9" cy="378.6" r="3.4"/><circle cx="588.9" cy="365.3" r="3.4"/><circle cx="629.3" cy="347.6" r="3.4"/><circle cx="595.4" cy="365.0" r="3.4"/><circle cx="594.5" cy="364.2" r="3.4"/><circle cx="584.8" cy="375.7" r="3.4"/><circle cx="589.2" cy="347.5" r="3.4"/><circle cx="596.0" cy="362.1" r="3.4"/><circle cx="606.8" cy="342.0" r="3.4"/><circle cx="589.9" cy="373.2" r="3.4"/><circle cx="582.6" cy="365.0" r="3.4"/><circle cx="602.9" cy="356.2" r="3.4"/><circle cx="587.6" cy="369.1" r="3.4"/><circle cx="588.8" cy="363.8" r="3.4"/><circle cx="582.8" cy="358.1" r="3.4"/><circle cx="616.2" cy="371.9" r="3.4"/><circle cx="604.9" cy="363.0" r="3.4"/><circle cx="588.1" cy="369.4" r="3.4"/><circle cx="569.5" cy="371.7" r="3.4"/><circle cx="626.1" cy="371.3" r="3.4"/><circle cx="572.4" cy="363.5" r="3.4"/><circle cx="606.5" cy="344.4" r="3.4"/><circle cx="613.5" cy="382.0" r="3.4"/><circle cx="588.7" cy="367.6" r="3.4"/><circle cx="633.8" cy="358.9" r="3.4"/><circle cx="633.1" cy="369.3" r="3.4"/><circle cx="609.3" cy="373.8" r="3.4"/><circle cx="583.6" cy="360.3" r="3.4"/><circle cx="609.0" cy="362.5" r="3.4"/><circle cx="605.8" cy="358.8" r="3.4"/><circle cx="613.6" cy="339.0" r="3.4"/><circle cx="605.0" cy="389.3" r="3.4"/><circle cx="627.6" cy="358.4" r="3.4"/><circle cx="596.7" cy="369.5" r="3.4"/><circle cx="604.8" cy="380.9" r="3.4"/><circle cx="595.6" cy="344.5" r="3.4"/><circle cx="606.7" cy="391.0" r="3.4"/><circle cx="623.4" cy="378.4" r="3.4"/><circle cx="615.5" cy="348.9" r="3.4"/><circle cx="594.2" cy="377.2" r="3.4"/><circle cx="580.7" cy="352.7" r="3.4"/><circle cx="617.1" cy="357.4" r="3.4"/><circle cx="630.1" cy="365.1" r="3.4"/><circle cx="632.3" cy="360.6" r="3.4"/><circle cx="607.1" cy="345.4" r="3.4"/><circle cx="613.8" cy="375.8" r="3.4"/><circle cx="616.9" cy="348.9" r="3.4"/><circle cx="609.0" cy="367.5" r="3.4"/><circle cx="609.5" cy="349.3" r="3.4"/><circle cx="571.9" cy="363.5" r="3.4"/><circle cx="586.4" cy="362.1" r="3.4"/><circle cx="636.8" cy="381.5" r="3.4"/><circle cx="588.3" cy="372.4" r="3.4"/><circle cx="603.8" cy="366.0" r="3.4"/><circle cx="610.6" cy="348.3" r="3.4"/><circle cx="612.8" cy="342.5" r="3.4"/><circle cx="603.7" cy="385.3" r="3.4"/><circle cx="594.3" cy="371.5" r="3.4"/><circle cx="614.1" cy="366.4" r="3.4"/><circle cx="622.7" cy="363.6" r="3.4"/><circle cx="591.9" cy="353.6" r="3.4"/><circle cx="634.2" cy="364.8" r="3.4"/><circle cx="584.5" cy="359.7" r="3.4"/><circle cx="609.1" cy="381.0" r="3.4"/><circle cx="625.9" cy="379.6" r="3.4"/><circle cx="604.9" cy="377.5" r="3.4"/><circle cx="600.2" cy="367.0" r="3.4"/><circle cx="572.0" cy="351.5" r="3.4"/><circle cx="601.6" cy="366.4" r="3.4"/><circle cx="627.9" cy="370.1" r="3.4"/><circle cx="612.9" cy="352.8" r="3.4"/><circle cx="637.0" cy="358.0" r="3.4"/><circle cx="598.9" cy="370.5" r="3.4"/><circle cx="611.5" cy="360.6" r="3.4"/><circle cx="630.6" cy="360.5" r="3.4"/><circle cx="629.4" cy="358.9" r="3.4"/><circle cx="578.2" cy="349.5" r="3.4"/><circle cx="576.1" cy="368.7" r="3.4"/><circle cx="589.0" cy="349.1" r="3.4"/><circle cx="635.6" cy="364.2" r="3.4"/><circle cx="608.9" cy="375.7" r="3.4"/><circle cx="631.1" cy="356.4" r="3.4"/><circle cx="610.9" cy="348.5" r="3.4"/><circle cx="608.7" cy="338.5" r="3.4"/><circle cx="587.1" cy="376.9" r="3.4"/><circle cx="570.4" cy="350.1" r="3.4"/><circle cx="590.9" cy="357.8" r="3.4"/><circle cx="626.4" cy="386.9" r="3.4"/><circle cx="624.9" cy="366.2" r="3.4"/><circle cx="621.1" cy="361.0" r="3.4"/><circle cx="602.3" cy="386.3" r="3.4"/><circle cx="607.2" cy="390.4" r="3.4"/><circle cx="592.5" cy="359.3" r="3.4"/><circle cx="576.6" cy="360.1" r="3.4"/><circle cx="598.4" cy="353.4" r="3.4"/><circle cx="628.0" cy="358.8" r="3.4"/><circle cx="575.9" cy="357.1" r="3.4"/><circle cx="625.7" cy="351.5" r="3.4"/><circle cx="573.9" cy="361.8" r="3.4"/><circle cx="587.3" cy="375.1" r="3.4"/><circle cx="616.8" cy="380.9" r="3.4"/><circle cx="597.8" cy="381.1" r="3.4"/><circle cx="600.0" cy="375.0" r="3.4"/><circle cx="605.0" cy="374.7" r="3.4"/><circle cx="599.0" cy="377.4" r="3.4"/><circle cx="591.1" cy="340.8" r="3.4"/><circle cx="608.8" cy="360.0" r="3.4"/><circle cx="621.9" cy="376.8" r="3.4"/><circle cx="639.0" cy="364.0" r="3.4"/><circle cx="605.6" cy="382.6" r="3.4"/><circle cx="615.1" cy="371.3" r="3.4"/><circle cx="607.0" cy="357.5" r="3.4"/><circle cx="586.5" cy="364.3" r="3.4"/><circle cx="610.7" cy="378.6" r="3.4"/><circle cx="616.3" cy="355.6" r="3.4"/><circle cx="568.3" cy="364.1" r="3.4"/><circle cx="630.8" cy="356.5" r="3.4"/><circle cx="603.3" cy="356.9" r="3.4"/><circle cx="618.5" cy="361.5" r="3.4"/><circle cx="584.8" cy="384.4" r="3.4"/><circle cx="624.0" cy="376.3" r="3.4"/><circle cx="633.8" cy="364.0" r="3.4"/><circle cx="625.1" cy="359.5" r="3.4"/><circle cx="618.3" cy="341.4" r="3.4"/><circle cx="566.5" cy="363.5" r="3.4"/><circle cx="603.2" cy="382.3" r="3.4"/><circle cx="613.9" cy="360.7" r="3.4"/><circle cx="601.1" cy="373.1" r="3.4"/><circle cx="608.7" cy="345.0" r="3.4"/><circle cx="613.5" cy="386.5" r="3.4"/><circle cx="625.7" cy="383.4" r="3.4"/><circle cx="587.6" cy="348.9" r="3.4"/><circle cx="607.6" cy="366.5" r="3.4"/><circle cx="586.7" cy="348.8" r="3.4"/><circle cx="602.3" cy="364.3" r="3.4"/><circle cx="587.8" cy="368.0" r="3.4"/><circle cx="589.2" cy="372.0" r="3.4"/><circle cx="608.6" cy="378.5" r="3.4"/><circle cx="621.8" cy="383.8" r="3.4"/><circle cx="593.7" cy="375.7" r="3.4"/><circle cx="604.2" cy="371.1" r="3.4"/><circle cx="589.6" cy="347.4" r="3.4"/><circle cx="592.5" cy="372.5" r="3.4"/><circle cx="592.4" cy="364.8" r="3.4"/><circle cx="620.8" cy="377.4" r="3.4"/><circle cx="607.5" cy="351.0" r="3.4"/><circle cx="589.9" cy="380.4" r="3.4"/><circle cx="632.1" cy="371.0" r="3.4"/><circle cx="611.4" cy="347.0" r="3.4"/><circle cx="617.7" cy="354.8" r="3.4"/><circle cx="601.6" cy="362.2" r="3.4"/><circle cx="584.0" cy="344.0" r="3.4"/><circle cx="603.2" cy="367.0" r="3.4"/><circle cx="602.4" cy="343.1" r="3.4"/><circle cx="592.2" cy="367.6" r="3.4"/><circle cx="592.6" cy="361.5" r="3.4"/><circle cx="606.1" cy="345.3" r="3.4"/><circle cx="607.5" cy="363.7" r="3.4"/><circle cx="601.7" cy="374.9" r="3.4"/><circle cx="617.5" cy="366.2" r="3.4"/><circle cx="609.0" cy="380.1" r="3.4"/><circle cx="586.9" cy="340.5" r="3.4"/><circle cx="595.6" cy="354.7" r="3.4"/><circle cx="594.5" cy="356.5" r="3.4"/><circle cx="603.5" cy="389.0" r="3.4"/><circle cx="600.5" cy="366.5" r="3.4"/><circle cx="602.3" cy="340.6" r="3.4"/><circle cx="622.5" cy="371.7" r="3.4"/><circle cx="570.1" cy="352.7" r="3.4"/><circle cx="634.5" cy="380.6" r="3.4"/><circle cx="570.9" cy="352.6" r="3.4"/><circle cx="584.3" cy="378.0" r="3.4"/><circle cx="640.1" cy="363.1" r="3.4"/><circle cx="609.2" cy="373.6" r="3.4"/><circle cx="632.9" cy="365.4" r="3.4"/><circle cx="591.4" cy="358.3" r="3.4"/><circle cx="592.7" cy="372.7" r="3.4"/><circle cx="602.0" cy="341.3" r="3.4"/><circle cx="577.8" cy="358.4" r="3.4"/><circle cx="608.8" cy="353.8" r="3.4"/><circle cx="592.2" cy="363.8" r="3.4"/><circle cx="612.8" cy="353.9" r="3.4"/><circle cx="571.4" cy="354.0" r="3.4"/><circle cx="614.7" cy="353.4" r="3.4"/><circle cx="628.3" cy="347.1" r="3.4"/><circle cx="597.4" cy="371.8" r="3.4"/><circle cx="586.6" cy="374.9" r="3.4"/><circle cx="636.5" cy="357.1" r="3.4"/><circle cx="614.9" cy="363.3" r="3.4"/><circle cx="630.0" cy="374.1" r="3.4"/><circle cx="611.5" cy="355.0" r="3.4"/><circle cx="577.1" cy="379.3" r="3.4"/><circle cx="639.7" cy="378.3" r="3.4"/><circle cx="591.7" cy="359.6" r="3.4"/><circle cx="633.4" cy="355.1" r="3.4"/><circle cx="641.0" cy="371.7" r="3.4"/><circle cx="573.2" cy="355.7" r="3.4"/><circle cx="578.7" cy="381.0" r="3.4"/><circle cx="598.0" cy="349.6" r="3.4"/><circle cx="596.5" cy="353.2" r="3.4"/><circle cx="574.4" cy="343.4" r="3.4"/><circle cx="588.1" cy="366.0" r="3.4"/><circle cx="576.8" cy="368.6" r="3.4"/><circle cx="617.4" cy="377.4" r="3.4"/><circle cx="572.3" cy="344.9" r="3.4"/><circle cx="593.5" cy="365.4" r="3.4"/><circle cx="609.9" cy="371.9" r="3.4"/><circle cx="587.5" cy="381.0" r="3.4"/><circle cx="640.5" cy="376.4" r="3.4"/><circle cx="591.2" cy="380.2" r="3.4"/><circle cx="591.7" cy="376.5" r="3.4"/><circle cx="569.6" cy="372.9" r="3.4"/><circle cx="620.2" cy="358.0" r="3.4"/><circle cx="615.4" cy="349.7" r="3.4"/><circle cx="597.0" cy="369.3" r="3.4"/><circle cx="587.9" cy="377.8" r="3.4"/><circle cx="599.4" cy="368.8" r="3.4"/><circle cx="637.1" cy="367.5" r="3.4"/><circle cx="580.2" cy="339.4" r="3.4"/><circle cx="656.6" cy="352.6" r="3.4"/><circle cx="573.6" cy="351.3" r="3.4"/><circle cx="675.2" cy="344.9" r="3.4"/><circle cx="634.9" cy="370.3" r="3.4"/><circle cx="603.3" cy="338.2" r="3.4"/><circle cx="585.9" cy="382.4" r="3.4"/><circle cx="613.6" cy="381.6" r="3.4"/><circle cx="547.6" cy="361.1" r="3.4"/><circle cx="578.0" cy="366.0" r="3.4"/><circle cx="645.4" cy="371.8" r="3.4"/><circle cx="599.3" cy="344.9" r="3.4"/><circle cx="605.3" cy="361.2" r="3.4"/><circle cx="544.6" cy="385.2" r="3.4"/><circle cx="591.6" cy="362.0" r="3.4"/><circle cx="563.3" cy="390.6" r="3.4"/><circle cx="583.9" cy="376.9" r="3.4"/><circle cx="583.9" cy="359.6" r="3.4"/><circle cx="578.1" cy="359.0" r="3.4"/><circle cx="640.7" cy="381.3" r="3.4"/><circle cx="582.4" cy="362.6" r="3.4"/><circle cx="606.7" cy="380.8" r="3.4"/><circle cx="625.3" cy="325.2" r="3.4"/><circle cx="635.3" cy="356.9" r="3.4"/><circle cx="613.9" cy="336.7" r="3.4"/><circle cx="565.8" cy="372.3" r="3.4"/><circle cx="631.4" cy="363.4" r="3.4"/><circle cx="606.0" cy="386.6" r="3.4"/><circle cx="628.3" cy="348.9" r="3.4"/><circle cx="617.5" cy="389.8" r="3.4"/><circle cx="615.2" cy="384.0" r="3.4"/><circle cx="603.7" cy="352.6" r="3.4"/><circle cx="599.3" cy="390.9" r="3.4"/><circle cx="564.8" cy="383.8" r="3.4"/><circle cx="571.6" cy="347.6" r="3.4"/><circle cx="606.7" cy="371.3" r="3.4"/><circle cx="606.5" cy="367.1" r="3.4"/><circle cx="609.0" cy="371.8" r="3.4"/><circle cx="613.0" cy="363.9" r="3.4"/><circle cx="600.1" cy="384.6" r="3.4"/><circle cx="585.6" cy="361.7" r="3.4"/><circle cx="577.7" cy="371.8" r="3.4"/><circle cx="605.4" cy="360.7" r="3.4"/><circle cx="589.1" cy="354.9" r="3.4"/><circle cx="581.0" cy="331.6" r="3.4"/><circle cx="594.0" cy="372.1" r="3.4"/><circle cx="607.3" cy="363.0" r="3.4"/><circle cx="577.0" cy="369.1" r="3.4"/><circle cx="617.6" cy="365.2" r="3.4"/><circle cx="648.5" cy="352.7" r="3.4"/><circle cx="598.1" cy="346.5" r="3.4"/><circle cx="628.2" cy="364.2" r="3.4"/><circle cx="617.6" cy="336.9" r="3.4"/><circle cx="585.6" cy="350.1" r="3.4"/><circle cx="654.1" cy="365.9" r="3.4"/><circle cx="602.2" cy="361.1" r="3.4"/><circle cx="604.0" cy="364.9" r="3.4"/><circle cx="604.1" cy="341.5" r="3.4"/><circle cx="608.7" cy="355.2" r="3.4"/><circle cx="614.5" cy="345.0" r="3.4"/><circle cx="615.9" cy="382.9" r="3.4"/><circle cx="602.6" cy="363.9" r="3.4"/><circle cx="595.0" cy="363.1" r="3.4"/><circle cx="636.2" cy="376.4" r="3.4"/><circle cx="605.8" cy="386.7" r="3.4"/><circle cx="573.5" cy="344.0" r="3.4"/><circle cx="600.5" cy="370.7" r="3.4"/><circle cx="615.3" cy="347.6" r="3.4"/><circle cx="612.7" cy="349.5" r="3.4"/><circle cx="593.0" cy="356.6" r="3.4"/><circle cx="598.7" cy="351.6" r="3.4"/><circle cx="575.7" cy="378.3" r="3.4"/><circle cx="609.6" cy="368.4" r="3.4"/><circle cx="618.3" cy="344.1" r="3.4"/><circle cx="648.9" cy="353.3" r="3.4"/><circle cx="584.6" cy="354.7" r="3.4"/><circle cx="609.5" cy="384.6" r="3.4"/><circle cx="605.0" cy="387.4" r="3.4"/><circle cx="552.1" cy="406.0" r="3.4"/><circle cx="634.9" cy="335.2" r="3.4"/><circle cx="630.3" cy="360.4" r="3.4"/><circle cx="614.8" cy="400.5" r="3.4"/><circle cx="612.1" cy="367.2" r="3.4"/><circle cx="598.6" cy="372.4" r="3.4"/><circle cx="611.7" cy="367.5" r="3.4"/><circle cx="608.5" cy="360.9" r="3.4"/><circle cx="609.6" cy="401.5" r="3.4"/><circle cx="581.1" cy="344.7" r="3.4"/><circle cx="556.2" cy="401.9" r="3.4"/><circle cx="561.5" cy="363.0" r="3.4"/><circle cx="625.7" cy="401.0" r="3.4"/><circle cx="648.1" cy="353.3" r="3.4"/><circle cx="630.0" cy="363.4" r="3.4"/><circle cx="602.6" cy="341.6" r="3.4"/><circle cx="573.2" cy="363.4" r="3.4"/><circle cx="606.7" cy="374.8" r="3.4"/><circle cx="585.8" cy="369.6" r="3.4"/><circle cx="610.7" cy="369.6" r="3.4"/><circle cx="605.3" cy="358.0" r="3.4"/><circle cx="572.8" cy="376.7" r="3.4"/><circle cx="621.5" cy="378.2" r="3.4"/><circle cx="617.9" cy="412.0" r="3.4"/><circle cx="625.7" cy="353.4" r="3.4"/><circle cx="605.5" cy="384.4" r="3.4"/><circle cx="591.8" cy="394.1" r="3.4"/><circle cx="630.7" cy="394.7" r="3.4"/><circle cx="604.4" cy="370.9" r="3.4"/><circle cx="621.8" cy="367.8" r="3.4"/><circle cx="601.7" cy="373.0" r="3.4"/><circle cx="577.4" cy="380.0" r="3.4"/><circle cx="593.3" cy="360.3" r="3.4"/><circle cx="571.8" cy="369.6" r="3.4"/><circle cx="581.0" cy="383.4" r="3.4"/><circle cx="592.7" cy="384.4" r="3.4"/><circle cx="588.2" cy="368.9" r="3.4"/><circle cx="657.2" cy="349.7" r="3.4"/><circle cx="580.8" cy="377.6" r="3.4"/><circle cx="593.4" cy="361.3" r="3.4"/><circle cx="612.7" cy="351.0" r="3.4"/><circle cx="652.0" cy="373.1" r="3.4"/><circle cx="604.6" cy="355.9" r="3.4"/><circle cx="616.9" cy="350.6" r="3.4"/><circle cx="597.5" cy="362.8" r="3.4"/><circle cx="581.1" cy="332.0" r="3.4"/><circle cx="587.8" cy="363.8" r="3.4"/><circle cx="624.7" cy="373.0" r="3.4"/><circle cx="600.4" cy="359.9" r="3.4"/><circle cx="603.7" cy="360.0" r="3.4"/><circle cx="602.3" cy="360.5" r="3.4"/><circle cx="633.1" cy="384.5" r="3.4"/><circle cx="641.0" cy="406.4" r="3.4"/><circle cx="604.1" cy="347.9" r="3.4"/><circle cx="591.1" cy="339.9" r="3.4"/><circle cx="593.8" cy="383.3" r="3.4"/><circle cx="568.0" cy="341.6" r="3.4"/><circle cx="596.1" cy="349.0" r="3.4"/><circle cx="617.1" cy="375.1" r="3.4"/><circle cx="616.4" cy="362.7" r="3.4"/><circle cx="589.2" cy="349.1" r="3.4"/><circle cx="602.6" cy="378.9" r="3.4"/><circle cx="593.4" cy="337.8" r="3.4"/><circle cx="604.0" cy="391.0" r="3.4"/><circle cx="627.0" cy="349.3" r="3.4"/><circle cx="609.3" cy="368.4" r="3.4"/><circle cx="585.4" cy="359.0" r="3.4"/><circle cx="593.4" cy="388.6" r="3.4"/><circle cx="586.6" cy="347.8" r="3.4"/><circle cx="605.8" cy="350.4" r="3.4"/><circle cx="595.1" cy="377.1" r="3.4"/><circle cx="571.2" cy="392.2" r="3.4"/><circle cx="588.8" cy="363.6" r="3.4"/><circle cx="619.6" cy="369.5" r="3.4"/><circle cx="576.1" cy="381.7" r="3.4"/><circle cx="578.6" cy="364.1" r="3.4"/><circle cx="609.7" cy="377.4" r="3.4"/><circle cx="651.5" cy="337.0" r="3.4"/><circle cx="610.3" cy="349.9" r="3.4"/><circle cx="582.9" cy="376.8" r="3.4"/><circle cx="595.3" cy="367.5" r="3.4"/><circle cx="614.4" cy="348.2" r="3.4"/><circle cx="638.4" cy="354.4" r="3.4"/><circle cx="639.1" cy="385.2" r="3.4"/><circle cx="578.5" cy="339.6" r="3.4"/><circle cx="591.1" cy="351.4" r="3.4"/><circle cx="597.3" cy="388.6" r="3.4"/><circle cx="603.1" cy="376.9" r="3.4"/><circle cx="617.8" cy="356.9" r="3.4"/><circle cx="611.2" cy="360.8" r="3.4"/><circle cx="600.3" cy="372.8" r="3.4"/><circle cx="638.8" cy="336.8" r="3.4"/><circle cx="605.0" cy="391.9" r="3.4"/><circle cx="568.4" cy="345.9" r="3.4"/><circle cx="603.2" cy="360.9" r="3.4"/><circle cx="591.9" cy="375.6" r="3.4"/><circle cx="598.5" cy="357.4" r="3.4"/><circle cx="647.1" cy="391.0" r="3.4"/><circle cx="614.9" cy="362.5" r="3.4"/><circle cx="572.0" cy="365.0" r="3.4"/><circle cx="606.5" cy="395.4" r="3.4"/><circle cx="614.1" cy="352.6" r="3.4"/><circle cx="592.7" cy="355.8" r="3.4"/><circle cx="623.7" cy="383.7" r="3.4"/><circle cx="591.6" cy="347.1" r="3.4"/><circle cx="619.4" cy="364.1" r="3.4"/><circle cx="589.3" cy="376.0" r="3.4"/><circle cx="583.8" cy="369.2" r="3.4"/><circle cx="623.4" cy="379.1" r="3.4"/><circle cx="567.6" cy="364.6" r="3.4"/><circle cx="651.6" cy="374.4" r="3.4"/><circle cx="599.5" cy="344.5" r="3.4"/><circle cx="554.3" cy="339.5" r="3.4"/><circle cx="573.8" cy="403.0" r="3.4"/><circle cx="581.6" cy="362.5" r="3.4"/><circle cx="550.2" cy="395.4" r="3.4"/><circle cx="639.3" cy="342.5" r="3.4"/><circle cx="666.3" cy="362.3" r="3.4"/><circle cx="586.3" cy="374.8" r="3.4"/><circle cx="614.7" cy="404.4" r="3.4"/><circle cx="651.2" cy="392.2" r="3.4"/><circle cx="592.3" cy="352.4" r="3.4"/><circle cx="618.9" cy="390.8" r="3.4"/><circle cx="626.4" cy="378.9" r="3.4"/><circle cx="564.2" cy="373.4" r="3.4"/><circle cx="610.4" cy="400.2" r="3.4"/><circle cx="629.7" cy="368.1" r="3.4"/><circle cx="606.0" cy="363.9" r="3.4"/><circle cx="607.8" cy="327.8" r="3.4"/><circle cx="632.5" cy="376.3" r="3.4"/><circle cx="635.2" cy="338.7" r="3.4"/><circle cx="601.6" cy="382.3" r="3.4"/><circle cx="557.2" cy="335.0" r="3.4"/><circle cx="595.4" cy="354.5" r="3.4"/><circle cx="601.9" cy="395.7" r="3.4"/><circle cx="603.8" cy="361.6" r="3.4"/><circle cx="607.5" cy="355.7" r="3.4"/><circle cx="586.5" cy="379.4" r="3.4"/><circle cx="604.0" cy="335.0" r="3.4"/><circle cx="568.6" cy="381.2" r="3.4"/><circle cx="657.4" cy="370.1" r="3.4"/><circle cx="595.0" cy="378.8" r="3.4"/><circle cx="592.3" cy="351.7" r="3.4"/><circle cx="636.0" cy="357.7" r="3.4"/><circle cx="599.5" cy="334.4" r="3.4"/><circle cx="607.9" cy="398.8" r="3.4"/><circle cx="655.9" cy="364.1" r="3.4"/><circle cx="581.6" cy="339.9" r="3.4"/><circle cx="604.1" cy="357.1" r="3.4"/><circle cx="611.3" cy="337.8" r="3.4"/><circle cx="624.7" cy="336.9" r="3.4"/><circle cx="585.3" cy="358.1" r="3.4"/><circle cx="591.4" cy="358.0" r="3.4"/><circle cx="562.3" cy="352.5" r="3.4"/><circle cx="623.8" cy="391.9" r="3.4"/><circle cx="594.3" cy="350.7" r="3.4"/><circle cx="590.1" cy="374.8" r="3.4"/><circle cx="610.1" cy="350.7" r="3.4"/><circle cx="629.6" cy="366.6" r="3.4"/><circle cx="585.0" cy="329.7" r="3.4"/><circle cx="557.2" cy="352.8" r="3.4"/><circle cx="579.5" cy="340.8" r="3.4"/><circle cx="615.6" cy="387.2" r="3.4"/><circle cx="608.2" cy="360.1" r="3.4"/><circle cx="583.4" cy="348.5" r="3.4"/><circle cx="610.7" cy="384.2" r="3.4"/><circle cx="593.6" cy="395.1" r="3.4"/><circle cx="603.4" cy="363.6" r="3.4"/><circle cx="582.8" cy="356.6" r="3.4"/><circle cx="569.8" cy="373.4" r="3.4"/><circle cx="607.6" cy="371.6" r="3.4"/><circle cx="613.9" cy="346.3" r="3.4"/><circle cx="602.7" cy="347.6" r="3.4"/><circle cx="564.1" cy="420.9" r="3.4"/><circle cx="618.1" cy="354.3" r="3.4"/><circle cx="626.8" cy="375.3" r="3.4"/><circle cx="588.5" cy="360.3" r="3.4"/><circle cx="599.6" cy="340.0" r="3.4"/><circle cx="600.3" cy="370.9" r="3.4"/><circle cx="594.4" cy="355.9" r="3.4"/><circle cx="602.3" cy="354.8" r="3.4"/><circle cx="625.4" cy="391.2" r="3.4"/><circle cx="616.0" cy="366.9" r="3.4"/><circle cx="559.8" cy="367.1" r="3.4"/><circle cx="595.2" cy="323.4" r="3.4"/><circle cx="597.8" cy="370.8" r="3.4"/><circle cx="575.9" cy="364.6" r="3.4"/><circle cx="542.3" cy="351.8" r="3.4"/><circle cx="622.9" cy="357.2" r="3.4"/><circle cx="611.9" cy="374.2" r="3.4"/><circle cx="612.5" cy="348.1" r="3.4"/><circle cx="595.5" cy="363.7" r="3.4"/><circle cx="632.3" cy="330.7" r="3.4"/><circle cx="643.0" cy="351.3" r="3.4"/><circle cx="631.4" cy="353.0" r="3.4"/><circle cx="619.5" cy="363.1" r="3.4"/><circle cx="641.6" cy="410.6" r="3.4"/><circle cx="607.7" cy="423.3" r="3.4"/><circle cx="617.2" cy="340.6" r="3.4"/><circle cx="573.5" cy="391.3" r="3.4"/><circle cx="594.3" cy="383.6" r="3.4"/><circle cx="627.4" cy="390.2" r="3.4"/><circle cx="624.6" cy="385.0" r="3.4"/><circle cx="618.7" cy="364.7" r="3.4"/><circle cx="601.6" cy="375.2" r="3.4"/><circle cx="562.6" cy="383.8" r="3.4"/><circle cx="590.6" cy="347.1" r="3.4"/><circle cx="623.2" cy="364.6" r="3.4"/><circle cx="564.4" cy="372.2" r="3.4"/><circle cx="610.9" cy="398.2" r="3.4"/><circle cx="584.7" cy="381.8" r="3.4"/><circle cx="590.0" cy="347.8" r="3.4"/><circle cx="575.3" cy="374.0" r="3.4"/><circle cx="634.4" cy="364.5" r="3.4"/><circle cx="606.9" cy="361.2" r="3.4"/><circle cx="602.3" cy="365.5" r="3.4"/><circle cx="662.0" cy="358.7" r="3.4"/><circle cx="586.2" cy="377.8" r="3.4"/><circle cx="555.6" cy="355.9" r="3.4"/><circle cx="614.5" cy="391.0" r="3.4"/><circle cx="637.2" cy="385.3" r="3.4"/><circle cx="644.3" cy="383.3" r="3.4"/><circle cx="560.0" cy="378.4" r="3.4"/><circle cx="576.1" cy="385.0" r="3.4"/><circle cx="640.4" cy="387.4" r="3.4"/><circle cx="594.1" cy="330.5" r="3.4"/><circle cx="639.4" cy="348.9" r="3.4"/><circle cx="650.4" cy="373.8" r="3.4"/><circle cx="564.7" cy="386.9" r="3.4"/><circle cx="644.9" cy="358.6" r="3.4"/><circle cx="617.7" cy="396.9" r="3.4"/><circle cx="650.4" cy="362.2" r="3.4"/><circle cx="610.0" cy="329.7" r="3.4"/><circle cx="612.9" cy="396.5" r="3.4"/><circle cx="554.9" cy="358.3" r="3.4"/><circle cx="553.6" cy="356.8" r="3.4"/><circle cx="600.9" cy="330.6" r="3.4"/><circle cx="643.4" cy="347.4" r="3.4"/><circle cx="567.7" cy="341.1" r="3.4"/><circle cx="627.5" cy="387.2" r="3.4"/><circle cx="557.5" cy="359.6" r="3.4"/><circle cx="559.8" cy="347.5" r="3.4"/><circle cx="626.5" cy="393.3" r="3.4"/><circle cx="567.2" cy="347.4" r="3.4"/><circle cx="616.9" cy="337.1" r="3.4"/><circle cx="576.5" cy="342.5" r="3.4"/><circle cx="558.7" cy="370.2" r="3.4"/><circle cx="559.1" cy="375.5" r="3.4"/><circle cx="639.8" cy="384.1" r="3.4"/><circle cx="556.6" cy="378.8" r="3.4"/><circle cx="586.0" cy="336.6" r="3.4"/><circle cx="611.1" cy="331.2" r="3.4"/><circle cx="592.5" cy="330.5" r="3.4"/><circle cx="587.7" cy="337.8" r="3.4"/><circle cx="637.5" cy="351.0" r="3.4"/><circle cx="647.1" cy="371.9" r="3.4"/><circle cx="567.4" cy="377.8" r="3.4"/><circle cx="597.6" cy="392.3" r="3.4"/><circle cx="581.3" cy="390.5" r="3.4"/><circle cx="583.8" cy="392.1" r="3.4"/><circle cx="609.9" cy="332.1" r="3.4"/><circle cx="559.2" cy="370.7" r="3.4"/><circle cx="640.0" cy="340.1" r="3.4"/><circle cx="606.1" cy="398.2" r="3.4"/><circle cx="618.9" cy="332.3" r="3.4"/><circle cx="630.9" cy="388.4" r="3.4"/><circle cx="567.4" cy="344.9" r="3.4"/><circle cx="641.3" cy="350.6" r="3.4"/><circle cx="554.7" cy="355.4" r="3.4"/><circle cx="561.1" cy="361.3" r="3.4"/><circle cx="628.1" cy="392.4" r="3.4"/><circle cx="645.7" cy="352.0" r="3.4"/><circle cx="649.0" cy="373.7" r="3.4"/><circle cx="599.1" cy="393.5" r="3.4"/><circle cx="608.8" cy="395.4" r="3.4"/><circle cx="648.4" cy="367.3" r="3.4"/><circle cx="602.3" cy="398.5" r="3.4"/><circle cx="596.1" cy="396.9" r="3.4"/><circle cx="563.4" cy="383.2" r="3.4"/><circle cx="582.7" cy="393.9" r="3.4"/><circle cx="630.1" cy="389.9" r="3.4"/><circle cx="584.8" cy="331.9" r="3.4"/><circle cx="619.0" cy="339.5" r="3.4"/><circle cx="604.0" cy="334.9" r="3.4"/><circle cx="596.3" cy="391.9" r="3.4"/><circle cx="646.3" cy="347.3" r="3.4"/><circle cx="604.6" cy="334.6" r="3.4"/><circle cx="569.1" cy="338.6" r="3.4"/><circle cx="625.2" cy="341.9" r="3.4"/><circle cx="572.9" cy="338.1" r="3.4"/><circle cx="566.6" cy="379.9" r="3.4"/><circle cx="628.8" cy="389.3" r="3.4"/><circle cx="566.5" cy="387.0" r="3.4"/><circle cx="597.8" cy="330.4" r="3.4"/><circle cx="650.6" cy="361.7" r="3.4"/><circle cx="643.0" cy="378.6" r="3.4"/><circle cx="620.7" cy="340.1" r="3.4"/><circle cx="647.1" cy="370.4" r="3.4"/><circle cx="616.1" cy="397.0" r="3.4"/><circle cx="579.8" cy="339.2" r="3.4"/><circle cx="612.2" cy="394.5" r="3.4"/><circle cx="587.1" cy="337.7" r="3.4"/><circle cx="555.7" cy="375.5" r="3.4"/><circle cx="553.9" cy="371.3" r="3.4"/><circle cx="631.8" cy="336.0" r="3.4"/><circle cx="604.1" cy="395.8" r="3.4"/><circle cx="589.3" cy="334.6" r="3.4"/><circle cx="640.0" cy="378.4" r="3.4"/><circle cx="573.9" cy="294.4" r="3.4"/><circle cx="592.7" cy="294.4" r="3.4"/><circle cx="598.9" cy="296.9" r="3.4"/><circle cx="591.1" cy="301.3" r="3.4"/><circle cx="623.3" cy="296.0" r="3.4"/><circle cx="622.4" cy="303.8" r="3.4"/><circle cx="617.7" cy="307.5" r="3.4"/><circle cx="606.8" cy="306.9" r="3.4"/><circle cx="581.7" cy="306.3" r="3.4"/><circle cx="570.1" cy="306.9" r="3.4"/><circle cx="555.1" cy="310.7" r="3.4"/><circle cx="543.5" cy="316.9" r="3.4"/><circle cx="524.8" cy="325.1" r="3.4"/><circle cx="541.0" cy="333.5" r="3.4"/><circle cx="542.0" cy="332.0" r="3.4"/><circle cx="551.4" cy="332.0" r="3.4"/><circle cx="554.5" cy="331.3" r="3.4"/><circle cx="559.8" cy="324.1" r="3.4"/><circle cx="567.0" cy="318.8" r="3.4"/><circle cx="500.3" cy="341.3" r="3.4"/><circle cx="522.3" cy="353.9" r="3.4"/><circle cx="536.3" cy="349.2" r="3.4"/><circle cx="534.8" cy="363.2" r="3.4"/><circle cx="533.2" cy="367.0" r="3.4"/><circle cx="535.7" cy="380.5" r="3.4"/><circle cx="555.1" cy="383.6" r="3.4"/><circle cx="570.8" cy="393.9" r="3.4"/><circle cx="592.0" cy="404.9" r="3.4"/><circle cx="598.3" cy="425.2" r="3.4"/><circle cx="615.2" cy="412.7" r="3.4"/><circle cx="617.7" cy="411.8" r="3.4"/><circle cx="625.5" cy="418.0" r="3.4"/><circle cx="631.8" cy="419.0" r="3.4"/><circle cx="637.4" cy="412.7" r="3.4"/><circle cx="634.0" cy="407.1" r="3.4"/><circle cx="628.7" cy="405.5" r="3.4"/><circle cx="644.3" cy="405.5" r="3.4"/><circle cx="649.0" cy="410.2" r="3.4"/><circle cx="652.1" cy="396.1" r="3.4"/><circle cx="645.9" cy="393.0" r="3.4"/><circle cx="660.9" cy="354.5" r="3.4"/><circle cx="656.8" cy="361.7" r="3.4"/><circle cx="650.6" cy="354.5" r="3.4"/><circle cx="674.0" cy="372.8" r="3.4"/><circle cx="641.2" cy="346.0" r="3.4"/><circle cx="634.9" cy="322.6" r="3.4"/><circle cx="639.6" cy="331.3" r="3.4"/><circle cx="634.0" cy="333.5" r="3.4"/><circle cx="642.8" cy="338.2" r="3.4"/><circle cx="619.3" cy="325.1" r="3.4"/><circle cx="610.8" cy="316.3" r="3.4"/><circle cx="603.6" cy="319.4" r="3.4"/><circle cx="597.4" cy="313.8" r="3.4"/><circle cx="589.5" cy="312.5" r="3.4"/><circle cx="588.0" cy="317.9" r="3.4"/><circle cx="577.0" cy="316.3" r="3.4"/><circle cx="571.4" cy="319.4" r="3.4"/><circle cx="572.3" cy="328.8" r="3.4"/><circle cx="560.8" cy="337.6" r="3.4"/><circle cx="553.6" cy="346.0" r="3.4"/><circle cx="542.6" cy="357.6" r="3.4"/><circle cx="548.2" cy="367.0" r="3.4"/><circle cx="550.4" cy="374.2" r="3.4"/><circle cx="562.0" cy="378.9" r="3.4"/><circle cx="572.3" cy="388.3" r="3.4"/><circle cx="583.3" cy="394.5" r="3.4"/><circle cx="606.8" cy="400.8" r="3.4"/><circle cx="616.1" cy="403.9" r="3.4"/><circle cx="617.1" cy="397.7" r="3.4"/></g>
<line x1="481.3" y1="339.6" x2="694.2" y2="380.8" stroke="#000" stroke-width="2.2"/>
</svg>
</body></html>
